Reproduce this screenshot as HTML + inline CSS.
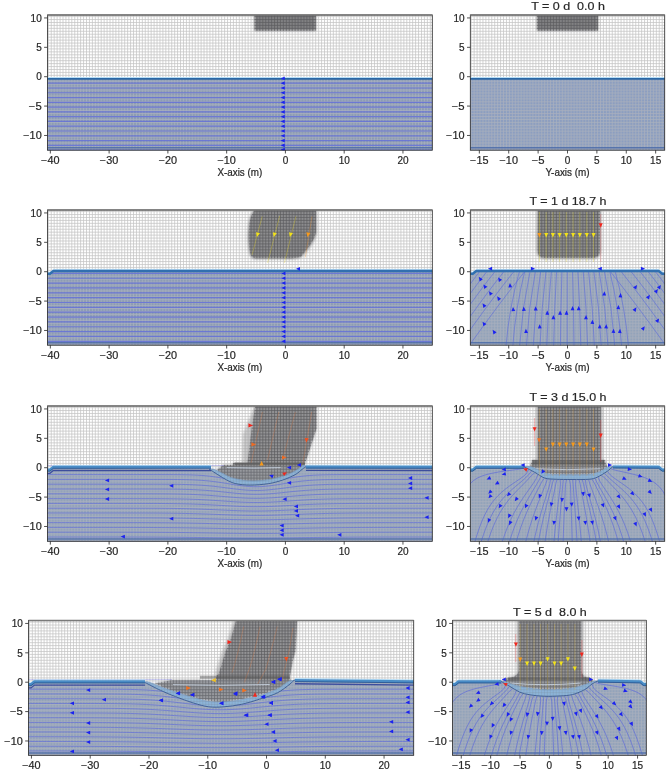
<!DOCTYPE html><html><head><meta charset="utf-8"><style>html,body{margin:0;padding:0;background:#fff;overflow:hidden}svg{display:block}</style></head><body><svg width="669" height="771" viewBox="0 0 669 771" font-family="Liberation Sans, sans-serif"><defs><filter id="gb" x="0" y="0" width="669" height="771" filterUnits="userSpaceOnUse"><feGaussianBlur stdDeviation="0.3"/></filter><filter id="sb" x="-0.2" y="-0.2" width="1.4" height="1.4"><feGaussianBlur stdDeviation="0.9"/></filter></defs><rect width="669" height="771" fill="#fff"/><g filter="url(#gb)"><clipPath id="cL1"><rect x="47.4" y="15" width="384.9" height="135.2"/></clipPath><g clip-path="url(#cL1)"><rect x="47.4" y="15" width="384.9" height="135.2" fill="#fff"/><path d="M48.3 15V150.2M51.24 15V150.2M54.18 15V150.2M57.12 15V150.2M60.05 15V150.2M62.99 15V150.2M65.93 15V150.2M68.87 15V150.2M71.81 15V150.2M74.75 15V150.2M77.69 15V150.2M80.62 15V150.2M83.56 15V150.2M86.5 15V150.2M89.44 15V150.2M92.38 15V150.2M95.32 15V150.2M98.25 15V150.2M101.19 15V150.2M104.13 15V150.2M107.07 15V150.2M110.01 15V150.2M112.95 15V150.2M115.89 15V150.2M118.82 15V150.2M121.76 15V150.2M124.7 15V150.2M127.64 15V150.2M130.58 15V150.2M133.52 15V150.2M136.46 15V150.2M139.39 15V150.2M142.33 15V150.2M145.27 15V150.2M148.21 15V150.2M151.15 15V150.2M154.09 15V150.2M157.02 15V150.2M159.96 15V150.2M162.9 15V150.2M165.84 15V150.2M168.78 15V150.2M171.72 15V150.2M174.66 15V150.2M177.59 15V150.2M180.53 15V150.2M183.47 15V150.2M186.41 15V150.2M189.35 15V150.2M192.29 15V150.2M195.23 15V150.2M198.16 15V150.2M201.1 15V150.2M204.04 15V150.2M206.98 15V150.2M209.92 15V150.2M212.86 15V150.2M215.79 15V150.2M218.73 15V150.2M221.67 15V150.2M224.61 15V150.2M227.55 15V150.2M230.49 15V150.2M233.43 15V150.2M236.36 15V150.2M239.3 15V150.2M242.24 15V150.2M245.18 15V150.2M248.12 15V150.2M251.06 15V150.2M254 15V150.2M256.93 15V150.2M259.87 15V150.2M262.81 15V150.2M265.75 15V150.2M268.69 15V150.2M271.63 15V150.2M274.56 15V150.2M277.5 15V150.2M280.44 15V150.2M283.38 15V150.2M286.32 15V150.2M289.26 15V150.2M292.2 15V150.2M295.13 15V150.2M298.07 15V150.2M301.01 15V150.2M303.95 15V150.2M306.89 15V150.2M309.83 15V150.2M312.76 15V150.2M315.7 15V150.2M318.64 15V150.2M321.58 15V150.2M324.52 15V150.2M327.46 15V150.2M330.4 15V150.2M333.33 15V150.2M336.27 15V150.2M339.21 15V150.2M342.15 15V150.2M345.09 15V150.2M348.03 15V150.2M350.97 15V150.2M353.9 15V150.2M356.84 15V150.2M359.78 15V150.2M362.72 15V150.2M365.66 15V150.2M368.6 15V150.2M371.53 15V150.2M374.47 15V150.2M377.41 15V150.2M380.35 15V150.2M383.29 15V150.2M386.23 15V150.2M389.17 15V150.2M392.1 15V150.2M395.04 15V150.2M397.98 15V150.2M400.92 15V150.2M403.86 15V150.2M406.8 15V150.2M409.74 15V150.2M412.67 15V150.2M415.61 15V150.2M418.55 15V150.2M421.49 15V150.2M424.43 15V150.2M427.37 15V150.2M430.3 15V150.2M47.4 16.6H432.3M47.4 19.54H432.3M47.4 22.48H432.3M47.4 25.42H432.3M47.4 28.35H432.3M47.4 31.29H432.3M47.4 34.23H432.3M47.4 37.17H432.3M47.4 40.11H432.3M47.4 43.05H432.3M47.4 45.98H432.3M47.4 48.92H432.3M47.4 51.86H432.3M47.4 54.8H432.3M47.4 57.74H432.3M47.4 60.68H432.3M47.4 63.62H432.3M47.4 66.55H432.3M47.4 69.49H432.3M47.4 72.43H432.3M47.4 75.37H432.3M47.4 78.31H432.3M47.4 81.25H432.3M47.4 84.19H432.3M47.4 87.12H432.3M47.4 90.06H432.3M47.4 93H432.3M47.4 95.94H432.3M47.4 98.88H432.3M47.4 101.82H432.3M47.4 104.76H432.3M47.4 107.69H432.3M47.4 110.63H432.3M47.4 113.57H432.3M47.4 116.51H432.3M47.4 119.45H432.3M47.4 122.39H432.3M47.4 125.32H432.3M47.4 128.26H432.3M47.4 131.2H432.3M47.4 134.14H432.3M47.4 137.08H432.3M47.4 140.02H432.3M47.4 142.96H432.3M47.4 145.89H432.3M47.4 148.83H432.3" stroke="#c4c4c4" stroke-width="0.75" fill="none"/><clipPath id="wL1"><path d="M46.4 78.85 L433.3 78.85 L433.3 151.2 L46.4 151.2Z"/></clipPath><path d="M46.4 78.85 L433.3 78.85 L433.3 151.2 L46.4 151.2Z" fill="#8c9cb4"/><g clip-path="url(#wL1)"><path d="M48.3 15V150.2M51.24 15V150.2M54.18 15V150.2M57.12 15V150.2M60.05 15V150.2M62.99 15V150.2M65.93 15V150.2M68.87 15V150.2M71.81 15V150.2M74.75 15V150.2M77.69 15V150.2M80.62 15V150.2M83.56 15V150.2M86.5 15V150.2M89.44 15V150.2M92.38 15V150.2M95.32 15V150.2M98.25 15V150.2M101.19 15V150.2M104.13 15V150.2M107.07 15V150.2M110.01 15V150.2M112.95 15V150.2M115.89 15V150.2M118.82 15V150.2M121.76 15V150.2M124.7 15V150.2M127.64 15V150.2M130.58 15V150.2M133.52 15V150.2M136.46 15V150.2M139.39 15V150.2M142.33 15V150.2M145.27 15V150.2M148.21 15V150.2M151.15 15V150.2M154.09 15V150.2M157.02 15V150.2M159.96 15V150.2M162.9 15V150.2M165.84 15V150.2M168.78 15V150.2M171.72 15V150.2M174.66 15V150.2M177.59 15V150.2M180.53 15V150.2M183.47 15V150.2M186.41 15V150.2M189.35 15V150.2M192.29 15V150.2M195.23 15V150.2M198.16 15V150.2M201.1 15V150.2M204.04 15V150.2M206.98 15V150.2M209.92 15V150.2M212.86 15V150.2M215.79 15V150.2M218.73 15V150.2M221.67 15V150.2M224.61 15V150.2M227.55 15V150.2M230.49 15V150.2M233.43 15V150.2M236.36 15V150.2M239.3 15V150.2M242.24 15V150.2M245.18 15V150.2M248.12 15V150.2M251.06 15V150.2M254 15V150.2M256.93 15V150.2M259.87 15V150.2M262.81 15V150.2M265.75 15V150.2M268.69 15V150.2M271.63 15V150.2M274.56 15V150.2M277.5 15V150.2M280.44 15V150.2M283.38 15V150.2M286.32 15V150.2M289.26 15V150.2M292.2 15V150.2M295.13 15V150.2M298.07 15V150.2M301.01 15V150.2M303.95 15V150.2M306.89 15V150.2M309.83 15V150.2M312.76 15V150.2M315.7 15V150.2M318.64 15V150.2M321.58 15V150.2M324.52 15V150.2M327.46 15V150.2M330.4 15V150.2M333.33 15V150.2M336.27 15V150.2M339.21 15V150.2M342.15 15V150.2M345.09 15V150.2M348.03 15V150.2M350.97 15V150.2M353.9 15V150.2M356.84 15V150.2M359.78 15V150.2M362.72 15V150.2M365.66 15V150.2M368.6 15V150.2M371.53 15V150.2M374.47 15V150.2M377.41 15V150.2M380.35 15V150.2M383.29 15V150.2M386.23 15V150.2M389.17 15V150.2M392.1 15V150.2M395.04 15V150.2M397.98 15V150.2M400.92 15V150.2M403.86 15V150.2M406.8 15V150.2M409.74 15V150.2M412.67 15V150.2M415.61 15V150.2M418.55 15V150.2M421.49 15V150.2M424.43 15V150.2M427.37 15V150.2M430.3 15V150.2M47.4 16.6H432.3M47.4 19.54H432.3M47.4 22.48H432.3M47.4 25.42H432.3M47.4 28.35H432.3M47.4 31.29H432.3M47.4 34.23H432.3M47.4 37.17H432.3M47.4 40.11H432.3M47.4 43.05H432.3M47.4 45.98H432.3M47.4 48.92H432.3M47.4 51.86H432.3M47.4 54.8H432.3M47.4 57.74H432.3M47.4 60.68H432.3M47.4 63.62H432.3M47.4 66.55H432.3M47.4 69.49H432.3M47.4 72.43H432.3M47.4 75.37H432.3M47.4 78.31H432.3M47.4 81.25H432.3M47.4 84.19H432.3M47.4 87.12H432.3M47.4 90.06H432.3M47.4 93H432.3M47.4 95.94H432.3M47.4 98.88H432.3M47.4 101.82H432.3M47.4 104.76H432.3M47.4 107.69H432.3M47.4 110.63H432.3M47.4 113.57H432.3M47.4 116.51H432.3M47.4 119.45H432.3M47.4 122.39H432.3M47.4 125.32H432.3M47.4 128.26H432.3M47.4 131.2H432.3M47.4 134.14H432.3M47.4 137.08H432.3M47.4 140.02H432.3M47.4 142.96H432.3M47.4 145.89H432.3M47.4 148.83H432.3" stroke="#aab0be" stroke-width="0.75" fill="none"/><path d="M47.4 83.2H432.3M47.4 87.98H432.3M47.4 92.76H432.3M47.4 97.54H432.3M47.4 102.32H432.3M47.4 107.1H432.3M47.4 111.88H432.3M47.4 116.66H432.3M47.4 121.44H432.3M47.4 126.22H432.3M47.4 131H432.3M47.4 135.78H432.3M47.4 140.56H432.3M47.4 145.34H432.3M47.4 150.12H432.3" stroke="#6470d8" stroke-width="1.2" opacity="0.85" fill="none"/><path d="M47.4 147.8H432.3" stroke="#4c6ca8" stroke-width="1.5" opacity="0.85"/></g><clipPath id="bL1"><path d="M254.5 14 H315.9 V30 Q315.9 30.8 315.1 30.8 H255.3 Q254.5 30.8 254.5 30 Z"/></clipPath><path d="M254.5 14 H315.9 V30 Q315.9 30.8 315.1 30.8 H255.3 Q254.5 30.8 254.5 30 Z" fill="#818183" filter="url(#sb)"/><g clip-path="url(#bL1)" opacity="0.9"><path d="M48.3 15V150.2M51.24 15V150.2M54.18 15V150.2M57.12 15V150.2M60.05 15V150.2M62.99 15V150.2M65.93 15V150.2M68.87 15V150.2M71.81 15V150.2M74.75 15V150.2M77.69 15V150.2M80.62 15V150.2M83.56 15V150.2M86.5 15V150.2M89.44 15V150.2M92.38 15V150.2M95.32 15V150.2M98.25 15V150.2M101.19 15V150.2M104.13 15V150.2M107.07 15V150.2M110.01 15V150.2M112.95 15V150.2M115.89 15V150.2M118.82 15V150.2M121.76 15V150.2M124.7 15V150.2M127.64 15V150.2M130.58 15V150.2M133.52 15V150.2M136.46 15V150.2M139.39 15V150.2M142.33 15V150.2M145.27 15V150.2M148.21 15V150.2M151.15 15V150.2M154.09 15V150.2M157.02 15V150.2M159.96 15V150.2M162.9 15V150.2M165.84 15V150.2M168.78 15V150.2M171.72 15V150.2M174.66 15V150.2M177.59 15V150.2M180.53 15V150.2M183.47 15V150.2M186.41 15V150.2M189.35 15V150.2M192.29 15V150.2M195.23 15V150.2M198.16 15V150.2M201.1 15V150.2M204.04 15V150.2M206.98 15V150.2M209.92 15V150.2M212.86 15V150.2M215.79 15V150.2M218.73 15V150.2M221.67 15V150.2M224.61 15V150.2M227.55 15V150.2M230.49 15V150.2M233.43 15V150.2M236.36 15V150.2M239.3 15V150.2M242.24 15V150.2M245.18 15V150.2M248.12 15V150.2M251.06 15V150.2M254 15V150.2M256.93 15V150.2M259.87 15V150.2M262.81 15V150.2M265.75 15V150.2M268.69 15V150.2M271.63 15V150.2M274.56 15V150.2M277.5 15V150.2M280.44 15V150.2M283.38 15V150.2M286.32 15V150.2M289.26 15V150.2M292.2 15V150.2M295.13 15V150.2M298.07 15V150.2M301.01 15V150.2M303.95 15V150.2M306.89 15V150.2M309.83 15V150.2M312.76 15V150.2M315.7 15V150.2M318.64 15V150.2M321.58 15V150.2M324.52 15V150.2M327.46 15V150.2M330.4 15V150.2M333.33 15V150.2M336.27 15V150.2M339.21 15V150.2M342.15 15V150.2M345.09 15V150.2M348.03 15V150.2M350.97 15V150.2M353.9 15V150.2M356.84 15V150.2M359.78 15V150.2M362.72 15V150.2M365.66 15V150.2M368.6 15V150.2M371.53 15V150.2M374.47 15V150.2M377.41 15V150.2M380.35 15V150.2M383.29 15V150.2M386.23 15V150.2M389.17 15V150.2M392.1 15V150.2M395.04 15V150.2M397.98 15V150.2M400.92 15V150.2M403.86 15V150.2M406.8 15V150.2M409.74 15V150.2M412.67 15V150.2M415.61 15V150.2M418.55 15V150.2M421.49 15V150.2M424.43 15V150.2M427.37 15V150.2M430.3 15V150.2M47.4 16.6H432.3M47.4 19.54H432.3M47.4 22.48H432.3M47.4 25.42H432.3M47.4 28.35H432.3M47.4 31.29H432.3M47.4 34.23H432.3M47.4 37.17H432.3M47.4 40.11H432.3M47.4 43.05H432.3M47.4 45.98H432.3M47.4 48.92H432.3M47.4 51.86H432.3M47.4 54.8H432.3M47.4 57.74H432.3M47.4 60.68H432.3M47.4 63.62H432.3M47.4 66.55H432.3M47.4 69.49H432.3M47.4 72.43H432.3M47.4 75.37H432.3M47.4 78.31H432.3M47.4 81.25H432.3M47.4 84.19H432.3M47.4 87.12H432.3M47.4 90.06H432.3M47.4 93H432.3M47.4 95.94H432.3M47.4 98.88H432.3M47.4 101.82H432.3M47.4 104.76H432.3M47.4 107.69H432.3M47.4 110.63H432.3M47.4 113.57H432.3M47.4 116.51H432.3M47.4 119.45H432.3M47.4 122.39H432.3M47.4 125.32H432.3M47.4 128.26H432.3M47.4 131.2H432.3M47.4 134.14H432.3M47.4 137.08H432.3M47.4 140.02H432.3M47.4 142.96H432.3M47.4 145.89H432.3M47.4 148.83H432.3" stroke="#5e5e60" stroke-width="0.8" fill="none"/></g><path d="M46.4 78.85 L433.3 78.85" fill="none" stroke="#b8def6" stroke-width="1" transform="translate(0,-1.35)"/><path d="M46.4 78.85 L433.3 78.85" fill="none" stroke="#2a66a4" stroke-width="1.9" stroke-linejoin="round"/><polygon points="280.70,78.40 284.73,76.56 284.73,80.24" fill="#1a22f0"/><polygon points="280.70,83.20 284.73,81.36 284.73,85.04" fill="#1a22f0"/><polygon points="280.70,87.98 284.73,86.14 284.73,89.82" fill="#1a22f0"/><polygon points="280.70,92.76 284.73,90.92 284.73,94.60" fill="#1a22f0"/><polygon points="280.70,97.54 284.73,95.70 284.73,99.38" fill="#1a22f0"/><polygon points="280.70,102.32 284.73,100.48 284.73,104.16" fill="#1a22f0"/><polygon points="280.70,107.10 284.73,105.26 284.73,108.94" fill="#1a22f0"/><polygon points="280.70,111.88 284.73,110.04 284.73,113.72" fill="#1a22f0"/><polygon points="280.70,116.66 284.73,114.82 284.73,118.50" fill="#1a22f0"/><polygon points="280.70,121.44 284.73,119.60 284.73,123.28" fill="#1a22f0"/><polygon points="280.70,126.22 284.73,124.38 284.73,128.06" fill="#1a22f0"/><polygon points="280.70,131.00 284.73,129.16 284.73,132.84" fill="#1a22f0"/><polygon points="280.70,135.78 284.73,133.94 284.73,137.62" fill="#1a22f0"/><polygon points="280.70,140.56 284.73,138.72 284.73,142.40" fill="#1a22f0"/><polygon points="280.70,145.34 284.73,143.50 284.73,147.18" fill="#1a22f0"/><polygon points="280.70,150.12 284.73,148.28 284.73,151.96" fill="#1a22f0"/><polygon points="280.70,149.70 284.73,147.86 284.73,151.54" fill="#1a22f0"/></g><rect x="47.4" y="15" width="384.9" height="135.2" fill="none" stroke="#262626" stroke-width="0.8"/><path d="M47.4 15H432.3" stroke="#7a7a7a" stroke-width="1.5"/><path d="M44.1 17.94H47.4" stroke="#262626" stroke-width="0.8"/><text x="41.7" y="21.64" font-size="10.15" text-anchor="end" fill="#262626" stroke="#262626" stroke-width="0.2" textLength="11.13" lengthAdjust="spacingAndGlyphs">10</text><path d="M44.1 47.32H47.4" stroke="#262626" stroke-width="0.8"/><text x="41.7" y="51.02" font-size="10.15" text-anchor="end" fill="#262626" stroke="#262626" stroke-width="0.2" textLength="5.57" lengthAdjust="spacingAndGlyphs">5</text><path d="M44.1 76.71H47.4" stroke="#262626" stroke-width="0.8"/><text x="41.7" y="80.41" font-size="10.15" text-anchor="end" fill="#262626" stroke="#262626" stroke-width="0.2" textLength="5.57" lengthAdjust="spacingAndGlyphs">0</text><path d="M44.1 106.09H47.4" stroke="#262626" stroke-width="0.8"/><text x="41.7" y="109.79" font-size="10.15" text-anchor="end" fill="#262626" stroke="#262626" stroke-width="0.2" textLength="12.9" lengthAdjust="spacingAndGlyphs">−5</text><path d="M44.1 135.48H47.4" stroke="#262626" stroke-width="0.8"/><text x="41.7" y="139.18" font-size="10.15" text-anchor="end" fill="#262626" stroke="#262626" stroke-width="0.2" textLength="18.46" lengthAdjust="spacingAndGlyphs">−10</text><path d="M50.34 150.2V153.5" stroke="#262626" stroke-width="0.8"/><text x="50.34" y="164" font-size="10.15" text-anchor="middle" fill="#262626" stroke="#262626" stroke-width="0.2" textLength="18.46" lengthAdjust="spacingAndGlyphs">−40</text><path d="M109.11 150.2V153.5" stroke="#262626" stroke-width="0.8"/><text x="109.11" y="164" font-size="10.15" text-anchor="middle" fill="#262626" stroke="#262626" stroke-width="0.2" textLength="18.46" lengthAdjust="spacingAndGlyphs">−30</text><path d="M167.88 150.2V153.5" stroke="#262626" stroke-width="0.8"/><text x="167.88" y="164" font-size="10.15" text-anchor="middle" fill="#262626" stroke="#262626" stroke-width="0.2" textLength="18.46" lengthAdjust="spacingAndGlyphs">−20</text><path d="M226.65 150.2V153.5" stroke="#262626" stroke-width="0.8"/><text x="226.65" y="164" font-size="10.15" text-anchor="middle" fill="#262626" stroke="#262626" stroke-width="0.2" textLength="18.46" lengthAdjust="spacingAndGlyphs">−10</text><path d="M285.42 150.2V153.5" stroke="#262626" stroke-width="0.8"/><text x="285.42" y="164" font-size="10.15" text-anchor="middle" fill="#262626" stroke="#262626" stroke-width="0.2" textLength="5.57" lengthAdjust="spacingAndGlyphs">0</text><path d="M344.19 150.2V153.5" stroke="#262626" stroke-width="0.8"/><text x="344.19" y="164" font-size="10.15" text-anchor="middle" fill="#262626" stroke="#262626" stroke-width="0.2" textLength="11.13" lengthAdjust="spacingAndGlyphs">10</text><path d="M402.96 150.2V153.5" stroke="#262626" stroke-width="0.8"/><text x="402.96" y="164" font-size="10.15" text-anchor="middle" fill="#262626" stroke="#262626" stroke-width="0.2" textLength="11.13" lengthAdjust="spacingAndGlyphs">20</text><text x="239.85" y="175.6" font-size="10.15" text-anchor="middle" fill="#262626" stroke="#262626" stroke-width="0.2" textLength="44.82" lengthAdjust="spacingAndGlyphs">X-axis (m)</text><clipPath id="cR1"><rect x="470.3" y="15" width="194.4" height="135.2"/></clipPath><g clip-path="url(#cR1)"><rect x="470.3" y="15" width="194.4" height="135.2" fill="#fff"/><path d="M471.2 15V150.2M474.14 15V150.2M477.08 15V150.2M480.02 15V150.2M482.95 15V150.2M485.89 15V150.2M488.83 15V150.2M491.77 15V150.2M494.71 15V150.2M497.65 15V150.2M500.58 15V150.2M503.52 15V150.2M506.46 15V150.2M509.4 15V150.2M512.34 15V150.2M515.28 15V150.2M518.22 15V150.2M521.15 15V150.2M524.09 15V150.2M527.03 15V150.2M529.97 15V150.2M532.91 15V150.2M535.85 15V150.2M538.79 15V150.2M541.72 15V150.2M544.66 15V150.2M547.6 15V150.2M550.54 15V150.2M553.48 15V150.2M556.42 15V150.2M559.35 15V150.2M562.29 15V150.2M565.23 15V150.2M568.17 15V150.2M571.11 15V150.2M574.05 15V150.2M576.99 15V150.2M579.92 15V150.2M582.86 15V150.2M585.8 15V150.2M588.74 15V150.2M591.68 15V150.2M594.62 15V150.2M597.56 15V150.2M600.49 15V150.2M603.43 15V150.2M606.37 15V150.2M609.31 15V150.2M612.25 15V150.2M615.19 15V150.2M618.12 15V150.2M621.06 15V150.2M624 15V150.2M626.94 15V150.2M629.88 15V150.2M632.82 15V150.2M635.76 15V150.2M638.69 15V150.2M641.63 15V150.2M644.57 15V150.2M647.51 15V150.2M650.45 15V150.2M653.39 15V150.2M656.33 15V150.2M659.26 15V150.2M662.2 15V150.2M470.3 16.6H664.7M470.3 19.54H664.7M470.3 22.48H664.7M470.3 25.42H664.7M470.3 28.35H664.7M470.3 31.29H664.7M470.3 34.23H664.7M470.3 37.17H664.7M470.3 40.11H664.7M470.3 43.05H664.7M470.3 45.98H664.7M470.3 48.92H664.7M470.3 51.86H664.7M470.3 54.8H664.7M470.3 57.74H664.7M470.3 60.68H664.7M470.3 63.62H664.7M470.3 66.55H664.7M470.3 69.49H664.7M470.3 72.43H664.7M470.3 75.37H664.7M470.3 78.31H664.7M470.3 81.25H664.7M470.3 84.19H664.7M470.3 87.12H664.7M470.3 90.06H664.7M470.3 93H664.7M470.3 95.94H664.7M470.3 98.88H664.7M470.3 101.82H664.7M470.3 104.76H664.7M470.3 107.69H664.7M470.3 110.63H664.7M470.3 113.57H664.7M470.3 116.51H664.7M470.3 119.45H664.7M470.3 122.39H664.7M470.3 125.32H664.7M470.3 128.26H664.7M470.3 131.2H664.7M470.3 134.14H664.7M470.3 137.08H664.7M470.3 140.02H664.7M470.3 142.96H664.7M470.3 145.89H664.7M470.3 148.83H664.7" stroke="#c4c4c4" stroke-width="0.75" fill="none"/><clipPath id="wR1"><path d="M469.3 78.85 L665.7 78.85 L665.7 151.2 L469.3 151.2Z"/></clipPath><path d="M469.3 78.85 L665.7 78.85 L665.7 151.2 L469.3 151.2Z" fill="#8c9ec0"/><g clip-path="url(#wR1)"><path d="M471.2 15V150.2M474.14 15V150.2M477.08 15V150.2M480.02 15V150.2M482.95 15V150.2M485.89 15V150.2M488.83 15V150.2M491.77 15V150.2M494.71 15V150.2M497.65 15V150.2M500.58 15V150.2M503.52 15V150.2M506.46 15V150.2M509.4 15V150.2M512.34 15V150.2M515.28 15V150.2M518.22 15V150.2M521.15 15V150.2M524.09 15V150.2M527.03 15V150.2M529.97 15V150.2M532.91 15V150.2M535.85 15V150.2M538.79 15V150.2M541.72 15V150.2M544.66 15V150.2M547.6 15V150.2M550.54 15V150.2M553.48 15V150.2M556.42 15V150.2M559.35 15V150.2M562.29 15V150.2M565.23 15V150.2M568.17 15V150.2M571.11 15V150.2M574.05 15V150.2M576.99 15V150.2M579.92 15V150.2M582.86 15V150.2M585.8 15V150.2M588.74 15V150.2M591.68 15V150.2M594.62 15V150.2M597.56 15V150.2M600.49 15V150.2M603.43 15V150.2M606.37 15V150.2M609.31 15V150.2M612.25 15V150.2M615.19 15V150.2M618.12 15V150.2M621.06 15V150.2M624 15V150.2M626.94 15V150.2M629.88 15V150.2M632.82 15V150.2M635.76 15V150.2M638.69 15V150.2M641.63 15V150.2M644.57 15V150.2M647.51 15V150.2M650.45 15V150.2M653.39 15V150.2M656.33 15V150.2M659.26 15V150.2M662.2 15V150.2M470.3 16.6H664.7M470.3 19.54H664.7M470.3 22.48H664.7M470.3 25.42H664.7M470.3 28.35H664.7M470.3 31.29H664.7M470.3 34.23H664.7M470.3 37.17H664.7M470.3 40.11H664.7M470.3 43.05H664.7M470.3 45.98H664.7M470.3 48.92H664.7M470.3 51.86H664.7M470.3 54.8H664.7M470.3 57.74H664.7M470.3 60.68H664.7M470.3 63.62H664.7M470.3 66.55H664.7M470.3 69.49H664.7M470.3 72.43H664.7M470.3 75.37H664.7M470.3 78.31H664.7M470.3 81.25H664.7M470.3 84.19H664.7M470.3 87.12H664.7M470.3 90.06H664.7M470.3 93H664.7M470.3 95.94H664.7M470.3 98.88H664.7M470.3 101.82H664.7M470.3 104.76H664.7M470.3 107.69H664.7M470.3 110.63H664.7M470.3 113.57H664.7M470.3 116.51H664.7M470.3 119.45H664.7M470.3 122.39H664.7M470.3 125.32H664.7M470.3 128.26H664.7M470.3 131.2H664.7M470.3 134.14H664.7M470.3 137.08H664.7M470.3 140.02H664.7M470.3 142.96H664.7M470.3 145.89H664.7M470.3 148.83H664.7" stroke="#aab0be" stroke-width="0.75" fill="none"/><path d="M470.3 147.8H664.7" stroke="#4c6ca8" stroke-width="1.5" opacity="0.85"/></g><clipPath id="bR1"><path d="M536.9 14 H598.1 V30 Q598.1 30.8 597.3 30.8 H537.7 Q536.9 30.8 536.9 30 Z"/></clipPath><path d="M536.9 14 H598.1 V30 Q598.1 30.8 597.3 30.8 H537.7 Q536.9 30.8 536.9 30 Z" fill="#818183" filter="url(#sb)"/><g clip-path="url(#bR1)" opacity="0.9"><path d="M471.2 15V150.2M474.14 15V150.2M477.08 15V150.2M480.02 15V150.2M482.95 15V150.2M485.89 15V150.2M488.83 15V150.2M491.77 15V150.2M494.71 15V150.2M497.65 15V150.2M500.58 15V150.2M503.52 15V150.2M506.46 15V150.2M509.4 15V150.2M512.34 15V150.2M515.28 15V150.2M518.22 15V150.2M521.15 15V150.2M524.09 15V150.2M527.03 15V150.2M529.97 15V150.2M532.91 15V150.2M535.85 15V150.2M538.79 15V150.2M541.72 15V150.2M544.66 15V150.2M547.6 15V150.2M550.54 15V150.2M553.48 15V150.2M556.42 15V150.2M559.35 15V150.2M562.29 15V150.2M565.23 15V150.2M568.17 15V150.2M571.11 15V150.2M574.05 15V150.2M576.99 15V150.2M579.92 15V150.2M582.86 15V150.2M585.8 15V150.2M588.74 15V150.2M591.68 15V150.2M594.62 15V150.2M597.56 15V150.2M600.49 15V150.2M603.43 15V150.2M606.37 15V150.2M609.31 15V150.2M612.25 15V150.2M615.19 15V150.2M618.12 15V150.2M621.06 15V150.2M624 15V150.2M626.94 15V150.2M629.88 15V150.2M632.82 15V150.2M635.76 15V150.2M638.69 15V150.2M641.63 15V150.2M644.57 15V150.2M647.51 15V150.2M650.45 15V150.2M653.39 15V150.2M656.33 15V150.2M659.26 15V150.2M662.2 15V150.2M470.3 16.6H664.7M470.3 19.54H664.7M470.3 22.48H664.7M470.3 25.42H664.7M470.3 28.35H664.7M470.3 31.29H664.7M470.3 34.23H664.7M470.3 37.17H664.7M470.3 40.11H664.7M470.3 43.05H664.7M470.3 45.98H664.7M470.3 48.92H664.7M470.3 51.86H664.7M470.3 54.8H664.7M470.3 57.74H664.7M470.3 60.68H664.7M470.3 63.62H664.7M470.3 66.55H664.7M470.3 69.49H664.7M470.3 72.43H664.7M470.3 75.37H664.7M470.3 78.31H664.7M470.3 81.25H664.7M470.3 84.19H664.7M470.3 87.12H664.7M470.3 90.06H664.7M470.3 93H664.7M470.3 95.94H664.7M470.3 98.88H664.7M470.3 101.82H664.7M470.3 104.76H664.7M470.3 107.69H664.7M470.3 110.63H664.7M470.3 113.57H664.7M470.3 116.51H664.7M470.3 119.45H664.7M470.3 122.39H664.7M470.3 125.32H664.7M470.3 128.26H664.7M470.3 131.2H664.7M470.3 134.14H664.7M470.3 137.08H664.7M470.3 140.02H664.7M470.3 142.96H664.7M470.3 145.89H664.7M470.3 148.83H664.7" stroke="#5e5e60" stroke-width="0.8" fill="none"/></g><path d="M469.3 78.85 L665.7 78.85" fill="none" stroke="#b8def6" stroke-width="1" transform="translate(0,-1.35)"/><path d="M469.3 78.85 L665.7 78.85" fill="none" stroke="#2a66a4" stroke-width="1.9" stroke-linejoin="round"/></g><rect x="470.3" y="15" width="194.4" height="135.2" fill="none" stroke="#262626" stroke-width="0.8"/><path d="M470.3 15H664.7" stroke="#7a7a7a" stroke-width="1.5"/><path d="M467 17.94H470.3" stroke="#262626" stroke-width="0.8"/><text x="464.6" y="21.64" font-size="10.15" text-anchor="end" fill="#262626" stroke="#262626" stroke-width="0.2" textLength="11.13" lengthAdjust="spacingAndGlyphs">10</text><path d="M467 47.32H470.3" stroke="#262626" stroke-width="0.8"/><text x="464.6" y="51.02" font-size="10.15" text-anchor="end" fill="#262626" stroke="#262626" stroke-width="0.2" textLength="5.57" lengthAdjust="spacingAndGlyphs">5</text><path d="M467 76.71H470.3" stroke="#262626" stroke-width="0.8"/><text x="464.6" y="80.41" font-size="10.15" text-anchor="end" fill="#262626" stroke="#262626" stroke-width="0.2" textLength="5.57" lengthAdjust="spacingAndGlyphs">0</text><path d="M467 106.09H470.3" stroke="#262626" stroke-width="0.8"/><text x="464.6" y="109.79" font-size="10.15" text-anchor="end" fill="#262626" stroke="#262626" stroke-width="0.2" textLength="12.9" lengthAdjust="spacingAndGlyphs">−5</text><path d="M467 135.48H470.3" stroke="#262626" stroke-width="0.8"/><text x="464.6" y="139.18" font-size="10.15" text-anchor="end" fill="#262626" stroke="#262626" stroke-width="0.2" textLength="18.46" lengthAdjust="spacingAndGlyphs">−10</text><path d="M479.35 150.2V153.5" stroke="#262626" stroke-width="0.8"/><text x="479.35" y="164" font-size="10.15" text-anchor="middle" fill="#262626" stroke="#262626" stroke-width="0.2" textLength="18.46" lengthAdjust="spacingAndGlyphs">−15</text><path d="M508.73 150.2V153.5" stroke="#262626" stroke-width="0.8"/><text x="508.73" y="164" font-size="10.15" text-anchor="middle" fill="#262626" stroke="#262626" stroke-width="0.2" textLength="18.46" lengthAdjust="spacingAndGlyphs">−10</text><path d="M538.12 150.2V153.5" stroke="#262626" stroke-width="0.8"/><text x="538.12" y="164" font-size="10.15" text-anchor="middle" fill="#262626" stroke="#262626" stroke-width="0.2" textLength="12.9" lengthAdjust="spacingAndGlyphs">−5</text><path d="M567.5 150.2V153.5" stroke="#262626" stroke-width="0.8"/><text x="567.5" y="164" font-size="10.15" text-anchor="middle" fill="#262626" stroke="#262626" stroke-width="0.2" textLength="5.57" lengthAdjust="spacingAndGlyphs">0</text><path d="M596.88 150.2V153.5" stroke="#262626" stroke-width="0.8"/><text x="596.88" y="164" font-size="10.15" text-anchor="middle" fill="#262626" stroke="#262626" stroke-width="0.2" textLength="5.57" lengthAdjust="spacingAndGlyphs">5</text><path d="M626.27 150.2V153.5" stroke="#262626" stroke-width="0.8"/><text x="626.27" y="164" font-size="10.15" text-anchor="middle" fill="#262626" stroke="#262626" stroke-width="0.2" textLength="11.13" lengthAdjust="spacingAndGlyphs">10</text><path d="M655.65 150.2V153.5" stroke="#262626" stroke-width="0.8"/><text x="655.65" y="164" font-size="10.15" text-anchor="middle" fill="#262626" stroke="#262626" stroke-width="0.2" textLength="11.13" lengthAdjust="spacingAndGlyphs">15</text><text x="567.5" y="175.6" font-size="10.15" text-anchor="middle" fill="#262626" stroke="#262626" stroke-width="0.2" textLength="44.17" lengthAdjust="spacingAndGlyphs">Y-axis (m)</text><text x="568" y="10.3" font-size="11.55" text-anchor="middle" fill="#262626" stroke="#262626" stroke-width="0.2" textLength="73.75" lengthAdjust="spacingAndGlyphs">T = 0 d&#160; 0.0 h</text><clipPath id="cL2"><rect x="47.4" y="210" width="384.9" height="135.2"/></clipPath><g clip-path="url(#cL2)"><rect x="47.4" y="210" width="384.9" height="135.2" fill="#fff"/><path d="M48.3 210V345.2M51.24 210V345.2M54.18 210V345.2M57.12 210V345.2M60.05 210V345.2M62.99 210V345.2M65.93 210V345.2M68.87 210V345.2M71.81 210V345.2M74.75 210V345.2M77.69 210V345.2M80.62 210V345.2M83.56 210V345.2M86.5 210V345.2M89.44 210V345.2M92.38 210V345.2M95.32 210V345.2M98.25 210V345.2M101.19 210V345.2M104.13 210V345.2M107.07 210V345.2M110.01 210V345.2M112.95 210V345.2M115.89 210V345.2M118.82 210V345.2M121.76 210V345.2M124.7 210V345.2M127.64 210V345.2M130.58 210V345.2M133.52 210V345.2M136.46 210V345.2M139.39 210V345.2M142.33 210V345.2M145.27 210V345.2M148.21 210V345.2M151.15 210V345.2M154.09 210V345.2M157.02 210V345.2M159.96 210V345.2M162.9 210V345.2M165.84 210V345.2M168.78 210V345.2M171.72 210V345.2M174.66 210V345.2M177.59 210V345.2M180.53 210V345.2M183.47 210V345.2M186.41 210V345.2M189.35 210V345.2M192.29 210V345.2M195.23 210V345.2M198.16 210V345.2M201.1 210V345.2M204.04 210V345.2M206.98 210V345.2M209.92 210V345.2M212.86 210V345.2M215.79 210V345.2M218.73 210V345.2M221.67 210V345.2M224.61 210V345.2M227.55 210V345.2M230.49 210V345.2M233.43 210V345.2M236.36 210V345.2M239.3 210V345.2M242.24 210V345.2M245.18 210V345.2M248.12 210V345.2M251.06 210V345.2M254 210V345.2M256.93 210V345.2M259.87 210V345.2M262.81 210V345.2M265.75 210V345.2M268.69 210V345.2M271.63 210V345.2M274.56 210V345.2M277.5 210V345.2M280.44 210V345.2M283.38 210V345.2M286.32 210V345.2M289.26 210V345.2M292.2 210V345.2M295.13 210V345.2M298.07 210V345.2M301.01 210V345.2M303.95 210V345.2M306.89 210V345.2M309.83 210V345.2M312.76 210V345.2M315.7 210V345.2M318.64 210V345.2M321.58 210V345.2M324.52 210V345.2M327.46 210V345.2M330.4 210V345.2M333.33 210V345.2M336.27 210V345.2M339.21 210V345.2M342.15 210V345.2M345.09 210V345.2M348.03 210V345.2M350.97 210V345.2M353.9 210V345.2M356.84 210V345.2M359.78 210V345.2M362.72 210V345.2M365.66 210V345.2M368.6 210V345.2M371.53 210V345.2M374.47 210V345.2M377.41 210V345.2M380.35 210V345.2M383.29 210V345.2M386.23 210V345.2M389.17 210V345.2M392.1 210V345.2M395.04 210V345.2M397.98 210V345.2M400.92 210V345.2M403.86 210V345.2M406.8 210V345.2M409.74 210V345.2M412.67 210V345.2M415.61 210V345.2M418.55 210V345.2M421.49 210V345.2M424.43 210V345.2M427.37 210V345.2M430.3 210V345.2M47.4 211.6H432.3M47.4 214.54H432.3M47.4 217.48H432.3M47.4 220.42H432.3M47.4 223.35H432.3M47.4 226.29H432.3M47.4 229.23H432.3M47.4 232.17H432.3M47.4 235.11H432.3M47.4 238.05H432.3M47.4 240.99H432.3M47.4 243.92H432.3M47.4 246.86H432.3M47.4 249.8H432.3M47.4 252.74H432.3M47.4 255.68H432.3M47.4 258.62H432.3M47.4 261.55H432.3M47.4 264.49H432.3M47.4 267.43H432.3M47.4 270.37H432.3M47.4 273.31H432.3M47.4 276.25H432.3M47.4 279.19H432.3M47.4 282.12H432.3M47.4 285.06H432.3M47.4 288H432.3M47.4 290.94H432.3M47.4 293.88H432.3M47.4 296.82H432.3M47.4 299.75H432.3M47.4 302.69H432.3M47.4 305.63H432.3M47.4 308.57H432.3M47.4 311.51H432.3M47.4 314.45H432.3M47.4 317.39H432.3M47.4 320.32H432.3M47.4 323.26H432.3M47.4 326.2H432.3M47.4 329.14H432.3M47.4 332.08H432.3M47.4 335.02H432.3M47.4 337.96H432.3M47.4 340.89H432.3M47.4 343.83H432.3" stroke="#c4c4c4" stroke-width="0.75" fill="none"/><clipPath id="wL2"><path d="M46.4 273.8 L49.9 273.8 L53.4 271 L433.3 271 L433.3 346.2 L46.4 346.2Z"/></clipPath><path d="M46.4 273.8 L49.9 273.8 L53.4 271 L433.3 271 L433.3 346.2 L46.4 346.2Z" fill="#8c9cb4"/><g clip-path="url(#wL2)"><path d="M48.3 210V345.2M51.24 210V345.2M54.18 210V345.2M57.12 210V345.2M60.05 210V345.2M62.99 210V345.2M65.93 210V345.2M68.87 210V345.2M71.81 210V345.2M74.75 210V345.2M77.69 210V345.2M80.62 210V345.2M83.56 210V345.2M86.5 210V345.2M89.44 210V345.2M92.38 210V345.2M95.32 210V345.2M98.25 210V345.2M101.19 210V345.2M104.13 210V345.2M107.07 210V345.2M110.01 210V345.2M112.95 210V345.2M115.89 210V345.2M118.82 210V345.2M121.76 210V345.2M124.7 210V345.2M127.64 210V345.2M130.58 210V345.2M133.52 210V345.2M136.46 210V345.2M139.39 210V345.2M142.33 210V345.2M145.27 210V345.2M148.21 210V345.2M151.15 210V345.2M154.09 210V345.2M157.02 210V345.2M159.96 210V345.2M162.9 210V345.2M165.84 210V345.2M168.78 210V345.2M171.72 210V345.2M174.66 210V345.2M177.59 210V345.2M180.53 210V345.2M183.47 210V345.2M186.41 210V345.2M189.35 210V345.2M192.29 210V345.2M195.23 210V345.2M198.16 210V345.2M201.1 210V345.2M204.04 210V345.2M206.98 210V345.2M209.92 210V345.2M212.86 210V345.2M215.79 210V345.2M218.73 210V345.2M221.67 210V345.2M224.61 210V345.2M227.55 210V345.2M230.49 210V345.2M233.43 210V345.2M236.36 210V345.2M239.3 210V345.2M242.24 210V345.2M245.18 210V345.2M248.12 210V345.2M251.06 210V345.2M254 210V345.2M256.93 210V345.2M259.87 210V345.2M262.81 210V345.2M265.75 210V345.2M268.69 210V345.2M271.63 210V345.2M274.56 210V345.2M277.5 210V345.2M280.44 210V345.2M283.38 210V345.2M286.32 210V345.2M289.26 210V345.2M292.2 210V345.2M295.13 210V345.2M298.07 210V345.2M301.01 210V345.2M303.95 210V345.2M306.89 210V345.2M309.83 210V345.2M312.76 210V345.2M315.7 210V345.2M318.64 210V345.2M321.58 210V345.2M324.52 210V345.2M327.46 210V345.2M330.4 210V345.2M333.33 210V345.2M336.27 210V345.2M339.21 210V345.2M342.15 210V345.2M345.09 210V345.2M348.03 210V345.2M350.97 210V345.2M353.9 210V345.2M356.84 210V345.2M359.78 210V345.2M362.72 210V345.2M365.66 210V345.2M368.6 210V345.2M371.53 210V345.2M374.47 210V345.2M377.41 210V345.2M380.35 210V345.2M383.29 210V345.2M386.23 210V345.2M389.17 210V345.2M392.1 210V345.2M395.04 210V345.2M397.98 210V345.2M400.92 210V345.2M403.86 210V345.2M406.8 210V345.2M409.74 210V345.2M412.67 210V345.2M415.61 210V345.2M418.55 210V345.2M421.49 210V345.2M424.43 210V345.2M427.37 210V345.2M430.3 210V345.2M47.4 211.6H432.3M47.4 214.54H432.3M47.4 217.48H432.3M47.4 220.42H432.3M47.4 223.35H432.3M47.4 226.29H432.3M47.4 229.23H432.3M47.4 232.17H432.3M47.4 235.11H432.3M47.4 238.05H432.3M47.4 240.99H432.3M47.4 243.92H432.3M47.4 246.86H432.3M47.4 249.8H432.3M47.4 252.74H432.3M47.4 255.68H432.3M47.4 258.62H432.3M47.4 261.55H432.3M47.4 264.49H432.3M47.4 267.43H432.3M47.4 270.37H432.3M47.4 273.31H432.3M47.4 276.25H432.3M47.4 279.19H432.3M47.4 282.12H432.3M47.4 285.06H432.3M47.4 288H432.3M47.4 290.94H432.3M47.4 293.88H432.3M47.4 296.82H432.3M47.4 299.75H432.3M47.4 302.69H432.3M47.4 305.63H432.3M47.4 308.57H432.3M47.4 311.51H432.3M47.4 314.45H432.3M47.4 317.39H432.3M47.4 320.32H432.3M47.4 323.26H432.3M47.4 326.2H432.3M47.4 329.14H432.3M47.4 332.08H432.3M47.4 335.02H432.3M47.4 337.96H432.3M47.4 340.89H432.3M47.4 343.83H432.3" stroke="#aab0be" stroke-width="0.75" fill="none"/><path d="M47.4 273.4H432.3M47.4 278.25H432.3M47.4 283.1H432.3M47.4 287.95H432.3M47.4 292.8H432.3M47.4 297.65H432.3M47.4 302.5H432.3M47.4 307.35H432.3M47.4 312.2H432.3M47.4 317.05H432.3M47.4 321.9H432.3M47.4 326.75H432.3M47.4 331.6H432.3M47.4 336.45H432.3M47.4 341.3H432.3" stroke="#6470d8" stroke-width="1.2" opacity="0.85" fill="none"/><path d="M47.4 342.8H432.3" stroke="#4c6ca8" stroke-width="1.5" opacity="0.85"/></g><path d="M255 209 H317.2 V232 C316.5 241 307 252.5 301 258 C297 259.6 292 259.6 288 259.6 L255 259.6 C251 259.3 249 256 248.3 250 C247.2 242 247.2 232 248 225 C248.8 217 251 212 255 209 Z" fill="#8c8c8e" filter="url(#sb)" opacity="0.42"/><clipPath id="bL2"><path d="M255.5 209 H316 V232 C315 240 306 251 300.6 256.8 C297 258.3 292 258.3 288 258.3 L255.5 258.3 C252 258 250.3 255 249.6 250 C248.5 242 248.5 232 249.3 225 C250 218 252 213 255.5 209 Z"/></clipPath><path d="M255.5 209 H316 V232 C315 240 306 251 300.6 256.8 C297 258.3 292 258.3 288 258.3 L255.5 258.3 C252 258 250.3 255 249.6 250 C248.5 242 248.5 232 249.3 225 C250 218 252 213 255.5 209 Z" fill="#8c8c8e" filter="url(#sb)"/><g clip-path="url(#bL2)" opacity="0.9"><path d="M48.3 210V345.2M51.24 210V345.2M54.18 210V345.2M57.12 210V345.2M60.05 210V345.2M62.99 210V345.2M65.93 210V345.2M68.87 210V345.2M71.81 210V345.2M74.75 210V345.2M77.69 210V345.2M80.62 210V345.2M83.56 210V345.2M86.5 210V345.2M89.44 210V345.2M92.38 210V345.2M95.32 210V345.2M98.25 210V345.2M101.19 210V345.2M104.13 210V345.2M107.07 210V345.2M110.01 210V345.2M112.95 210V345.2M115.89 210V345.2M118.82 210V345.2M121.76 210V345.2M124.7 210V345.2M127.64 210V345.2M130.58 210V345.2M133.52 210V345.2M136.46 210V345.2M139.39 210V345.2M142.33 210V345.2M145.27 210V345.2M148.21 210V345.2M151.15 210V345.2M154.09 210V345.2M157.02 210V345.2M159.96 210V345.2M162.9 210V345.2M165.84 210V345.2M168.78 210V345.2M171.72 210V345.2M174.66 210V345.2M177.59 210V345.2M180.53 210V345.2M183.47 210V345.2M186.41 210V345.2M189.35 210V345.2M192.29 210V345.2M195.23 210V345.2M198.16 210V345.2M201.1 210V345.2M204.04 210V345.2M206.98 210V345.2M209.92 210V345.2M212.86 210V345.2M215.79 210V345.2M218.73 210V345.2M221.67 210V345.2M224.61 210V345.2M227.55 210V345.2M230.49 210V345.2M233.43 210V345.2M236.36 210V345.2M239.3 210V345.2M242.24 210V345.2M245.18 210V345.2M248.12 210V345.2M251.06 210V345.2M254 210V345.2M256.93 210V345.2M259.87 210V345.2M262.81 210V345.2M265.75 210V345.2M268.69 210V345.2M271.63 210V345.2M274.56 210V345.2M277.5 210V345.2M280.44 210V345.2M283.38 210V345.2M286.32 210V345.2M289.26 210V345.2M292.2 210V345.2M295.13 210V345.2M298.07 210V345.2M301.01 210V345.2M303.95 210V345.2M306.89 210V345.2M309.83 210V345.2M312.76 210V345.2M315.7 210V345.2M318.64 210V345.2M321.58 210V345.2M324.52 210V345.2M327.46 210V345.2M330.4 210V345.2M333.33 210V345.2M336.27 210V345.2M339.21 210V345.2M342.15 210V345.2M345.09 210V345.2M348.03 210V345.2M350.97 210V345.2M353.9 210V345.2M356.84 210V345.2M359.78 210V345.2M362.72 210V345.2M365.66 210V345.2M368.6 210V345.2M371.53 210V345.2M374.47 210V345.2M377.41 210V345.2M380.35 210V345.2M383.29 210V345.2M386.23 210V345.2M389.17 210V345.2M392.1 210V345.2M395.04 210V345.2M397.98 210V345.2M400.92 210V345.2M403.86 210V345.2M406.8 210V345.2M409.74 210V345.2M412.67 210V345.2M415.61 210V345.2M418.55 210V345.2M421.49 210V345.2M424.43 210V345.2M427.37 210V345.2M430.3 210V345.2M47.4 211.6H432.3M47.4 214.54H432.3M47.4 217.48H432.3M47.4 220.42H432.3M47.4 223.35H432.3M47.4 226.29H432.3M47.4 229.23H432.3M47.4 232.17H432.3M47.4 235.11H432.3M47.4 238.05H432.3M47.4 240.99H432.3M47.4 243.92H432.3M47.4 246.86H432.3M47.4 249.8H432.3M47.4 252.74H432.3M47.4 255.68H432.3M47.4 258.62H432.3M47.4 261.55H432.3M47.4 264.49H432.3M47.4 267.43H432.3M47.4 270.37H432.3M47.4 273.31H432.3M47.4 276.25H432.3M47.4 279.19H432.3M47.4 282.12H432.3M47.4 285.06H432.3M47.4 288H432.3M47.4 290.94H432.3M47.4 293.88H432.3M47.4 296.82H432.3M47.4 299.75H432.3M47.4 302.69H432.3M47.4 305.63H432.3M47.4 308.57H432.3M47.4 311.51H432.3M47.4 314.45H432.3M47.4 317.39H432.3M47.4 320.32H432.3M47.4 323.26H432.3M47.4 326.2H432.3M47.4 329.14H432.3M47.4 332.08H432.3M47.4 335.02H432.3M47.4 337.96H432.3M47.4 340.89H432.3M47.4 343.83H432.3" stroke="#5e5e60" stroke-width="0.8" fill="none"/></g><path d="M46.4 273.8 L49.9 273.8 L53.4 271 L433.3 271" fill="none" stroke="#b8def6" stroke-width="1" transform="translate(0,-1.6)"/><path d="M46.4 273.8 L49.9 273.8 L53.4 271 L433.3 271" fill="none" stroke="#3070b0" stroke-width="2.4" stroke-linejoin="round"/><path d="M262.2 216.4 L252.1 254.8M279.7 215.8 L267.6 262.9M295.9 216.4 L284.4 262.9" stroke="#e8d820" stroke-width="0.6" opacity="0.55" fill="none"/><path d="M312 216.4 L305.3 257.5" stroke="#e89030" stroke-width="0.6" opacity="0.55" fill="none"/><polygon points="256.83,237.11 256.00,232.18 260.01,233.25" fill="#f2e21a"/><polygon points="273.63,237.11 272.80,232.18 276.81,233.25" fill="#f2e21a"/><polygon points="289.83,237.11 289.00,232.18 293.01,233.25" fill="#f2e21a"/><polygon points="307.55,237.16 306.29,232.32 310.39,233.04" fill="#f79a1a"/><polygon points="281.40,273.40 285.43,271.56 285.43,275.24" fill="#1a22f0"/><polygon points="281.40,278.25 285.43,276.41 285.43,280.09" fill="#1a22f0"/><polygon points="281.40,283.10 285.43,281.26 285.43,284.94" fill="#1a22f0"/><polygon points="281.40,287.95 285.43,286.11 285.43,289.79" fill="#1a22f0"/><polygon points="281.40,292.80 285.43,290.96 285.43,294.64" fill="#1a22f0"/><polygon points="281.40,297.65 285.43,295.81 285.43,299.49" fill="#1a22f0"/><polygon points="281.40,302.50 285.43,300.66 285.43,304.34" fill="#1a22f0"/><polygon points="281.40,307.35 285.43,305.51 285.43,309.19" fill="#1a22f0"/><polygon points="281.40,312.20 285.43,310.36 285.43,314.04" fill="#1a22f0"/><polygon points="281.40,317.05 285.43,315.21 285.43,318.89" fill="#1a22f0"/><polygon points="281.40,321.90 285.43,320.06 285.43,323.74" fill="#1a22f0"/><polygon points="281.40,326.75 285.43,324.91 285.43,328.59" fill="#1a22f0"/><polygon points="281.40,331.60 285.43,329.76 285.43,333.44" fill="#1a22f0"/><polygon points="281.40,336.45 285.43,334.61 285.43,338.29" fill="#1a22f0"/><polygon points="281.40,341.30 285.43,339.46 285.43,343.14" fill="#1a22f0"/><polygon points="296.00,268.80 300.03,266.96 300.03,270.64" fill="#1a22f0"/></g><rect x="47.4" y="210" width="384.9" height="135.2" fill="none" stroke="#262626" stroke-width="0.8"/><path d="M47.4 210H432.3" stroke="#7a7a7a" stroke-width="1.5"/><path d="M44.1 212.94H47.4" stroke="#262626" stroke-width="0.8"/><text x="41.7" y="216.64" font-size="10.15" text-anchor="end" fill="#262626" stroke="#262626" stroke-width="0.2" textLength="11.13" lengthAdjust="spacingAndGlyphs">10</text><path d="M44.1 242.32H47.4" stroke="#262626" stroke-width="0.8"/><text x="41.7" y="246.02" font-size="10.15" text-anchor="end" fill="#262626" stroke="#262626" stroke-width="0.2" textLength="5.57" lengthAdjust="spacingAndGlyphs">5</text><path d="M44.1 271.71H47.4" stroke="#262626" stroke-width="0.8"/><text x="41.7" y="275.41" font-size="10.15" text-anchor="end" fill="#262626" stroke="#262626" stroke-width="0.2" textLength="5.57" lengthAdjust="spacingAndGlyphs">0</text><path d="M44.1 301.09H47.4" stroke="#262626" stroke-width="0.8"/><text x="41.7" y="304.79" font-size="10.15" text-anchor="end" fill="#262626" stroke="#262626" stroke-width="0.2" textLength="12.9" lengthAdjust="spacingAndGlyphs">−5</text><path d="M44.1 330.48H47.4" stroke="#262626" stroke-width="0.8"/><text x="41.7" y="334.18" font-size="10.15" text-anchor="end" fill="#262626" stroke="#262626" stroke-width="0.2" textLength="18.46" lengthAdjust="spacingAndGlyphs">−10</text><path d="M50.34 345.2V348.5" stroke="#262626" stroke-width="0.8"/><text x="50.34" y="359" font-size="10.15" text-anchor="middle" fill="#262626" stroke="#262626" stroke-width="0.2" textLength="18.46" lengthAdjust="spacingAndGlyphs">−40</text><path d="M109.11 345.2V348.5" stroke="#262626" stroke-width="0.8"/><text x="109.11" y="359" font-size="10.15" text-anchor="middle" fill="#262626" stroke="#262626" stroke-width="0.2" textLength="18.46" lengthAdjust="spacingAndGlyphs">−30</text><path d="M167.88 345.2V348.5" stroke="#262626" stroke-width="0.8"/><text x="167.88" y="359" font-size="10.15" text-anchor="middle" fill="#262626" stroke="#262626" stroke-width="0.2" textLength="18.46" lengthAdjust="spacingAndGlyphs">−20</text><path d="M226.65 345.2V348.5" stroke="#262626" stroke-width="0.8"/><text x="226.65" y="359" font-size="10.15" text-anchor="middle" fill="#262626" stroke="#262626" stroke-width="0.2" textLength="18.46" lengthAdjust="spacingAndGlyphs">−10</text><path d="M285.42 345.2V348.5" stroke="#262626" stroke-width="0.8"/><text x="285.42" y="359" font-size="10.15" text-anchor="middle" fill="#262626" stroke="#262626" stroke-width="0.2" textLength="5.57" lengthAdjust="spacingAndGlyphs">0</text><path d="M344.19 345.2V348.5" stroke="#262626" stroke-width="0.8"/><text x="344.19" y="359" font-size="10.15" text-anchor="middle" fill="#262626" stroke="#262626" stroke-width="0.2" textLength="11.13" lengthAdjust="spacingAndGlyphs">10</text><path d="M402.96 345.2V348.5" stroke="#262626" stroke-width="0.8"/><text x="402.96" y="359" font-size="10.15" text-anchor="middle" fill="#262626" stroke="#262626" stroke-width="0.2" textLength="11.13" lengthAdjust="spacingAndGlyphs">20</text><text x="239.85" y="370.6" font-size="10.15" text-anchor="middle" fill="#262626" stroke="#262626" stroke-width="0.2" textLength="44.82" lengthAdjust="spacingAndGlyphs">X-axis (m)</text><clipPath id="cR2"><rect x="470.3" y="210" width="194.4" height="135.2"/></clipPath><g clip-path="url(#cR2)"><rect x="470.3" y="210" width="194.4" height="135.2" fill="#fff"/><path d="M471.2 210V345.2M474.14 210V345.2M477.08 210V345.2M480.02 210V345.2M482.95 210V345.2M485.89 210V345.2M488.83 210V345.2M491.77 210V345.2M494.71 210V345.2M497.65 210V345.2M500.58 210V345.2M503.52 210V345.2M506.46 210V345.2M509.4 210V345.2M512.34 210V345.2M515.28 210V345.2M518.22 210V345.2M521.15 210V345.2M524.09 210V345.2M527.03 210V345.2M529.97 210V345.2M532.91 210V345.2M535.85 210V345.2M538.79 210V345.2M541.72 210V345.2M544.66 210V345.2M547.6 210V345.2M550.54 210V345.2M553.48 210V345.2M556.42 210V345.2M559.35 210V345.2M562.29 210V345.2M565.23 210V345.2M568.17 210V345.2M571.11 210V345.2M574.05 210V345.2M576.99 210V345.2M579.92 210V345.2M582.86 210V345.2M585.8 210V345.2M588.74 210V345.2M591.68 210V345.2M594.62 210V345.2M597.56 210V345.2M600.49 210V345.2M603.43 210V345.2M606.37 210V345.2M609.31 210V345.2M612.25 210V345.2M615.19 210V345.2M618.12 210V345.2M621.06 210V345.2M624 210V345.2M626.94 210V345.2M629.88 210V345.2M632.82 210V345.2M635.76 210V345.2M638.69 210V345.2M641.63 210V345.2M644.57 210V345.2M647.51 210V345.2M650.45 210V345.2M653.39 210V345.2M656.33 210V345.2M659.26 210V345.2M662.2 210V345.2M470.3 211.6H664.7M470.3 214.54H664.7M470.3 217.48H664.7M470.3 220.42H664.7M470.3 223.35H664.7M470.3 226.29H664.7M470.3 229.23H664.7M470.3 232.17H664.7M470.3 235.11H664.7M470.3 238.05H664.7M470.3 240.99H664.7M470.3 243.92H664.7M470.3 246.86H664.7M470.3 249.8H664.7M470.3 252.74H664.7M470.3 255.68H664.7M470.3 258.62H664.7M470.3 261.55H664.7M470.3 264.49H664.7M470.3 267.43H664.7M470.3 270.37H664.7M470.3 273.31H664.7M470.3 276.25H664.7M470.3 279.19H664.7M470.3 282.12H664.7M470.3 285.06H664.7M470.3 288H664.7M470.3 290.94H664.7M470.3 293.88H664.7M470.3 296.82H664.7M470.3 299.75H664.7M470.3 302.69H664.7M470.3 305.63H664.7M470.3 308.57H664.7M470.3 311.51H664.7M470.3 314.45H664.7M470.3 317.39H664.7M470.3 320.32H664.7M470.3 323.26H664.7M470.3 326.2H664.7M470.3 329.14H664.7M470.3 332.08H664.7M470.3 335.02H664.7M470.3 337.96H664.7M470.3 340.89H664.7M470.3 343.83H664.7" stroke="#c4c4c4" stroke-width="0.75" fill="none"/><clipPath id="wR2"><path d="M469.3 273.8 L472.8 273.8 L476.3 271 L658.7 271 L662.2 273.8 L665.7 273.8 L665.7 346.2 L469.3 346.2Z"/></clipPath><path d="M469.3 273.8 L472.8 273.8 L476.3 271 L658.7 271 L662.2 273.8 L665.7 273.8 L665.7 346.2 L469.3 346.2Z" fill="#93a3ba"/><g clip-path="url(#wR2)"><path d="M471.2 210V345.2M474.14 210V345.2M477.08 210V345.2M480.02 210V345.2M482.95 210V345.2M485.89 210V345.2M488.83 210V345.2M491.77 210V345.2M494.71 210V345.2M497.65 210V345.2M500.58 210V345.2M503.52 210V345.2M506.46 210V345.2M509.4 210V345.2M512.34 210V345.2M515.28 210V345.2M518.22 210V345.2M521.15 210V345.2M524.09 210V345.2M527.03 210V345.2M529.97 210V345.2M532.91 210V345.2M535.85 210V345.2M538.79 210V345.2M541.72 210V345.2M544.66 210V345.2M547.6 210V345.2M550.54 210V345.2M553.48 210V345.2M556.42 210V345.2M559.35 210V345.2M562.29 210V345.2M565.23 210V345.2M568.17 210V345.2M571.11 210V345.2M574.05 210V345.2M576.99 210V345.2M579.92 210V345.2M582.86 210V345.2M585.8 210V345.2M588.74 210V345.2M591.68 210V345.2M594.62 210V345.2M597.56 210V345.2M600.49 210V345.2M603.43 210V345.2M606.37 210V345.2M609.31 210V345.2M612.25 210V345.2M615.19 210V345.2M618.12 210V345.2M621.06 210V345.2M624 210V345.2M626.94 210V345.2M629.88 210V345.2M632.82 210V345.2M635.76 210V345.2M638.69 210V345.2M641.63 210V345.2M644.57 210V345.2M647.51 210V345.2M650.45 210V345.2M653.39 210V345.2M656.33 210V345.2M659.26 210V345.2M662.2 210V345.2M470.3 211.6H664.7M470.3 214.54H664.7M470.3 217.48H664.7M470.3 220.42H664.7M470.3 223.35H664.7M470.3 226.29H664.7M470.3 229.23H664.7M470.3 232.17H664.7M470.3 235.11H664.7M470.3 238.05H664.7M470.3 240.99H664.7M470.3 243.92H664.7M470.3 246.86H664.7M470.3 249.8H664.7M470.3 252.74H664.7M470.3 255.68H664.7M470.3 258.62H664.7M470.3 261.55H664.7M470.3 264.49H664.7M470.3 267.43H664.7M470.3 270.37H664.7M470.3 273.31H664.7M470.3 276.25H664.7M470.3 279.19H664.7M470.3 282.12H664.7M470.3 285.06H664.7M470.3 288H664.7M470.3 290.94H664.7M470.3 293.88H664.7M470.3 296.82H664.7M470.3 299.75H664.7M470.3 302.69H664.7M470.3 305.63H664.7M470.3 308.57H664.7M470.3 311.51H664.7M470.3 314.45H664.7M470.3 317.39H664.7M470.3 320.32H664.7M470.3 323.26H664.7M470.3 326.2H664.7M470.3 329.14H664.7M470.3 332.08H664.7M470.3 335.02H664.7M470.3 337.96H664.7M470.3 340.89H664.7M470.3 343.83H664.7" stroke="#aab0be" stroke-width="0.75" fill="none"/><path d="M470.3 284 Q475.3 277 479.3 272M664.7 284 Q659.7 277 655.7 272M470.3 293.6 Q479.3 281 486.5 272M664.7 293.6 Q655.7 281 648.5 272M470.3 304.4 Q483.8 285.5 494.6 272M664.7 304.4 Q651.2 285.5 640.4 272M470.3 316.4 Q488.8 290.5 503.6 272M664.7 316.4 Q646.2 290.5 631.4 272M470.3 329.6 Q494.3 296 513.5 272M664.7 329.6 Q640.7 296 621.5 272M470.3 344 Q500.3 302 524.3 272M664.7 344 Q634.7 302 610.7 272M506 346.2 Q509.07 308.1 519.53 271M512.8 346.2 Q515.53 308.1 524.83 271M519.6 346.2 Q521.99 308.1 530.14 271M526.4 346.2 Q528.45 308.1 535.44 271M533.2 346.2 Q534.91 308.1 540.75 271M540 346.2 Q541.37 308.1 546.05 271M546.8 346.2 Q547.83 308.1 551.35 271M553.6 346.2 Q554.29 308.1 556.66 271M560.4 346.2 Q560.75 308.1 561.96 271M567.2 346.2 Q567.21 308.1 567.27 271M574 346.2 Q573.67 308.1 572.57 271M580.8 346.2 Q580.13 308.1 577.87 271M587.6 346.2 Q586.59 308.1 583.18 271M594.4 346.2 Q593.05 308.1 588.48 271M601.2 346.2 Q599.51 308.1 593.79 271M608 346.2 Q605.97 308.1 599.09 271M614.8 346.2 Q612.43 308.1 604.39 271M621.6 346.2 Q618.89 308.1 609.7 271M628.4 346.2 Q625.35 308.1 615 271" stroke="#6470d8" stroke-width="0.85" opacity="0.8" fill="none"/><path d="M470.3 342.8H664.7" stroke="#4c6ca8" stroke-width="1.5" opacity="0.85"/></g><path d="M536.3 209 H601.6 V250 Q601.6 259.5 592 259.5 H545 Q536 259.5 536 250 Z" fill="#8c8c8e" filter="url(#sb)" opacity="0.42"/><clipPath id="bR2"><path d="M537.9 209 H600 V250 Q600 258 592 258 H545 Q537.6 258 537.6 250 Z"/></clipPath><path d="M537.9 209 H600 V250 Q600 258 592 258 H545 Q537.6 258 537.6 250 Z" fill="#8c8c8e" filter="url(#sb)"/><g clip-path="url(#bR2)" opacity="0.9"><path d="M471.2 210V345.2M474.14 210V345.2M477.08 210V345.2M480.02 210V345.2M482.95 210V345.2M485.89 210V345.2M488.83 210V345.2M491.77 210V345.2M494.71 210V345.2M497.65 210V345.2M500.58 210V345.2M503.52 210V345.2M506.46 210V345.2M509.4 210V345.2M512.34 210V345.2M515.28 210V345.2M518.22 210V345.2M521.15 210V345.2M524.09 210V345.2M527.03 210V345.2M529.97 210V345.2M532.91 210V345.2M535.85 210V345.2M538.79 210V345.2M541.72 210V345.2M544.66 210V345.2M547.6 210V345.2M550.54 210V345.2M553.48 210V345.2M556.42 210V345.2M559.35 210V345.2M562.29 210V345.2M565.23 210V345.2M568.17 210V345.2M571.11 210V345.2M574.05 210V345.2M576.99 210V345.2M579.92 210V345.2M582.86 210V345.2M585.8 210V345.2M588.74 210V345.2M591.68 210V345.2M594.62 210V345.2M597.56 210V345.2M600.49 210V345.2M603.43 210V345.2M606.37 210V345.2M609.31 210V345.2M612.25 210V345.2M615.19 210V345.2M618.12 210V345.2M621.06 210V345.2M624 210V345.2M626.94 210V345.2M629.88 210V345.2M632.82 210V345.2M635.76 210V345.2M638.69 210V345.2M641.63 210V345.2M644.57 210V345.2M647.51 210V345.2M650.45 210V345.2M653.39 210V345.2M656.33 210V345.2M659.26 210V345.2M662.2 210V345.2M470.3 211.6H664.7M470.3 214.54H664.7M470.3 217.48H664.7M470.3 220.42H664.7M470.3 223.35H664.7M470.3 226.29H664.7M470.3 229.23H664.7M470.3 232.17H664.7M470.3 235.11H664.7M470.3 238.05H664.7M470.3 240.99H664.7M470.3 243.92H664.7M470.3 246.86H664.7M470.3 249.8H664.7M470.3 252.74H664.7M470.3 255.68H664.7M470.3 258.62H664.7M470.3 261.55H664.7M470.3 264.49H664.7M470.3 267.43H664.7M470.3 270.37H664.7M470.3 273.31H664.7M470.3 276.25H664.7M470.3 279.19H664.7M470.3 282.12H664.7M470.3 285.06H664.7M470.3 288H664.7M470.3 290.94H664.7M470.3 293.88H664.7M470.3 296.82H664.7M470.3 299.75H664.7M470.3 302.69H664.7M470.3 305.63H664.7M470.3 308.57H664.7M470.3 311.51H664.7M470.3 314.45H664.7M470.3 317.39H664.7M470.3 320.32H664.7M470.3 323.26H664.7M470.3 326.2H664.7M470.3 329.14H664.7M470.3 332.08H664.7M470.3 335.02H664.7M470.3 337.96H664.7M470.3 340.89H664.7M470.3 343.83H664.7" stroke="#5e5e60" stroke-width="0.8" fill="none"/></g><path d="M469.3 273.8 L472.8 273.8 L476.3 271 L658.7 271 L662.2 273.8 L665.7 273.8" fill="none" stroke="#b8def6" stroke-width="1" transform="translate(0,-1.6)"/><path d="M469.3 273.8 L472.8 273.8 L476.3 271 L658.7 271 L662.2 273.8 L665.7 273.8" fill="none" stroke="#3070b0" stroke-width="2.4" stroke-linejoin="round"/><path d="M539.4 212V262M546.2 212V262M552.9 212V262M559.6 212V262M566.3 212V262M573.1 212V262M579.8 212V262M586.8 212V262M593.5 212V262" stroke="#e8d820" stroke-width="0.6" opacity="0.5" fill="none"/><polygon points="546.20,237.40 544.20,233.03 548.20,233.03" fill="#f2e21a"/><polygon points="552.90,237.40 550.90,233.03 554.90,233.03" fill="#f2e21a"/><polygon points="559.60,237.40 557.60,233.03 561.60,233.03" fill="#f2e21a"/><polygon points="566.30,237.40 564.30,233.03 568.30,233.03" fill="#f2e21a"/><polygon points="573.10,237.40 571.10,233.03 575.10,233.03" fill="#f2e21a"/><polygon points="579.80,237.40 577.80,233.03 581.80,233.03" fill="#f2e21a"/><polygon points="586.80,237.40 584.80,233.03 588.80,233.03" fill="#f2e21a"/><polygon points="593.50,237.40 591.50,233.03 595.50,233.03" fill="#f2e21a"/><polygon points="539.40,237.40 537.40,233.03 541.40,233.03" fill="#f79a1a"/><path d="M600.8 214V262" stroke="#f03030" stroke-width="0.6" opacity="0.4" fill="none"/><polygon points="600.70,227.70 598.70,223.32 602.70,223.32" fill="#f0281e"/><polygon points="478.82,276.83 482.81,279.17 479.66,281.38" fill="#1a22f0"/><polygon points="498.12,277.43 502.11,279.77 498.96,281.98" fill="#1a22f0"/><polygon points="483.42,284.43 487.41,286.77 484.26,288.98" fill="#1a22f0"/><polygon points="509.91,283.11 512.16,287.14 508.33,287.45" fill="#1a22f0"/><polygon points="488.92,291.13 492.91,293.47 489.76,295.68" fill="#1a22f0"/><polygon points="497.12,296.33 501.11,298.67 497.96,300.88" fill="#1a22f0"/><polygon points="482.52,303.33 486.51,305.67 483.36,307.88" fill="#1a22f0"/><polygon points="513.02,306.91 515.25,310.95 511.42,311.24" fill="#1a22f0"/><polygon points="523.65,306.60 525.83,310.68 521.99,310.91" fill="#1a22f0"/><polygon points="535.59,306.30 537.70,310.41 533.86,310.58" fill="#1a22f0"/><polygon points="547.23,310.50 549.27,314.65 545.43,314.75" fill="#1a22f0"/><polygon points="553.35,315.10 555.36,319.26 551.52,319.34" fill="#1a22f0"/><polygon points="560.08,310.50 562.04,314.68 558.20,314.72" fill="#1a22f0"/><polygon points="566.50,310.50 568.42,314.70 564.58,314.70" fill="#1a22f0"/><polygon points="572.62,306.00 574.51,310.21 570.67,310.19" fill="#1a22f0"/><polygon points="578.74,306.00 580.59,310.23 576.75,310.17" fill="#1a22f0"/><polygon points="586.06,315.10 587.87,319.35 584.03,319.25" fill="#1a22f0"/><polygon points="592.48,319.70 594.26,323.97 590.42,323.83" fill="#1a22f0"/><polygon points="599.91,324.20 601.64,328.48 597.80,328.31" fill="#1a22f0"/><polygon points="606.33,324.20 608.02,328.50 604.19,328.29" fill="#1a22f0"/><polygon points="613.65,328.80 615.30,333.12 611.47,332.87" fill="#1a22f0"/><polygon points="620.08,328.81 621.68,333.14 617.85,332.85" fill="#1a22f0"/><polygon points="525.86,328.80 528.02,332.89 524.19,333.11" fill="#1a22f0"/><polygon points="539.61,324.20 541.69,328.32 537.85,328.47" fill="#1a22f0"/><polygon points="492.62,329.83 496.61,332.17 493.46,334.38" fill="#1a22f0"/><polygon points="482.52,321.63 486.51,323.97 483.36,326.18" fill="#1a22f0"/><polygon points="604.42,291.30 606.13,295.60 602.29,295.40" fill="#1a22f0"/><polygon points="620.68,293.11 622.28,297.44 618.45,297.15" fill="#1a22f0"/><polygon points="637.08,285.03 636.24,289.58 633.09,287.37" fill="#1a22f0"/><polygon points="649.88,294.83 649.04,299.38 645.89,297.17" fill="#1a22f0"/><polygon points="657.88,289.03 657.04,293.58 653.89,291.37" fill="#1a22f0"/><polygon points="660.88,285.03 660.04,289.58 656.89,287.37" fill="#1a22f0"/><polygon points="618.57,305.01 620.19,309.33 616.36,309.06" fill="#1a22f0"/><polygon points="636.48,307.33 635.64,311.88 632.49,309.67" fill="#1a22f0"/><polygon points="659.08,318.53 658.24,323.08 655.09,320.87" fill="#1a22f0"/><polygon points="644.78,326.23 643.94,330.78 640.79,328.57" fill="#1a22f0"/><polygon points="487.90,268.70 492.10,266.78 492.10,270.62" fill="#1a22f0"/><polygon points="535.10,268.70 530.90,270.62 530.90,266.78" fill="#1a22f0"/><polygon points="597.60,268.70 601.80,266.78 601.80,270.62" fill="#1a22f0"/><polygon points="645.10,268.70 640.90,270.62 640.90,266.78" fill="#1a22f0"/></g><rect x="470.3" y="210" width="194.4" height="135.2" fill="none" stroke="#262626" stroke-width="0.8"/><path d="M470.3 210H664.7" stroke="#7a7a7a" stroke-width="1.5"/><path d="M467 212.94H470.3" stroke="#262626" stroke-width="0.8"/><text x="464.6" y="216.64" font-size="10.15" text-anchor="end" fill="#262626" stroke="#262626" stroke-width="0.2" textLength="11.13" lengthAdjust="spacingAndGlyphs">10</text><path d="M467 242.32H470.3" stroke="#262626" stroke-width="0.8"/><text x="464.6" y="246.02" font-size="10.15" text-anchor="end" fill="#262626" stroke="#262626" stroke-width="0.2" textLength="5.57" lengthAdjust="spacingAndGlyphs">5</text><path d="M467 271.71H470.3" stroke="#262626" stroke-width="0.8"/><text x="464.6" y="275.41" font-size="10.15" text-anchor="end" fill="#262626" stroke="#262626" stroke-width="0.2" textLength="5.57" lengthAdjust="spacingAndGlyphs">0</text><path d="M467 301.09H470.3" stroke="#262626" stroke-width="0.8"/><text x="464.6" y="304.79" font-size="10.15" text-anchor="end" fill="#262626" stroke="#262626" stroke-width="0.2" textLength="12.9" lengthAdjust="spacingAndGlyphs">−5</text><path d="M467 330.48H470.3" stroke="#262626" stroke-width="0.8"/><text x="464.6" y="334.18" font-size="10.15" text-anchor="end" fill="#262626" stroke="#262626" stroke-width="0.2" textLength="18.46" lengthAdjust="spacingAndGlyphs">−10</text><path d="M479.35 345.2V348.5" stroke="#262626" stroke-width="0.8"/><text x="479.35" y="359" font-size="10.15" text-anchor="middle" fill="#262626" stroke="#262626" stroke-width="0.2" textLength="18.46" lengthAdjust="spacingAndGlyphs">−15</text><path d="M508.73 345.2V348.5" stroke="#262626" stroke-width="0.8"/><text x="508.73" y="359" font-size="10.15" text-anchor="middle" fill="#262626" stroke="#262626" stroke-width="0.2" textLength="18.46" lengthAdjust="spacingAndGlyphs">−10</text><path d="M538.12 345.2V348.5" stroke="#262626" stroke-width="0.8"/><text x="538.12" y="359" font-size="10.15" text-anchor="middle" fill="#262626" stroke="#262626" stroke-width="0.2" textLength="12.9" lengthAdjust="spacingAndGlyphs">−5</text><path d="M567.5 345.2V348.5" stroke="#262626" stroke-width="0.8"/><text x="567.5" y="359" font-size="10.15" text-anchor="middle" fill="#262626" stroke="#262626" stroke-width="0.2" textLength="5.57" lengthAdjust="spacingAndGlyphs">0</text><path d="M596.88 345.2V348.5" stroke="#262626" stroke-width="0.8"/><text x="596.88" y="359" font-size="10.15" text-anchor="middle" fill="#262626" stroke="#262626" stroke-width="0.2" textLength="5.57" lengthAdjust="spacingAndGlyphs">5</text><path d="M626.27 345.2V348.5" stroke="#262626" stroke-width="0.8"/><text x="626.27" y="359" font-size="10.15" text-anchor="middle" fill="#262626" stroke="#262626" stroke-width="0.2" textLength="11.13" lengthAdjust="spacingAndGlyphs">10</text><path d="M655.65 345.2V348.5" stroke="#262626" stroke-width="0.8"/><text x="655.65" y="359" font-size="10.15" text-anchor="middle" fill="#262626" stroke="#262626" stroke-width="0.2" textLength="11.13" lengthAdjust="spacingAndGlyphs">15</text><text x="567.5" y="370.6" font-size="10.15" text-anchor="middle" fill="#262626" stroke="#262626" stroke-width="0.2" textLength="44.17" lengthAdjust="spacingAndGlyphs">Y-axis (m)</text><text x="568" y="205.3" font-size="11.55" text-anchor="middle" fill="#262626" stroke="#262626" stroke-width="0.2" textLength="77.08" lengthAdjust="spacingAndGlyphs">T = 1 d 18.7 h</text><clipPath id="cL3"><rect x="47.4" y="406" width="384.9" height="135.3"/></clipPath><g clip-path="url(#cL3)"><rect x="47.4" y="406" width="384.9" height="135.3" fill="#fff"/><path d="M48.3 406V541.3M51.24 406V541.3M54.18 406V541.3M57.12 406V541.3M60.05 406V541.3M62.99 406V541.3M65.93 406V541.3M68.87 406V541.3M71.81 406V541.3M74.75 406V541.3M77.69 406V541.3M80.62 406V541.3M83.56 406V541.3M86.5 406V541.3M89.44 406V541.3M92.38 406V541.3M95.32 406V541.3M98.25 406V541.3M101.19 406V541.3M104.13 406V541.3M107.07 406V541.3M110.01 406V541.3M112.95 406V541.3M115.89 406V541.3M118.82 406V541.3M121.76 406V541.3M124.7 406V541.3M127.64 406V541.3M130.58 406V541.3M133.52 406V541.3M136.46 406V541.3M139.39 406V541.3M142.33 406V541.3M145.27 406V541.3M148.21 406V541.3M151.15 406V541.3M154.09 406V541.3M157.02 406V541.3M159.96 406V541.3M162.9 406V541.3M165.84 406V541.3M168.78 406V541.3M171.72 406V541.3M174.66 406V541.3M177.59 406V541.3M180.53 406V541.3M183.47 406V541.3M186.41 406V541.3M189.35 406V541.3M192.29 406V541.3M195.23 406V541.3M198.16 406V541.3M201.1 406V541.3M204.04 406V541.3M206.98 406V541.3M209.92 406V541.3M212.86 406V541.3M215.79 406V541.3M218.73 406V541.3M221.67 406V541.3M224.61 406V541.3M227.55 406V541.3M230.49 406V541.3M233.43 406V541.3M236.36 406V541.3M239.3 406V541.3M242.24 406V541.3M245.18 406V541.3M248.12 406V541.3M251.06 406V541.3M254 406V541.3M256.93 406V541.3M259.87 406V541.3M262.81 406V541.3M265.75 406V541.3M268.69 406V541.3M271.63 406V541.3M274.56 406V541.3M277.5 406V541.3M280.44 406V541.3M283.38 406V541.3M286.32 406V541.3M289.26 406V541.3M292.2 406V541.3M295.13 406V541.3M298.07 406V541.3M301.01 406V541.3M303.95 406V541.3M306.89 406V541.3M309.83 406V541.3M312.76 406V541.3M315.7 406V541.3M318.64 406V541.3M321.58 406V541.3M324.52 406V541.3M327.46 406V541.3M330.4 406V541.3M333.33 406V541.3M336.27 406V541.3M339.21 406V541.3M342.15 406V541.3M345.09 406V541.3M348.03 406V541.3M350.97 406V541.3M353.9 406V541.3M356.84 406V541.3M359.78 406V541.3M362.72 406V541.3M365.66 406V541.3M368.6 406V541.3M371.53 406V541.3M374.47 406V541.3M377.41 406V541.3M380.35 406V541.3M383.29 406V541.3M386.23 406V541.3M389.17 406V541.3M392.1 406V541.3M395.04 406V541.3M397.98 406V541.3M400.92 406V541.3M403.86 406V541.3M406.8 406V541.3M409.74 406V541.3M412.67 406V541.3M415.61 406V541.3M418.55 406V541.3M421.49 406V541.3M424.43 406V541.3M427.37 406V541.3M430.3 406V541.3M47.4 407.6H432.3M47.4 410.54H432.3M47.4 413.48H432.3M47.4 416.42H432.3M47.4 419.35H432.3M47.4 422.29H432.3M47.4 425.23H432.3M47.4 428.17H432.3M47.4 431.11H432.3M47.4 434.05H432.3M47.4 436.98H432.3M47.4 439.92H432.3M47.4 442.86H432.3M47.4 445.8H432.3M47.4 448.74H432.3M47.4 451.68H432.3M47.4 454.62H432.3M47.4 457.55H432.3M47.4 460.49H432.3M47.4 463.43H432.3M47.4 466.37H432.3M47.4 469.31H432.3M47.4 472.25H432.3M47.4 475.19H432.3M47.4 478.12H432.3M47.4 481.06H432.3M47.4 484H432.3M47.4 486.94H432.3M47.4 489.88H432.3M47.4 492.82H432.3M47.4 495.75H432.3M47.4 498.69H432.3M47.4 501.63H432.3M47.4 504.57H432.3M47.4 507.51H432.3M47.4 510.45H432.3M47.4 513.39H432.3M47.4 516.32H432.3M47.4 519.26H432.3M47.4 522.2H432.3M47.4 525.14H432.3M47.4 528.08H432.3M47.4 531.02H432.3M47.4 533.96H432.3M47.4 536.89H432.3M47.4 539.83H432.3" stroke="#c4c4c4" stroke-width="0.75" fill="none"/><clipPath id="wL3"><path d="M46.4 470 L49.9 470 L53.4 467.2 L209 469.4 L210.8 470.2 L217.9 474.7 L226.9 480.1 L235.9 483.7 L250.2 485.1 L268.2 483.7 L282.5 480.1 L295.1 474.7 L302.2 469.3 L305.8 466.8 L307.6 466.6 L433.3 467.2 L433.3 542.3 L46.4 542.3Z"/></clipPath><path d="M46.4 470 L49.9 470 L53.4 467.2 L209 469.4 L210.8 470.2 L217.9 474.7 L226.9 480.1 L235.9 483.7 L250.2 485.1 L268.2 483.7 L282.5 480.1 L295.1 474.7 L302.2 469.3 L305.8 466.8 L307.6 466.6 L433.3 467.2 L433.3 542.3 L46.4 542.3Z" fill="#93a3ba"/><g clip-path="url(#wL3)"><path d="M48.3 406V541.3M51.24 406V541.3M54.18 406V541.3M57.12 406V541.3M60.05 406V541.3M62.99 406V541.3M65.93 406V541.3M68.87 406V541.3M71.81 406V541.3M74.75 406V541.3M77.69 406V541.3M80.62 406V541.3M83.56 406V541.3M86.5 406V541.3M89.44 406V541.3M92.38 406V541.3M95.32 406V541.3M98.25 406V541.3M101.19 406V541.3M104.13 406V541.3M107.07 406V541.3M110.01 406V541.3M112.95 406V541.3M115.89 406V541.3M118.82 406V541.3M121.76 406V541.3M124.7 406V541.3M127.64 406V541.3M130.58 406V541.3M133.52 406V541.3M136.46 406V541.3M139.39 406V541.3M142.33 406V541.3M145.27 406V541.3M148.21 406V541.3M151.15 406V541.3M154.09 406V541.3M157.02 406V541.3M159.96 406V541.3M162.9 406V541.3M165.84 406V541.3M168.78 406V541.3M171.72 406V541.3M174.66 406V541.3M177.59 406V541.3M180.53 406V541.3M183.47 406V541.3M186.41 406V541.3M189.35 406V541.3M192.29 406V541.3M195.23 406V541.3M198.16 406V541.3M201.1 406V541.3M204.04 406V541.3M206.98 406V541.3M209.92 406V541.3M212.86 406V541.3M215.79 406V541.3M218.73 406V541.3M221.67 406V541.3M224.61 406V541.3M227.55 406V541.3M230.49 406V541.3M233.43 406V541.3M236.36 406V541.3M239.3 406V541.3M242.24 406V541.3M245.18 406V541.3M248.12 406V541.3M251.06 406V541.3M254 406V541.3M256.93 406V541.3M259.87 406V541.3M262.81 406V541.3M265.75 406V541.3M268.69 406V541.3M271.63 406V541.3M274.56 406V541.3M277.5 406V541.3M280.44 406V541.3M283.38 406V541.3M286.32 406V541.3M289.26 406V541.3M292.2 406V541.3M295.13 406V541.3M298.07 406V541.3M301.01 406V541.3M303.95 406V541.3M306.89 406V541.3M309.83 406V541.3M312.76 406V541.3M315.7 406V541.3M318.64 406V541.3M321.58 406V541.3M324.52 406V541.3M327.46 406V541.3M330.4 406V541.3M333.33 406V541.3M336.27 406V541.3M339.21 406V541.3M342.15 406V541.3M345.09 406V541.3M348.03 406V541.3M350.97 406V541.3M353.9 406V541.3M356.84 406V541.3M359.78 406V541.3M362.72 406V541.3M365.66 406V541.3M368.6 406V541.3M371.53 406V541.3M374.47 406V541.3M377.41 406V541.3M380.35 406V541.3M383.29 406V541.3M386.23 406V541.3M389.17 406V541.3M392.1 406V541.3M395.04 406V541.3M397.98 406V541.3M400.92 406V541.3M403.86 406V541.3M406.8 406V541.3M409.74 406V541.3M412.67 406V541.3M415.61 406V541.3M418.55 406V541.3M421.49 406V541.3M424.43 406V541.3M427.37 406V541.3M430.3 406V541.3M47.4 407.6H432.3M47.4 410.54H432.3M47.4 413.48H432.3M47.4 416.42H432.3M47.4 419.35H432.3M47.4 422.29H432.3M47.4 425.23H432.3M47.4 428.17H432.3M47.4 431.11H432.3M47.4 434.05H432.3M47.4 436.98H432.3M47.4 439.92H432.3M47.4 442.86H432.3M47.4 445.8H432.3M47.4 448.74H432.3M47.4 451.68H432.3M47.4 454.62H432.3M47.4 457.55H432.3M47.4 460.49H432.3M47.4 463.43H432.3M47.4 466.37H432.3M47.4 469.31H432.3M47.4 472.25H432.3M47.4 475.19H432.3M47.4 478.12H432.3M47.4 481.06H432.3M47.4 484H432.3M47.4 486.94H432.3M47.4 489.88H432.3M47.4 492.82H432.3M47.4 495.75H432.3M47.4 498.69H432.3M47.4 501.63H432.3M47.4 504.57H432.3M47.4 507.51H432.3M47.4 510.45H432.3M47.4 513.39H432.3M47.4 516.32H432.3M47.4 519.26H432.3M47.4 522.2H432.3M47.4 525.14H432.3M47.4 528.08H432.3M47.4 531.02H432.3M47.4 533.96H432.3M47.4 536.89H432.3M47.4 539.83H432.3" stroke="#aab0be" stroke-width="0.75" fill="none"/><path d="M45.4 474.6 L49.4 474.6 L53.4 474.6 L57.4 474.6 L61.4 474.6 L65.4 474.6 L69.4 474.6 L73.4 474.6 L77.4 474.6 L81.4 474.6 L85.4 474.6 L89.4 474.6 L93.4 474.6 L97.4 474.6 L101.4 474.6 L105.4 474.6 L109.4 474.6 L113.4 474.6 L117.4 474.6 L121.4 474.6 L125.4 474.6 L129.4 474.6 L133.4 474.6 L137.4 474.6 L141.4 474.6 L145.4 474.6 L149.4 474.6 L153.4 474.6 L157.4 474.6 L161.4 474.61 L165.4 474.61 L169.4 474.62 L173.4 474.64 L177.4 474.67 L181.4 474.71 L185.4 474.77 L189.4 474.86 L193.4 475 L197.4 475.18 L201.4 475.43 L205.4 475.75 L209.4 476.16 L213.4 476.67 L217.4 477.27 L221.4 477.96 L225.4 478.72 L229.4 479.53 L233.4 480.36 L237.4 481.15 L241.4 481.87 L245.4 482.47 L249.4 482.91 L253.4 483.15 L257.4 483.18 L261.4 483 L265.4 482.62 L269.4 482.07 L273.4 481.38 L277.4 480.6 L281.4 479.78 L285.4 478.96 L289.4 478.18 L293.4 477.47 L297.4 476.84 L301.4 476.31 L305.4 475.87 L309.4 475.52 L313.4 475.25 L317.4 475.05 L321.4 474.9 L325.4 474.8 L329.4 474.73 L333.4 474.68 L337.4 474.65 L341.4 474.63 L345.4 474.62 L349.4 474.61 L353.4 474.61 L357.4 474.6 L361.4 474.6 L365.4 474.6 L369.4 474.6 L373.4 474.6 L377.4 474.6 L381.4 474.6 L385.4 474.6 L389.4 474.6 L393.4 474.6 L397.4 474.6 L401.4 474.6 L405.4 474.6 L409.4 474.6 L413.4 474.6 L417.4 474.6 L421.4 474.6 L425.4 474.6 L429.4 474.6 L433.4 474.6M45.4 479.4 L49.4 479.4 L53.4 479.4 L57.4 479.4 L61.4 479.4 L65.4 479.4 L69.4 479.4 L73.4 479.4 L77.4 479.4 L81.4 479.4 L85.4 479.4 L89.4 479.4 L93.4 479.4 L97.4 479.4 L101.4 479.4 L105.4 479.4 L109.4 479.4 L113.4 479.4 L117.4 479.4 L121.4 479.4 L125.4 479.4 L129.4 479.4 L133.4 479.4 L137.4 479.4 L141.4 479.4 L145.4 479.4 L149.4 479.4 L153.4 479.41 L157.4 479.41 L161.4 479.42 L165.4 479.43 L169.4 479.44 L173.4 479.47 L177.4 479.5 L181.4 479.56 L185.4 479.64 L189.4 479.74 L193.4 479.89 L197.4 480.09 L201.4 480.34 L205.4 480.66 L209.4 481.04 L213.4 481.5 L217.4 482.02 L221.4 482.61 L225.4 483.24 L229.4 483.9 L233.4 484.55 L237.4 485.17 L241.4 485.72 L245.4 486.18 L249.4 486.51 L253.4 486.69 L257.4 486.71 L261.4 486.58 L265.4 486.29 L269.4 485.87 L273.4 485.35 L277.4 484.74 L281.4 484.1 L285.4 483.44 L289.4 482.8 L293.4 482.19 L297.4 481.65 L301.4 481.17 L305.4 480.76 L309.4 480.43 L313.4 480.16 L317.4 479.95 L321.4 479.78 L325.4 479.67 L329.4 479.58 L333.4 479.52 L337.4 479.48 L341.4 479.45 L345.4 479.43 L349.4 479.42 L353.4 479.41 L357.4 479.41 L361.4 479.4 L365.4 479.4 L369.4 479.4 L373.4 479.4 L377.4 479.4 L381.4 479.4 L385.4 479.4 L389.4 479.4 L393.4 479.4 L397.4 479.4 L401.4 479.4 L405.4 479.4 L409.4 479.4 L413.4 479.4 L417.4 479.4 L421.4 479.4 L425.4 479.4 L429.4 479.4 L433.4 479.4M45.4 484.2 L49.4 484.2 L53.4 484.2 L57.4 484.2 L61.4 484.2 L65.4 484.2 L69.4 484.2 L73.4 484.2 L77.4 484.2 L81.4 484.2 L85.4 484.2 L89.4 484.2 L93.4 484.2 L97.4 484.2 L101.4 484.2 L105.4 484.2 L109.4 484.2 L113.4 484.2 L117.4 484.2 L121.4 484.2 L125.4 484.2 L129.4 484.2 L133.4 484.2 L137.4 484.2 L141.4 484.2 L145.4 484.2 L149.4 484.21 L153.4 484.21 L157.4 484.22 L161.4 484.23 L165.4 484.24 L169.4 484.26 L173.4 484.3 L177.4 484.34 L181.4 484.41 L185.4 484.5 L189.4 484.62 L193.4 484.77 L197.4 484.97 L201.4 485.21 L205.4 485.51 L209.4 485.86 L213.4 486.26 L217.4 486.72 L221.4 487.21 L225.4 487.73 L229.4 488.25 L233.4 488.77 L237.4 489.25 L241.4 489.68 L245.4 490.03 L249.4 490.28 L253.4 490.42 L257.4 490.43 L261.4 490.33 L265.4 490.11 L269.4 489.79 L273.4 489.39 L277.4 488.92 L281.4 488.41 L285.4 487.88 L289.4 487.36 L293.4 486.86 L297.4 486.4 L301.4 485.98 L305.4 485.61 L309.4 485.3 L313.4 485.04 L317.4 484.83 L321.4 484.66 L325.4 484.53 L329.4 484.43 L333.4 484.36 L337.4 484.31 L341.4 484.27 L345.4 484.25 L349.4 484.23 L353.4 484.22 L357.4 484.21 L361.4 484.21 L365.4 484.2 L369.4 484.2 L373.4 484.2 L377.4 484.2 L381.4 484.2 L385.4 484.2 L389.4 484.2 L393.4 484.2 L397.4 484.2 L401.4 484.2 L405.4 484.2 L409.4 484.2 L413.4 484.2 L417.4 484.2 L421.4 484.2 L425.4 484.2 L429.4 484.2 L433.4 484.2M45.4 489 L49.4 489 L53.4 489 L57.4 489 L61.4 489 L65.4 489 L69.4 489 L73.4 489 L77.4 489 L81.4 489 L85.4 489 L89.4 489 L93.4 489 L97.4 489 L101.4 489 L105.4 489 L109.4 489 L113.4 489 L117.4 489 L121.4 489 L125.4 489 L129.4 489 L133.4 489 L137.4 489 L141.4 489 L145.4 489.01 L149.4 489.01 L153.4 489.02 L157.4 489.03 L161.4 489.04 L165.4 489.06 L169.4 489.09 L173.4 489.13 L177.4 489.19 L181.4 489.26 L185.4 489.35 L189.4 489.48 L193.4 489.63 L197.4 489.82 L201.4 490.05 L205.4 490.32 L209.4 490.63 L213.4 490.98 L217.4 491.37 L221.4 491.78 L225.4 492.2 L229.4 492.62 L233.4 493.03 L237.4 493.41 L241.4 493.74 L245.4 494 L249.4 494.19 L253.4 494.3 L257.4 494.31 L261.4 494.24 L265.4 494.07 L269.4 493.82 L273.4 493.51 L277.4 493.15 L281.4 492.75 L285.4 492.33 L289.4 491.9 L293.4 491.49 L297.4 491.1 L301.4 490.74 L305.4 490.41 L309.4 490.13 L313.4 489.89 L317.4 489.69 L321.4 489.52 L325.4 489.39 L329.4 489.28 L333.4 489.21 L337.4 489.15 L341.4 489.1 L345.4 489.07 L349.4 489.05 L353.4 489.03 L357.4 489.02 L361.4 489.01 L365.4 489.01 L369.4 489 L373.4 489 L377.4 489 L381.4 489 L385.4 489 L389.4 489 L393.4 489 L397.4 489 L401.4 489 L405.4 489 L409.4 489 L413.4 489 L417.4 489 L421.4 489 L425.4 489 L429.4 489 L433.4 489M45.4 493.8 L49.4 493.8 L53.4 493.8 L57.4 493.8 L61.4 493.8 L65.4 493.8 L69.4 493.8 L73.4 493.8 L77.4 493.8 L81.4 493.8 L85.4 493.8 L89.4 493.8 L93.4 493.8 L97.4 493.8 L101.4 493.8 L105.4 493.8 L109.4 493.8 L113.4 493.8 L117.4 493.8 L121.4 493.8 L125.4 493.8 L129.4 493.8 L133.4 493.8 L137.4 493.8 L141.4 493.81 L145.4 493.81 L149.4 493.82 L153.4 493.83 L157.4 493.84 L161.4 493.86 L165.4 493.88 L169.4 493.92 L173.4 493.96 L177.4 494.02 L181.4 494.1 L185.4 494.2 L189.4 494.32 L193.4 494.47 L197.4 494.65 L201.4 494.86 L205.4 495.1 L209.4 495.37 L213.4 495.67 L217.4 495.99 L221.4 496.33 L225.4 496.67 L229.4 497.01 L233.4 497.33 L237.4 497.63 L241.4 497.89 L245.4 498.09 L249.4 498.24 L253.4 498.32 L257.4 498.33 L261.4 498.27 L265.4 498.14 L269.4 497.95 L273.4 497.71 L277.4 497.43 L281.4 497.11 L285.4 496.77 L289.4 496.43 L293.4 496.09 L297.4 495.77 L301.4 495.46 L305.4 495.18 L309.4 494.93 L313.4 494.71 L317.4 494.52 L321.4 494.36 L325.4 494.23 L329.4 494.13 L333.4 494.04 L337.4 493.98 L341.4 493.93 L345.4 493.89 L349.4 493.86 L353.4 493.84 L357.4 493.83 L361.4 493.82 L365.4 493.81 L369.4 493.81 L373.4 493.81 L377.4 493.8 L381.4 493.8 L385.4 493.8 L389.4 493.8 L393.4 493.8 L397.4 493.8 L401.4 493.8 L405.4 493.8 L409.4 493.8 L413.4 493.8 L417.4 493.8 L421.4 493.8 L425.4 493.8 L429.4 493.8 L433.4 493.8M45.4 498.6 L49.4 498.6 L53.4 498.6 L57.4 498.6 L61.4 498.6 L65.4 498.6 L69.4 498.6 L73.4 498.6 L77.4 498.6 L81.4 498.6 L85.4 498.6 L89.4 498.6 L93.4 498.6 L97.4 498.6 L101.4 498.6 L105.4 498.6 L109.4 498.6 L113.4 498.6 L117.4 498.6 L121.4 498.6 L125.4 498.6 L129.4 498.6 L133.4 498.61 L137.4 498.61 L141.4 498.61 L145.4 498.62 L149.4 498.63 L153.4 498.64 L157.4 498.65 L161.4 498.68 L165.4 498.7 L169.4 498.74 L173.4 498.79 L177.4 498.86 L181.4 498.93 L185.4 499.03 L189.4 499.15 L193.4 499.29 L197.4 499.45 L201.4 499.64 L205.4 499.85 L209.4 500.09 L213.4 500.34 L217.4 500.61 L221.4 500.88 L225.4 501.16 L229.4 501.43 L233.4 501.69 L237.4 501.92 L241.4 502.12 L245.4 502.28 L249.4 502.39 L253.4 502.45 L257.4 502.46 L261.4 502.41 L265.4 502.32 L269.4 502.17 L273.4 501.98 L277.4 501.76 L281.4 501.51 L285.4 501.24 L289.4 500.97 L293.4 500.69 L297.4 500.42 L301.4 500.16 L305.4 499.92 L309.4 499.7 L313.4 499.51 L317.4 499.34 L321.4 499.19 L325.4 499.07 L329.4 498.96 L333.4 498.88 L337.4 498.81 L341.4 498.76 L345.4 498.72 L349.4 498.68 L353.4 498.66 L357.4 498.64 L361.4 498.63 L365.4 498.62 L369.4 498.61 L373.4 498.61 L377.4 498.61 L381.4 498.6 L385.4 498.6 L389.4 498.6 L393.4 498.6 L397.4 498.6 L401.4 498.6 L405.4 498.6 L409.4 498.6 L413.4 498.6 L417.4 498.6 L421.4 498.6 L425.4 498.6 L429.4 498.6 L433.4 498.6M45.4 503.4 L49.4 503.4 L53.4 503.4 L57.4 503.4 L61.4 503.4 L65.4 503.4 L69.4 503.4 L73.4 503.4 L77.4 503.4 L81.4 503.4 L85.4 503.4 L89.4 503.4 L93.4 503.4 L97.4 503.4 L101.4 503.4 L105.4 503.4 L109.4 503.4 L113.4 503.4 L117.4 503.4 L121.4 503.4 L125.4 503.4 L129.4 503.41 L133.4 503.41 L137.4 503.41 L141.4 503.42 L145.4 503.43 L149.4 503.44 L153.4 503.45 L157.4 503.47 L161.4 503.49 L165.4 503.53 L169.4 503.57 L173.4 503.62 L177.4 503.68 L181.4 503.76 L185.4 503.85 L189.4 503.96 L193.4 504.09 L197.4 504.24 L201.4 504.4 L205.4 504.59 L209.4 504.79 L213.4 505 L217.4 505.22 L221.4 505.44 L225.4 505.67 L229.4 505.88 L233.4 506.09 L237.4 506.27 L241.4 506.42 L245.4 506.55 L249.4 506.63 L253.4 506.68 L257.4 506.69 L261.4 506.65 L265.4 506.58 L269.4 506.46 L273.4 506.32 L277.4 506.14 L281.4 505.95 L285.4 505.73 L289.4 505.51 L293.4 505.29 L297.4 505.06 L301.4 504.85 L305.4 504.64 L309.4 504.46 L313.4 504.29 L317.4 504.13 L321.4 504 L325.4 503.88 L329.4 503.78 L333.4 503.7 L337.4 503.63 L341.4 503.58 L345.4 503.54 L349.4 503.5 L353.4 503.48 L357.4 503.45 L361.4 503.44 L365.4 503.43 L369.4 503.42 L373.4 503.41 L377.4 503.41 L381.4 503.41 L385.4 503.4 L389.4 503.4 L393.4 503.4 L397.4 503.4 L401.4 503.4 L405.4 503.4 L409.4 503.4 L413.4 503.4 L417.4 503.4 L421.4 503.4 L425.4 503.4 L429.4 503.4 L433.4 503.4M45.4 508.2 L49.4 508.2 L53.4 508.2 L57.4 508.2 L61.4 508.2 L65.4 508.2 L69.4 508.2 L73.4 508.2 L77.4 508.2 L81.4 508.2 L85.4 508.2 L89.4 508.2 L93.4 508.2 L97.4 508.2 L101.4 508.2 L105.4 508.2 L109.4 508.2 L113.4 508.2 L117.4 508.2 L121.4 508.2 L125.4 508.21 L129.4 508.21 L133.4 508.21 L137.4 508.22 L141.4 508.22 L145.4 508.23 L149.4 508.25 L153.4 508.26 L157.4 508.28 L161.4 508.31 L165.4 508.34 L169.4 508.38 L173.4 508.44 L177.4 508.5 L181.4 508.57 L185.4 508.66 L189.4 508.76 L193.4 508.88 L197.4 509.01 L201.4 509.15 L205.4 509.31 L209.4 509.48 L213.4 509.65 L217.4 509.83 L221.4 510.02 L225.4 510.2 L229.4 510.37 L233.4 510.53 L237.4 510.67 L241.4 510.8 L245.4 510.89 L249.4 510.96 L253.4 511 L257.4 511 L261.4 510.97 L265.4 510.92 L269.4 510.83 L273.4 510.71 L277.4 510.58 L281.4 510.42 L285.4 510.25 L289.4 510.07 L293.4 509.89 L297.4 509.71 L301.4 509.53 L305.4 509.36 L309.4 509.2 L313.4 509.05 L317.4 508.91 L321.4 508.79 L325.4 508.69 L329.4 508.6 L333.4 508.52 L337.4 508.45 L341.4 508.4 L345.4 508.35 L349.4 508.32 L353.4 508.29 L357.4 508.27 L361.4 508.25 L365.4 508.24 L369.4 508.23 L373.4 508.22 L377.4 508.21 L381.4 508.21 L385.4 508.21 L389.4 508.2 L393.4 508.2 L397.4 508.2 L401.4 508.2 L405.4 508.2 L409.4 508.2 L413.4 508.2 L417.4 508.2 L421.4 508.2 L425.4 508.2 L429.4 508.2 L433.4 508.2M45.4 513 L49.4 513 L53.4 513 L57.4 513 L61.4 513 L65.4 513 L69.4 513 L73.4 513 L77.4 513 L81.4 513 L85.4 513 L89.4 513 L93.4 513 L97.4 513 L101.4 513 L105.4 513 L109.4 513 L113.4 513 L117.4 513 L121.4 513.01 L125.4 513.01 L129.4 513.01 L133.4 513.02 L137.4 513.02 L141.4 513.03 L145.4 513.04 L149.4 513.06 L153.4 513.07 L157.4 513.09 L161.4 513.12 L165.4 513.16 L169.4 513.2 L173.4 513.25 L177.4 513.31 L181.4 513.38 L185.4 513.46 L189.4 513.55 L193.4 513.65 L197.4 513.76 L201.4 513.89 L205.4 514.02 L209.4 514.16 L213.4 514.31 L217.4 514.46 L221.4 514.61 L225.4 514.75 L229.4 514.89 L233.4 515.02 L237.4 515.13 L241.4 515.23 L245.4 515.3 L249.4 515.36 L253.4 515.38 L257.4 515.39 L261.4 515.37 L265.4 515.32 L269.4 515.25 L273.4 515.16 L277.4 515.05 L281.4 514.93 L285.4 514.79 L289.4 514.65 L293.4 514.5 L297.4 514.35 L301.4 514.21 L305.4 514.06 L309.4 513.93 L313.4 513.8 L317.4 513.68 L321.4 513.58 L325.4 513.48 L329.4 513.4 L333.4 513.33 L337.4 513.27 L341.4 513.21 L345.4 513.17 L349.4 513.13 L353.4 513.1 L357.4 513.08 L361.4 513.06 L365.4 513.05 L369.4 513.03 L373.4 513.02 L377.4 513.02 L381.4 513.01 L385.4 513.01 L389.4 513.01 L393.4 513 L397.4 513 L401.4 513 L405.4 513 L409.4 513 L413.4 513 L417.4 513 L421.4 513 L425.4 513 L429.4 513 L433.4 513M45.4 517.8 L49.4 517.8 L53.4 517.8 L57.4 517.8 L61.4 517.8 L65.4 517.8 L69.4 517.8 L73.4 517.8 L77.4 517.8 L81.4 517.8 L85.4 517.8 L89.4 517.8 L93.4 517.8 L97.4 517.8 L101.4 517.8 L105.4 517.8 L109.4 517.8 L113.4 517.8 L117.4 517.81 L121.4 517.81 L125.4 517.81 L129.4 517.82 L133.4 517.82 L137.4 517.83 L141.4 517.84 L145.4 517.85 L149.4 517.86 L153.4 517.88 L157.4 517.91 L161.4 517.93 L165.4 517.97 L169.4 518.01 L173.4 518.05 L177.4 518.11 L181.4 518.17 L185.4 518.25 L189.4 518.33 L193.4 518.42 L197.4 518.52 L201.4 518.62 L205.4 518.73 L209.4 518.85 L213.4 518.97 L217.4 519.09 L221.4 519.21 L225.4 519.33 L229.4 519.44 L233.4 519.54 L237.4 519.63 L241.4 519.71 L245.4 519.77 L249.4 519.81 L253.4 519.83 L257.4 519.84 L261.4 519.82 L265.4 519.78 L269.4 519.73 L273.4 519.66 L277.4 519.57 L281.4 519.47 L285.4 519.37 L289.4 519.25 L293.4 519.13 L297.4 519.01 L301.4 518.89 L305.4 518.77 L309.4 518.65 L313.4 518.55 L317.4 518.45 L321.4 518.35 L325.4 518.27 L329.4 518.19 L333.4 518.13 L337.4 518.07 L341.4 518.02 L345.4 517.98 L349.4 517.94 L353.4 517.91 L357.4 517.89 L361.4 517.87 L365.4 517.85 L369.4 517.84 L373.4 517.83 L377.4 517.82 L381.4 517.82 L385.4 517.81 L389.4 517.81 L393.4 517.81 L397.4 517.8 L401.4 517.8 L405.4 517.8 L409.4 517.8 L413.4 517.8 L417.4 517.8 L421.4 517.8 L425.4 517.8 L429.4 517.8 L433.4 517.8M45.4 522.6 L49.4 522.6 L53.4 522.6 L57.4 522.6 L61.4 522.6 L65.4 522.6 L69.4 522.6 L73.4 522.6 L77.4 522.6 L81.4 522.6 L85.4 522.6 L89.4 522.6 L93.4 522.6 L97.4 522.6 L101.4 522.6 L105.4 522.6 L109.4 522.6 L113.4 522.61 L117.4 522.61 L121.4 522.61 L125.4 522.61 L129.4 522.62 L133.4 522.63 L137.4 522.63 L141.4 522.64 L145.4 522.66 L149.4 522.67 L153.4 522.69 L157.4 522.71 L161.4 522.74 L165.4 522.77 L169.4 522.81 L173.4 522.86 L177.4 522.91 L181.4 522.96 L185.4 523.03 L189.4 523.1 L193.4 523.18 L197.4 523.26 L201.4 523.35 L205.4 523.45 L209.4 523.54 L213.4 523.64 L217.4 523.74 L221.4 523.84 L225.4 523.93 L229.4 524.02 L233.4 524.1 L237.4 524.17 L241.4 524.23 L245.4 524.28 L249.4 524.31 L253.4 524.33 L257.4 524.33 L261.4 524.32 L265.4 524.29 L269.4 524.25 L273.4 524.19 L277.4 524.13 L281.4 524.05 L285.4 523.96 L289.4 523.87 L293.4 523.77 L297.4 523.67 L301.4 523.57 L305.4 523.48 L309.4 523.38 L313.4 523.29 L317.4 523.2 L321.4 523.12 L325.4 523.05 L329.4 522.98 L333.4 522.92 L337.4 522.87 L341.4 522.82 L345.4 522.78 L349.4 522.75 L353.4 522.72 L357.4 522.7 L361.4 522.68 L365.4 522.66 L369.4 522.65 L373.4 522.64 L377.4 522.63 L381.4 522.62 L385.4 522.62 L389.4 522.61 L393.4 522.61 L397.4 522.61 L401.4 522.6 L405.4 522.6 L409.4 522.6 L413.4 522.6 L417.4 522.6 L421.4 522.6 L425.4 522.6 L429.4 522.6 L433.4 522.6M45.4 527.4 L49.4 527.4 L53.4 527.4 L57.4 527.4 L61.4 527.4 L65.4 527.4 L69.4 527.4 L73.4 527.4 L77.4 527.4 L81.4 527.4 L85.4 527.4 L89.4 527.4 L93.4 527.4 L97.4 527.4 L101.4 527.4 L105.4 527.4 L109.4 527.41 L113.4 527.41 L117.4 527.41 L121.4 527.41 L125.4 527.42 L129.4 527.42 L133.4 527.43 L137.4 527.44 L141.4 527.45 L145.4 527.46 L149.4 527.48 L153.4 527.5 L157.4 527.52 L161.4 527.55 L165.4 527.58 L169.4 527.61 L173.4 527.65 L177.4 527.7 L181.4 527.75 L185.4 527.81 L189.4 527.87 L193.4 527.94 L197.4 528.01 L201.4 528.08 L205.4 528.16 L209.4 528.24 L213.4 528.32 L217.4 528.4 L221.4 528.48 L225.4 528.56 L229.4 528.63 L233.4 528.7 L237.4 528.75 L241.4 528.8 L245.4 528.84 L249.4 528.86 L253.4 528.88 L257.4 528.88 L261.4 528.87 L265.4 528.85 L269.4 528.81 L273.4 528.77 L277.4 528.71 L281.4 528.65 L285.4 528.58 L289.4 528.51 L293.4 528.43 L297.4 528.35 L301.4 528.27 L305.4 528.19 L309.4 528.11 L313.4 528.03 L317.4 527.96 L321.4 527.89 L325.4 527.82 L329.4 527.77 L333.4 527.71 L337.4 527.67 L341.4 527.62 L345.4 527.59 L349.4 527.55 L353.4 527.53 L357.4 527.5 L361.4 527.48 L365.4 527.47 L369.4 527.45 L373.4 527.44 L377.4 527.43 L381.4 527.43 L385.4 527.42 L389.4 527.41 L393.4 527.41 L397.4 527.41 L401.4 527.41 L405.4 527.4 L409.4 527.4 L413.4 527.4 L417.4 527.4 L421.4 527.4 L425.4 527.4 L429.4 527.4 L433.4 527.4M45.4 532.2 L49.4 532.2 L53.4 532.2 L57.4 532.2 L61.4 532.2 L65.4 532.2 L69.4 532.2 L73.4 532.2 L77.4 532.2 L81.4 532.2 L85.4 532.2 L89.4 532.2 L93.4 532.2 L97.4 532.2 L101.4 532.2 L105.4 532.21 L109.4 532.21 L113.4 532.21 L117.4 532.21 L121.4 532.22 L125.4 532.22 L129.4 532.23 L133.4 532.23 L137.4 532.24 L141.4 532.25 L145.4 532.27 L149.4 532.28 L153.4 532.3 L157.4 532.32 L161.4 532.35 L165.4 532.38 L169.4 532.41 L173.4 532.44 L177.4 532.49 L181.4 532.53 L185.4 532.58 L189.4 532.63 L193.4 532.69 L197.4 532.75 L201.4 532.82 L205.4 532.88 L209.4 532.95 L213.4 533.01 L217.4 533.08 L221.4 533.15 L225.4 533.21 L229.4 533.26 L233.4 533.31 L237.4 533.36 L241.4 533.4 L245.4 533.43 L249.4 533.45 L253.4 533.46 L257.4 533.46 L261.4 533.45 L265.4 533.43 L269.4 533.41 L273.4 533.37 L277.4 533.33 L281.4 533.28 L285.4 533.22 L289.4 533.16 L293.4 533.1 L297.4 533.03 L301.4 532.97 L305.4 532.9 L309.4 532.83 L313.4 532.77 L317.4 532.71 L321.4 532.65 L325.4 532.6 L329.4 532.55 L333.4 532.5 L337.4 532.46 L341.4 532.42 L345.4 532.38 L349.4 532.35 L353.4 532.33 L357.4 532.31 L361.4 532.29 L365.4 532.27 L369.4 532.26 L373.4 532.25 L377.4 532.24 L381.4 532.23 L385.4 532.22 L389.4 532.22 L393.4 532.21 L397.4 532.21 L401.4 532.21 L405.4 532.21 L409.4 532.2 L413.4 532.2 L417.4 532.2 L421.4 532.2 L425.4 532.2 L429.4 532.2 L433.4 532.2M45.4 537 L49.4 537 L53.4 537 L57.4 537 L61.4 537 L65.4 537 L69.4 537 L73.4 537 L77.4 537 L81.4 537 L85.4 537 L89.4 537 L93.4 537 L97.4 537 L101.4 537.01 L105.4 537.01 L109.4 537.01 L113.4 537.01 L117.4 537.01 L121.4 537.02 L125.4 537.02 L129.4 537.03 L133.4 537.04 L137.4 537.05 L141.4 537.06 L145.4 537.07 L149.4 537.08 L153.4 537.1 L157.4 537.12 L161.4 537.15 L165.4 537.17 L169.4 537.2 L173.4 537.23 L177.4 537.27 L181.4 537.31 L185.4 537.35 L189.4 537.4 L193.4 537.45 L197.4 537.5 L201.4 537.55 L205.4 537.61 L209.4 537.66 L213.4 537.72 L217.4 537.77 L221.4 537.82 L225.4 537.87 L229.4 537.92 L233.4 537.96 L237.4 537.99 L241.4 538.02 L245.4 538.05 L249.4 538.06 L253.4 538.07 L257.4 538.07 L261.4 538.07 L265.4 538.05 L269.4 538.03 L273.4 538 L277.4 537.97 L281.4 537.93 L285.4 537.89 L289.4 537.84 L293.4 537.79 L297.4 537.73 L301.4 537.68 L305.4 537.62 L309.4 537.57 L313.4 537.51 L317.4 537.46 L321.4 537.41 L325.4 537.37 L329.4 537.32 L333.4 537.28 L337.4 537.24 L341.4 537.21 L345.4 537.18 L349.4 537.15 L353.4 537.13 L357.4 537.11 L361.4 537.09 L365.4 537.07 L369.4 537.06 L373.4 537.05 L377.4 537.04 L381.4 537.03 L385.4 537.03 L389.4 537.02 L393.4 537.02 L397.4 537.01 L401.4 537.01 L405.4 537.01 L409.4 537.01 L413.4 537 L417.4 537 L421.4 537 L425.4 537 L429.4 537 L433.4 537M45.4 541.8 L49.4 541.8 L53.4 541.8 L57.4 541.8 L61.4 541.8 L65.4 541.8 L69.4 541.8 L73.4 541.8 L77.4 541.8 L81.4 541.8 L85.4 541.8 L89.4 541.8 L93.4 541.8 L97.4 541.8 L101.4 541.81 L105.4 541.81 L109.4 541.81 L113.4 541.81 L117.4 541.82 L121.4 541.82 L125.4 541.83 L129.4 541.83 L133.4 541.84 L137.4 541.85 L141.4 541.86 L145.4 541.87 L149.4 541.89 L153.4 541.9 L157.4 541.92 L161.4 541.94 L165.4 541.97 L169.4 541.99 L173.4 542.02 L177.4 542.05 L181.4 542.09 L185.4 542.12 L189.4 542.16 L193.4 542.2 L197.4 542.25 L201.4 542.29 L205.4 542.34 L209.4 542.38 L213.4 542.43 L217.4 542.47 L221.4 542.51 L225.4 542.55 L229.4 542.59 L233.4 542.62 L237.4 542.65 L241.4 542.68 L245.4 542.69 L249.4 542.71 L253.4 542.71 L257.4 542.71 L261.4 542.71 L265.4 542.7 L269.4 542.68 L273.4 542.66 L277.4 542.63 L281.4 542.6 L285.4 542.56 L289.4 542.53 L293.4 542.48 L297.4 542.44 L301.4 542.4 L305.4 542.35 L309.4 542.31 L313.4 542.26 L317.4 542.22 L321.4 542.18 L325.4 542.14 L329.4 542.1 L333.4 542.06 L337.4 542.03 L341.4 542 L345.4 541.97 L349.4 541.95 L353.4 541.93 L357.4 541.91 L361.4 541.89 L365.4 541.88 L369.4 541.86 L373.4 541.85 L377.4 541.84 L381.4 541.83 L385.4 541.83 L389.4 541.82 L393.4 541.82 L397.4 541.81 L401.4 541.81 L405.4 541.81 L409.4 541.81 L413.4 541.81 L417.4 541.8 L421.4 541.8 L425.4 541.8 L429.4 541.8 L433.4 541.8M45.4 546.6 L49.4 546.6 L53.4 546.6 L57.4 546.6 L61.4 546.6 L65.4 546.6 L69.4 546.6 L73.4 546.6 L77.4 546.6 L81.4 546.6 L85.4 546.6 L89.4 546.6 L93.4 546.6 L97.4 546.61 L101.4 546.61 L105.4 546.61 L109.4 546.61 L113.4 546.61 L117.4 546.62 L121.4 546.62 L125.4 546.63 L129.4 546.63 L133.4 546.64 L137.4 546.65 L141.4 546.66 L145.4 546.67 L149.4 546.69 L153.4 546.7 L157.4 546.72 L161.4 546.74 L165.4 546.76 L169.4 546.78 L173.4 546.81 L177.4 546.83 L181.4 546.86 L185.4 546.9 L189.4 546.93 L193.4 546.96 L197.4 547 L201.4 547.04 L205.4 547.07 L209.4 547.11 L213.4 547.15 L217.4 547.18 L221.4 547.22 L225.4 547.25 L229.4 547.28 L233.4 547.31 L237.4 547.33 L241.4 547.35 L245.4 547.36 L249.4 547.37 L253.4 547.38 L257.4 547.38 L261.4 547.38 L265.4 547.37 L269.4 547.35 L273.4 547.34 L277.4 547.31 L281.4 547.29 L285.4 547.26 L289.4 547.23 L293.4 547.19 L297.4 547.16 L301.4 547.12 L305.4 547.09 L309.4 547.05 L313.4 547.01 L317.4 546.97 L321.4 546.94 L325.4 546.91 L329.4 546.87 L333.4 546.84 L337.4 546.81 L341.4 546.79 L345.4 546.76 L349.4 546.74 L353.4 546.72 L357.4 546.71 L361.4 546.69 L365.4 546.68 L369.4 546.66 L373.4 546.65 L377.4 546.64 L381.4 546.64 L385.4 546.63 L389.4 546.62 L393.4 546.62 L397.4 546.62 L401.4 546.61 L405.4 546.61 L409.4 546.61 L413.4 546.61 L417.4 546.6 L421.4 546.6 L425.4 546.6 L429.4 546.6 L433.4 546.6" stroke="#6470d8" stroke-width="0.9" opacity="0.82" fill="none"/><path d="M47.4 538.9H432.3" stroke="#4c6ca8" stroke-width="1.5" opacity="0.85"/></g><path d="M254.9 405 H257 L252 430 L248 463.5 L242.2 463.5 L242.2 459.8 L242.9 434.4 Z" fill="#8c8c8e" filter="url(#sb)" opacity="0.42"/><clipPath id="bL3"><path d="M255.4 405 H316.5 V428.4 L305 463.5 L304 467 C300 471 293 475 285 478 C275 481 265 482 254 482 C244 481.5 234 480 227 477 C222 475 219 473 216 471 L223.3 465 L233 465 L233 463 L247.5 463 L251.5 430 Z"/></clipPath><path d="M255.4 405 H316.5 V428.4 L305 463.5 L304 467 C300 471 293 475 285 478 C275 481 265 482 254 482 C244 481.5 234 480 227 477 C222 475 219 473 216 471 L223.3 465 L233 465 L233 463 L247.5 463 L251.5 430 Z" fill="#939395" filter="url(#sb)"/><g clip-path="url(#bL3)" opacity="0.9"><path d="M48.3 406V541.3M51.24 406V541.3M54.18 406V541.3M57.12 406V541.3M60.05 406V541.3M62.99 406V541.3M65.93 406V541.3M68.87 406V541.3M71.81 406V541.3M74.75 406V541.3M77.69 406V541.3M80.62 406V541.3M83.56 406V541.3M86.5 406V541.3M89.44 406V541.3M92.38 406V541.3M95.32 406V541.3M98.25 406V541.3M101.19 406V541.3M104.13 406V541.3M107.07 406V541.3M110.01 406V541.3M112.95 406V541.3M115.89 406V541.3M118.82 406V541.3M121.76 406V541.3M124.7 406V541.3M127.64 406V541.3M130.58 406V541.3M133.52 406V541.3M136.46 406V541.3M139.39 406V541.3M142.33 406V541.3M145.27 406V541.3M148.21 406V541.3M151.15 406V541.3M154.09 406V541.3M157.02 406V541.3M159.96 406V541.3M162.9 406V541.3M165.84 406V541.3M168.78 406V541.3M171.72 406V541.3M174.66 406V541.3M177.59 406V541.3M180.53 406V541.3M183.47 406V541.3M186.41 406V541.3M189.35 406V541.3M192.29 406V541.3M195.23 406V541.3M198.16 406V541.3M201.1 406V541.3M204.04 406V541.3M206.98 406V541.3M209.92 406V541.3M212.86 406V541.3M215.79 406V541.3M218.73 406V541.3M221.67 406V541.3M224.61 406V541.3M227.55 406V541.3M230.49 406V541.3M233.43 406V541.3M236.36 406V541.3M239.3 406V541.3M242.24 406V541.3M245.18 406V541.3M248.12 406V541.3M251.06 406V541.3M254 406V541.3M256.93 406V541.3M259.87 406V541.3M262.81 406V541.3M265.75 406V541.3M268.69 406V541.3M271.63 406V541.3M274.56 406V541.3M277.5 406V541.3M280.44 406V541.3M283.38 406V541.3M286.32 406V541.3M289.26 406V541.3M292.2 406V541.3M295.13 406V541.3M298.07 406V541.3M301.01 406V541.3M303.95 406V541.3M306.89 406V541.3M309.83 406V541.3M312.76 406V541.3M315.7 406V541.3M318.64 406V541.3M321.58 406V541.3M324.52 406V541.3M327.46 406V541.3M330.4 406V541.3M333.33 406V541.3M336.27 406V541.3M339.21 406V541.3M342.15 406V541.3M345.09 406V541.3M348.03 406V541.3M350.97 406V541.3M353.9 406V541.3M356.84 406V541.3M359.78 406V541.3M362.72 406V541.3M365.66 406V541.3M368.6 406V541.3M371.53 406V541.3M374.47 406V541.3M377.41 406V541.3M380.35 406V541.3M383.29 406V541.3M386.23 406V541.3M389.17 406V541.3M392.1 406V541.3M395.04 406V541.3M397.98 406V541.3M400.92 406V541.3M403.86 406V541.3M406.8 406V541.3M409.74 406V541.3M412.67 406V541.3M415.61 406V541.3M418.55 406V541.3M421.49 406V541.3M424.43 406V541.3M427.37 406V541.3M430.3 406V541.3M47.4 407.6H432.3M47.4 410.54H432.3M47.4 413.48H432.3M47.4 416.42H432.3M47.4 419.35H432.3M47.4 422.29H432.3M47.4 425.23H432.3M47.4 428.17H432.3M47.4 431.11H432.3M47.4 434.05H432.3M47.4 436.98H432.3M47.4 439.92H432.3M47.4 442.86H432.3M47.4 445.8H432.3M47.4 448.74H432.3M47.4 451.68H432.3M47.4 454.62H432.3M47.4 457.55H432.3M47.4 460.49H432.3M47.4 463.43H432.3M47.4 466.37H432.3M47.4 469.31H432.3M47.4 472.25H432.3M47.4 475.19H432.3M47.4 478.12H432.3M47.4 481.06H432.3M47.4 484H432.3M47.4 486.94H432.3M47.4 489.88H432.3M47.4 492.82H432.3M47.4 495.75H432.3M47.4 498.69H432.3M47.4 501.63H432.3M47.4 504.57H432.3M47.4 507.51H432.3M47.4 510.45H432.3M47.4 513.39H432.3M47.4 516.32H432.3M47.4 519.26H432.3M47.4 522.2H432.3M47.4 525.14H432.3M47.4 528.08H432.3M47.4 531.02H432.3M47.4 533.96H432.3M47.4 536.89H432.3M47.4 539.83H432.3" stroke="#5e5e60" stroke-width="0.8" fill="none"/></g><path d="M234.6 463.8 H305" stroke="#5a5a5a" stroke-width="2.5" opacity="0.6"/><path d="M226.9 467.6 Q254 468.6 280.7 467.6" stroke="#c6d0dc" stroke-width="0.9" fill="none"/><path d="M209 469.3 C209.75 469.3 211.42 468.7 213.5 469.3 C215.58 469.9 218.67 471.55 221.5 472.9 C224.33 474.25 227.2 476.2 230.5 477.4 C233.8 478.6 237.42 479.5 241.3 480.1 C245.18 480.7 249.32 481.05 253.8 481 C258.28 480.95 263.42 480.55 268.2 479.8 C272.98 479.05 278.32 477.8 282.5 476.5 C286.68 475.2 290.32 473.48 293.3 472 C296.28 470.52 298.77 468.7 300.4 467.6 C302.03 466.5 301.9 465.6 303.1 465.4 C304.3 465.2 306.85 466.23 307.6 466.4 L307.6 465.9 L209 465.9Z" fill="#b4c4dc" opacity="0.12"/><path d="M209 469.4 C209.3 469.53 209.32 469.32 210.8 470.2 C212.28 471.08 215.22 473.05 217.9 474.7 C220.58 476.35 223.9 478.6 226.9 480.1 C229.9 481.6 232.02 482.87 235.9 483.7 C239.78 484.53 244.82 485.1 250.2 485.1 C255.58 485.1 262.82 484.53 268.2 483.7 C273.58 482.87 278.02 481.6 282.5 480.1 C286.98 478.6 291.82 476.5 295.1 474.7 C298.38 472.9 300.42 470.62 302.2 469.3 C303.98 467.98 304.9 467.25 305.8 466.8 C306.7 466.35 307.3 466.63 307.6 466.6 L307.6 466.4 C306.85 466.23 304.3 465.2 303.1 465.4 C301.9 465.6 302.03 466.5 300.4 467.6 C298.77 468.7 296.28 470.52 293.3 472 C290.32 473.48 286.68 475.2 282.5 476.5 C278.32 477.8 272.98 479.05 268.2 479.8 C263.42 480.55 258.28 480.95 253.8 481 C249.32 481.05 245.18 480.7 241.3 480.1 C237.42 479.5 233.8 478.6 230.5 477.4 C227.2 476.2 224.33 474.25 221.5 472.9 C218.67 471.55 215.58 469.9 213.5 469.3 C211.42 468.7 209.75 469.3 209 469.3Z" fill="#8cb4d8" stroke="#8cb4d8" stroke-width="0.5"/><clipPath id="crb1"><path d="M209 469.4 C209.3 469.53 209.32 469.32 210.8 470.2 C212.28 471.08 215.22 473.05 217.9 474.7 C220.58 476.35 223.9 478.6 226.9 480.1 C229.9 481.6 232.02 482.87 235.9 483.7 C239.78 484.53 244.82 485.1 250.2 485.1 C255.58 485.1 262.82 484.53 268.2 483.7 C273.58 482.87 278.02 481.6 282.5 480.1 C286.98 478.6 291.82 476.5 295.1 474.7 C298.38 472.9 300.42 470.62 302.2 469.3 C303.98 467.98 304.9 467.25 305.8 466.8 C306.7 466.35 307.3 466.63 307.6 466.6 L307.6 466.4 C306.85 466.23 304.3 465.2 303.1 465.4 C301.9 465.6 302.03 466.5 300.4 467.6 C298.77 468.7 296.28 470.52 293.3 472 C290.32 473.48 286.68 475.2 282.5 476.5 C278.32 477.8 272.98 479.05 268.2 479.8 C263.42 480.55 258.28 480.95 253.8 481 C249.32 481.05 245.18 480.7 241.3 480.1 C237.42 479.5 233.8 478.6 230.5 477.4 C227.2 476.2 224.33 474.25 221.5 472.9 C218.67 471.55 215.58 469.9 213.5 469.3 C211.42 468.7 209.75 469.3 209 469.3Z"/></clipPath><g clip-path="url(#crb1)" opacity="0.35"><path d="M48.3 406V541.3M51.24 406V541.3M54.18 406V541.3M57.12 406V541.3M60.05 406V541.3M62.99 406V541.3M65.93 406V541.3M68.87 406V541.3M71.81 406V541.3M74.75 406V541.3M77.69 406V541.3M80.62 406V541.3M83.56 406V541.3M86.5 406V541.3M89.44 406V541.3M92.38 406V541.3M95.32 406V541.3M98.25 406V541.3M101.19 406V541.3M104.13 406V541.3M107.07 406V541.3M110.01 406V541.3M112.95 406V541.3M115.89 406V541.3M118.82 406V541.3M121.76 406V541.3M124.7 406V541.3M127.64 406V541.3M130.58 406V541.3M133.52 406V541.3M136.46 406V541.3M139.39 406V541.3M142.33 406V541.3M145.27 406V541.3M148.21 406V541.3M151.15 406V541.3M154.09 406V541.3M157.02 406V541.3M159.96 406V541.3M162.9 406V541.3M165.84 406V541.3M168.78 406V541.3M171.72 406V541.3M174.66 406V541.3M177.59 406V541.3M180.53 406V541.3M183.47 406V541.3M186.41 406V541.3M189.35 406V541.3M192.29 406V541.3M195.23 406V541.3M198.16 406V541.3M201.1 406V541.3M204.04 406V541.3M206.98 406V541.3M209.92 406V541.3M212.86 406V541.3M215.79 406V541.3M218.73 406V541.3M221.67 406V541.3M224.61 406V541.3M227.55 406V541.3M230.49 406V541.3M233.43 406V541.3M236.36 406V541.3M239.3 406V541.3M242.24 406V541.3M245.18 406V541.3M248.12 406V541.3M251.06 406V541.3M254 406V541.3M256.93 406V541.3M259.87 406V541.3M262.81 406V541.3M265.75 406V541.3M268.69 406V541.3M271.63 406V541.3M274.56 406V541.3M277.5 406V541.3M280.44 406V541.3M283.38 406V541.3M286.32 406V541.3M289.26 406V541.3M292.2 406V541.3M295.13 406V541.3M298.07 406V541.3M301.01 406V541.3M303.95 406V541.3M306.89 406V541.3M309.83 406V541.3M312.76 406V541.3M315.7 406V541.3M318.64 406V541.3M321.58 406V541.3M324.52 406V541.3M327.46 406V541.3M330.4 406V541.3M333.33 406V541.3M336.27 406V541.3M339.21 406V541.3M342.15 406V541.3M345.09 406V541.3M348.03 406V541.3M350.97 406V541.3M353.9 406V541.3M356.84 406V541.3M359.78 406V541.3M362.72 406V541.3M365.66 406V541.3M368.6 406V541.3M371.53 406V541.3M374.47 406V541.3M377.41 406V541.3M380.35 406V541.3M383.29 406V541.3M386.23 406V541.3M389.17 406V541.3M392.1 406V541.3M395.04 406V541.3M397.98 406V541.3M400.92 406V541.3M403.86 406V541.3M406.8 406V541.3M409.74 406V541.3M412.67 406V541.3M415.61 406V541.3M418.55 406V541.3M421.49 406V541.3M424.43 406V541.3M427.37 406V541.3M430.3 406V541.3M47.4 407.6H432.3M47.4 410.54H432.3M47.4 413.48H432.3M47.4 416.42H432.3M47.4 419.35H432.3M47.4 422.29H432.3M47.4 425.23H432.3M47.4 428.17H432.3M47.4 431.11H432.3M47.4 434.05H432.3M47.4 436.98H432.3M47.4 439.92H432.3M47.4 442.86H432.3M47.4 445.8H432.3M47.4 448.74H432.3M47.4 451.68H432.3M47.4 454.62H432.3M47.4 457.55H432.3M47.4 460.49H432.3M47.4 463.43H432.3M47.4 466.37H432.3M47.4 469.31H432.3M47.4 472.25H432.3M47.4 475.19H432.3M47.4 478.12H432.3M47.4 481.06H432.3M47.4 484H432.3M47.4 486.94H432.3M47.4 489.88H432.3M47.4 492.82H432.3M47.4 495.75H432.3M47.4 498.69H432.3M47.4 501.63H432.3M47.4 504.57H432.3M47.4 507.51H432.3M47.4 510.45H432.3M47.4 513.39H432.3M47.4 516.32H432.3M47.4 519.26H432.3M47.4 522.2H432.3M47.4 525.14H432.3M47.4 528.08H432.3M47.4 531.02H432.3M47.4 533.96H432.3M47.4 536.89H432.3M47.4 539.83H432.3" stroke="#7a8aa0" stroke-width="0.75" fill="none"/></g><path d="M209 469.3 C209.75 469.3 211.42 468.7 213.5 469.3 C215.58 469.9 218.67 471.55 221.5 472.9 C224.33 474.25 227.2 476.2 230.5 477.4 C233.8 478.6 237.42 479.5 241.3 480.1 C245.18 480.7 249.32 481.05 253.8 481 C258.28 480.95 263.42 480.55 268.2 479.8 C272.98 479.05 278.32 477.8 282.5 476.5 C286.68 475.2 290.32 473.48 293.3 472 C296.28 470.52 298.77 468.7 300.4 467.6 C302.03 466.5 301.9 465.6 303.1 465.4 C304.3 465.2 306.85 466.23 307.6 466.4" fill="none" stroke="#6c88b0" stroke-width="0.6" opacity="0.7"/><path d="M209 469.4 C209.3 469.53 209.32 469.32 210.8 470.2 C212.28 471.08 215.22 473.05 217.9 474.7 C220.58 476.35 223.9 478.6 226.9 480.1 C229.9 481.6 232.02 482.87 235.9 483.7 C239.78 484.53 244.82 485.1 250.2 485.1 C255.58 485.1 262.82 484.53 268.2 483.7 C273.58 482.87 278.02 481.6 282.5 480.1 C286.98 478.6 291.82 476.5 295.1 474.7 C298.38 472.9 300.42 470.62 302.2 469.3 C303.98 467.98 304.9 467.25 305.8 466.8 C306.7 466.35 307.3 466.63 307.6 466.6" fill="none" stroke="#3a5890" stroke-width="0.9"/><path d="M47.4 465.5H224" stroke="#7070e0" stroke-width="0.6" opacity="0.6"/><path d="M46.4 470 L49.9 470 L53.4 467.2 L211 467.2" fill="none" stroke="#b8def6" stroke-width="1" transform="translate(0,-1.8)"/><path d="M46.4 470 L49.9 470 L53.4 467.2 L211 467.2" fill="none" stroke="#4a8cc6" stroke-width="2.8" stroke-linejoin="round"/><path d="M46.4 470 L49.9 470 L53.4 467.2 L211 467.2" fill="none" stroke="#28508c" stroke-width="0.8" transform="translate(0,1.1)"/><path d="M46.4 470 L49.9 470 L53.4 467.2 L211 467.2" fill="none" stroke="#33449a" stroke-width="1.3" opacity="0.9" transform="translate(0,3.3)"/><path d="M306 467 L433.3 467.2" fill="none" stroke="#b8def6" stroke-width="1" transform="translate(0,-1.8)"/><path d="M306 467 L433.3 467.2" fill="none" stroke="#4a8cc6" stroke-width="2.8" stroke-linejoin="round"/><path d="M306 467 L433.3 467.2" fill="none" stroke="#28508c" stroke-width="0.8" transform="translate(0,1.1)"/><path d="M306 467 L433.3 467.2" fill="none" stroke="#33449a" stroke-width="1.3" opacity="0.9" transform="translate(0,3.3)"/><path d="M262.4 412 L251.2 462.8M278.8 412 L267.6 459.8M295.3 412 L282.5 459.8M311.7 412 L302.7 464.3" stroke="#e07840" stroke-width="0.6" opacity="0.5" fill="none"/><polygon points="253.00,425.40 248.45,427.48 248.45,423.32" fill="#f0281e"/><polygon points="256.00,444.40 251.45,446.48 251.45,442.32" fill="#f06a20"/><polygon points="286.60,457.50 282.05,459.58 282.05,455.42" fill="#f06a20"/><polygon points="306.27,442.59 304.60,437.88 308.74,438.24" fill="#f05020"/><polygon points="261.60,460.90 263.68,465.45 259.52,465.45" fill="#f79a1a"/><polygon points="286.90,467.60 291.10,465.68 291.10,469.52" fill="#1a22f0"/><polygon points="296.80,464.90 301.00,462.98 301.00,466.82" fill="#1a22f0"/><polygon points="269.14,475.08 273.75,474.71 272.43,478.32" fill="#1a22f0"/><polygon points="286.88,472.30 284.20,476.06 282.28,472.74" fill="#f0281e"/><polygon points="104.90,480.40 109.10,478.48 109.10,482.32" fill="#1a22f0"/><polygon points="104.90,489.40 109.10,487.48 109.10,491.32" fill="#1a22f0"/><polygon points="104.90,499.00 109.10,497.08 109.10,500.92" fill="#1a22f0"/><polygon points="169.10,485.80 173.30,483.88 173.30,487.72" fill="#1a22f0"/><polygon points="169.10,518.70 173.30,516.78 173.30,520.62" fill="#1a22f0"/><polygon points="120.70,536.60 124.90,534.68 124.90,538.52" fill="#1a22f0"/><polygon points="286.90,482.80 291.10,480.88 291.10,484.72" fill="#1a22f0"/><polygon points="282.40,499.20 286.60,497.28 286.60,501.12" fill="#1a22f0"/><polygon points="293.80,506.40 298.00,504.48 298.00,508.32" fill="#1a22f0"/><polygon points="293.80,510.90 298.00,508.98 298.00,512.82" fill="#1a22f0"/><polygon points="295.00,515.70 299.20,513.78 299.20,517.62" fill="#1a22f0"/><polygon points="279.50,525.60 283.70,523.68 283.70,527.52" fill="#1a22f0"/><polygon points="279.50,530.30 283.70,528.38 283.70,532.22" fill="#1a22f0"/><polygon points="279.50,534.80 283.70,532.88 283.70,536.72" fill="#1a22f0"/><polygon points="337.20,534.80 341.40,532.88 341.40,536.72" fill="#1a22f0"/><polygon points="408.00,478.00 412.20,476.08 412.20,479.92" fill="#1a22f0"/><polygon points="408.00,483.40 412.20,481.48 412.20,485.32" fill="#1a22f0"/><polygon points="408.00,488.20 412.20,486.28 412.20,490.12" fill="#1a22f0"/><polygon points="424.40,497.80 428.60,495.88 428.60,499.72" fill="#1a22f0"/><polygon points="424.40,517.20 428.60,515.28 428.60,519.12" fill="#1a22f0"/></g><rect x="47.4" y="406" width="384.9" height="135.3" fill="none" stroke="#262626" stroke-width="0.8"/><path d="M47.4 406H432.3" stroke="#7a7a7a" stroke-width="1.5"/><path d="M44.1 408.94H47.4" stroke="#262626" stroke-width="0.8"/><text x="41.7" y="412.64" font-size="10.15" text-anchor="end" fill="#262626" stroke="#262626" stroke-width="0.2" textLength="11.13" lengthAdjust="spacingAndGlyphs">10</text><path d="M44.1 438.32H47.4" stroke="#262626" stroke-width="0.8"/><text x="41.7" y="442.02" font-size="10.15" text-anchor="end" fill="#262626" stroke="#262626" stroke-width="0.2" textLength="5.57" lengthAdjust="spacingAndGlyphs">5</text><path d="M44.1 467.71H47.4" stroke="#262626" stroke-width="0.8"/><text x="41.7" y="471.41" font-size="10.15" text-anchor="end" fill="#262626" stroke="#262626" stroke-width="0.2" textLength="5.57" lengthAdjust="spacingAndGlyphs">0</text><path d="M44.1 497.09H47.4" stroke="#262626" stroke-width="0.8"/><text x="41.7" y="500.79" font-size="10.15" text-anchor="end" fill="#262626" stroke="#262626" stroke-width="0.2" textLength="12.9" lengthAdjust="spacingAndGlyphs">−5</text><path d="M44.1 526.48H47.4" stroke="#262626" stroke-width="0.8"/><text x="41.7" y="530.18" font-size="10.15" text-anchor="end" fill="#262626" stroke="#262626" stroke-width="0.2" textLength="18.46" lengthAdjust="spacingAndGlyphs">−10</text><path d="M50.34 541.3V544.6" stroke="#262626" stroke-width="0.8"/><text x="50.34" y="555.1" font-size="10.15" text-anchor="middle" fill="#262626" stroke="#262626" stroke-width="0.2" textLength="18.46" lengthAdjust="spacingAndGlyphs">−40</text><path d="M109.11 541.3V544.6" stroke="#262626" stroke-width="0.8"/><text x="109.11" y="555.1" font-size="10.15" text-anchor="middle" fill="#262626" stroke="#262626" stroke-width="0.2" textLength="18.46" lengthAdjust="spacingAndGlyphs">−30</text><path d="M167.88 541.3V544.6" stroke="#262626" stroke-width="0.8"/><text x="167.88" y="555.1" font-size="10.15" text-anchor="middle" fill="#262626" stroke="#262626" stroke-width="0.2" textLength="18.46" lengthAdjust="spacingAndGlyphs">−20</text><path d="M226.65 541.3V544.6" stroke="#262626" stroke-width="0.8"/><text x="226.65" y="555.1" font-size="10.15" text-anchor="middle" fill="#262626" stroke="#262626" stroke-width="0.2" textLength="18.46" lengthAdjust="spacingAndGlyphs">−10</text><path d="M285.42 541.3V544.6" stroke="#262626" stroke-width="0.8"/><text x="285.42" y="555.1" font-size="10.15" text-anchor="middle" fill="#262626" stroke="#262626" stroke-width="0.2" textLength="5.57" lengthAdjust="spacingAndGlyphs">0</text><path d="M344.19 541.3V544.6" stroke="#262626" stroke-width="0.8"/><text x="344.19" y="555.1" font-size="10.15" text-anchor="middle" fill="#262626" stroke="#262626" stroke-width="0.2" textLength="11.13" lengthAdjust="spacingAndGlyphs">10</text><path d="M402.96 541.3V544.6" stroke="#262626" stroke-width="0.8"/><text x="402.96" y="555.1" font-size="10.15" text-anchor="middle" fill="#262626" stroke="#262626" stroke-width="0.2" textLength="11.13" lengthAdjust="spacingAndGlyphs">20</text><text x="239.85" y="566.7" font-size="10.15" text-anchor="middle" fill="#262626" stroke="#262626" stroke-width="0.2" textLength="44.82" lengthAdjust="spacingAndGlyphs">X-axis (m)</text><clipPath id="cR3"><rect x="470.3" y="406" width="194.4" height="135.3"/></clipPath><g clip-path="url(#cR3)"><rect x="470.3" y="406" width="194.4" height="135.3" fill="#fff"/><path d="M471.2 406V541.3M474.14 406V541.3M477.08 406V541.3M480.02 406V541.3M482.95 406V541.3M485.89 406V541.3M488.83 406V541.3M491.77 406V541.3M494.71 406V541.3M497.65 406V541.3M500.58 406V541.3M503.52 406V541.3M506.46 406V541.3M509.4 406V541.3M512.34 406V541.3M515.28 406V541.3M518.22 406V541.3M521.15 406V541.3M524.09 406V541.3M527.03 406V541.3M529.97 406V541.3M532.91 406V541.3M535.85 406V541.3M538.79 406V541.3M541.72 406V541.3M544.66 406V541.3M547.6 406V541.3M550.54 406V541.3M553.48 406V541.3M556.42 406V541.3M559.35 406V541.3M562.29 406V541.3M565.23 406V541.3M568.17 406V541.3M571.11 406V541.3M574.05 406V541.3M576.99 406V541.3M579.92 406V541.3M582.86 406V541.3M585.8 406V541.3M588.74 406V541.3M591.68 406V541.3M594.62 406V541.3M597.56 406V541.3M600.49 406V541.3M603.43 406V541.3M606.37 406V541.3M609.31 406V541.3M612.25 406V541.3M615.19 406V541.3M618.12 406V541.3M621.06 406V541.3M624 406V541.3M626.94 406V541.3M629.88 406V541.3M632.82 406V541.3M635.76 406V541.3M638.69 406V541.3M641.63 406V541.3M644.57 406V541.3M647.51 406V541.3M650.45 406V541.3M653.39 406V541.3M656.33 406V541.3M659.26 406V541.3M662.2 406V541.3M470.3 407.6H664.7M470.3 410.54H664.7M470.3 413.48H664.7M470.3 416.42H664.7M470.3 419.35H664.7M470.3 422.29H664.7M470.3 425.23H664.7M470.3 428.17H664.7M470.3 431.11H664.7M470.3 434.05H664.7M470.3 436.98H664.7M470.3 439.92H664.7M470.3 442.86H664.7M470.3 445.8H664.7M470.3 448.74H664.7M470.3 451.68H664.7M470.3 454.62H664.7M470.3 457.55H664.7M470.3 460.49H664.7M470.3 463.43H664.7M470.3 466.37H664.7M470.3 469.31H664.7M470.3 472.25H664.7M470.3 475.19H664.7M470.3 478.12H664.7M470.3 481.06H664.7M470.3 484H664.7M470.3 486.94H664.7M470.3 489.88H664.7M470.3 492.82H664.7M470.3 495.75H664.7M470.3 498.69H664.7M470.3 501.63H664.7M470.3 504.57H664.7M470.3 507.51H664.7M470.3 510.45H664.7M470.3 513.39H664.7M470.3 516.32H664.7M470.3 519.26H664.7M470.3 522.2H664.7M470.3 525.14H664.7M470.3 528.08H664.7M470.3 531.02H664.7M470.3 533.96H664.7M470.3 536.89H664.7M470.3 539.83H664.7" stroke="#c4c4c4" stroke-width="0.75" fill="none"/><clipPath id="wR3"><path d="M469.3 470 L472.8 470 L476.3 467.2 L522 466.6 L524.9 467.3 L534.7 472.3 L544.6 478 L556.1 479.3 L572 479.5 L589 479.3 L597.2 477.2 L607.1 471.4 L612 467.3 L614 466.6 L658.7 467.2 L662.2 470 L665.7 470 L665.7 542.3 L469.3 542.3Z"/></clipPath><path d="M469.3 470 L472.8 470 L476.3 467.2 L522 466.6 L524.9 467.3 L534.7 472.3 L544.6 478 L556.1 479.3 L572 479.5 L589 479.3 L597.2 477.2 L607.1 471.4 L612 467.3 L614 466.6 L658.7 467.2 L662.2 470 L665.7 470 L665.7 542.3 L469.3 542.3Z" fill="#93a3ba"/><g clip-path="url(#wR3)"><path d="M471.2 406V541.3M474.14 406V541.3M477.08 406V541.3M480.02 406V541.3M482.95 406V541.3M485.89 406V541.3M488.83 406V541.3M491.77 406V541.3M494.71 406V541.3M497.65 406V541.3M500.58 406V541.3M503.52 406V541.3M506.46 406V541.3M509.4 406V541.3M512.34 406V541.3M515.28 406V541.3M518.22 406V541.3M521.15 406V541.3M524.09 406V541.3M527.03 406V541.3M529.97 406V541.3M532.91 406V541.3M535.85 406V541.3M538.79 406V541.3M541.72 406V541.3M544.66 406V541.3M547.6 406V541.3M550.54 406V541.3M553.48 406V541.3M556.42 406V541.3M559.35 406V541.3M562.29 406V541.3M565.23 406V541.3M568.17 406V541.3M571.11 406V541.3M574.05 406V541.3M576.99 406V541.3M579.92 406V541.3M582.86 406V541.3M585.8 406V541.3M588.74 406V541.3M591.68 406V541.3M594.62 406V541.3M597.56 406V541.3M600.49 406V541.3M603.43 406V541.3M606.37 406V541.3M609.31 406V541.3M612.25 406V541.3M615.19 406V541.3M618.12 406V541.3M621.06 406V541.3M624 406V541.3M626.94 406V541.3M629.88 406V541.3M632.82 406V541.3M635.76 406V541.3M638.69 406V541.3M641.63 406V541.3M644.57 406V541.3M647.51 406V541.3M650.45 406V541.3M653.39 406V541.3M656.33 406V541.3M659.26 406V541.3M662.2 406V541.3M470.3 407.6H664.7M470.3 410.54H664.7M470.3 413.48H664.7M470.3 416.42H664.7M470.3 419.35H664.7M470.3 422.29H664.7M470.3 425.23H664.7M470.3 428.17H664.7M470.3 431.11H664.7M470.3 434.05H664.7M470.3 436.98H664.7M470.3 439.92H664.7M470.3 442.86H664.7M470.3 445.8H664.7M470.3 448.74H664.7M470.3 451.68H664.7M470.3 454.62H664.7M470.3 457.55H664.7M470.3 460.49H664.7M470.3 463.43H664.7M470.3 466.37H664.7M470.3 469.31H664.7M470.3 472.25H664.7M470.3 475.19H664.7M470.3 478.12H664.7M470.3 481.06H664.7M470.3 484H664.7M470.3 486.94H664.7M470.3 489.88H664.7M470.3 492.82H664.7M470.3 495.75H664.7M470.3 498.69H664.7M470.3 501.63H664.7M470.3 504.57H664.7M470.3 507.51H664.7M470.3 510.45H664.7M470.3 513.39H664.7M470.3 516.32H664.7M470.3 519.26H664.7M470.3 522.2H664.7M470.3 525.14H664.7M470.3 528.08H664.7M470.3 531.02H664.7M470.3 533.96H664.7M470.3 536.89H664.7M470.3 539.83H664.7" stroke="#aab0be" stroke-width="0.75" fill="none"/><path d="M522 467.1 L517.5 467.05 L513 467.01 L508.5 466.97 L504 466.93 L499.5 466.88 L495 466.83 L490.5 466.77 L486 466.69 L481.5 466.59 L477.01 466.45 L472.51 466.24 L468.03 465.88 L466.54 465.69M525.17 467.94 L520.78 468.9 L516.33 469.56 L511.87 470.15 L507.41 470.74 L502.95 471.36 L498.5 472.05 L494.07 472.83 L489.67 473.76 L485.32 474.91 L481.06 476.36 L476.98 478.25 L473.24 480.75 L470.05 483.91 L467.51 487.62 L466.8 488.94M528.34 469.56 L526.52 473.54 L523.16 476.53 L519.51 479.16 L515.78 481.68 L512.06 484.2 L508.39 486.81 L504.83 489.55 L501.4 492.47 L498.14 495.58 L495.1 498.89 L492.28 502.4 L489.71 506.09 L487.37 509.93 L485.25 513.9 L483.33 517.97 L481.57 522.11 L479.94 526.31 L478.44 530.55 L477.02 534.82 L475.67 539.11 L474.37 543.42 L473.95 544.86M531.52 471.18 L528.66 474.65 L525.54 477.89 L522.18 480.89 L518.73 483.78 L515.28 486.66 L511.87 489.6 L508.56 492.64 L505.37 495.82 L502.35 499.16 L499.52 502.65 L496.89 506.3 L494.46 510.09 L492.23 514 L490.19 518.01 L488.31 522.1 L486.58 526.25 L484.98 530.46 L483.47 534.7 L482.06 538.97 L480.71 543.26 L480.28 544.7M534.69 472.79 L531.27 475.67 L528.3 479.05 L525.21 482.33 L522.05 485.53 L518.87 488.71 L515.73 491.93 L512.67 495.24 L509.73 498.64 L506.93 502.16 L504.29 505.81 L501.83 509.57 L499.54 513.45 L497.42 517.42 L495.46 521.47 L493.65 525.59 L491.96 529.76 L490.39 533.98 L488.92 538.23 L487.52 542.51 L486.63 545.37M537.86 474.62 L536.2 478.76 L533.76 482.55 L531.21 486.26 L528.62 489.94 L526.04 493.62 L523.49 497.33 L521.01 501.08 L518.62 504.9 L516.34 508.77 L514.17 512.72 L512.13 516.73 L510.21 520.8 L508.41 524.93 L506.73 529.1 L505.15 533.31 L503.67 537.56 L502.27 541.84 L501.38 544.7M541.03 476.45 L538.89 480.41 L536.65 484.3 L534.35 488.17 L532.04 492.03 L529.73 495.9 L527.46 499.79 L525.26 503.71 L523.13 507.67 L521.09 511.68 L519.16 515.75 L517.33 519.86 L515.6 524.01 L513.97 528.21 L512.44 532.44 L511 536.7 L509.64 540.99 L508.35 545.3 L508.35 545.3M544.21 478.27 L541.69 481.99 L539.61 485.98 L537.56 489.99 L535.51 493.99 L533.48 498.01 L531.48 502.04 L529.54 506.1 L527.66 510.19 L525.86 514.31 L524.15 518.47 L522.52 522.67 L520.98 526.9 L519.53 531.16 L518.15 535.44 L516.85 539.75 L515.62 544.08 L515.23 545.52M547.38 478.81 L546.01 483.1 L544.37 487.29 L542.7 491.47 L541.03 495.64 L539.36 499.82 L537.73 504.02 L536.13 508.22 L534.59 512.45 L533.1 516.7 L531.68 520.97 L530.33 525.26 L529.04 529.57 L527.82 533.9 L526.66 538.25 L525.56 542.61 L524.86 545.53M550.55 479.17 L549.91 483.61 L548.67 487.94 L547.35 492.24 L546 496.53 L544.65 500.82 L543.32 505.12 L542.03 509.43 L540.77 513.75 L539.55 518.09 L538.39 522.43 L537.27 526.79 L536.21 531.16 L535.2 535.55 L534.23 539.95 L533.32 544.35 L533.32 544.35M553.72 479.53 L552.29 483.78 L551.18 488.15 L550.03 492.5 L548.87 496.84 L547.7 501.19 L546.55 505.54 L545.42 509.9 L544.32 514.26 L543.26 518.63 L542.24 523.02 L541.26 527.41 L540.33 531.81 L539.44 536.22 L538.59 540.64 L537.79 545.07 L537.79 545.07M556.9 479.81 L555.73 484.15 L554.85 488.57 L553.96 492.98 L553.06 497.39 L552.15 501.79 L551.25 506.2 L550.37 510.62 L549.51 515.03 L548.68 519.45 L547.88 523.88 L547.11 528.32 L546.38 532.76 L545.67 537.2 L545 541.65 L544.57 544.62M560.07 479.85 L560.38 484.31 L559.94 488.79 L559.4 493.25 L558.85 497.72 L558.29 502.18 L557.74 506.65 L557.19 511.12 L556.65 515.58 L556.13 520.05 L555.63 524.53 L555.15 529 L554.69 533.48 L554.25 537.96 L553.83 542.44 L553.56 545.42M563.24 479.89 L562.78 484.36 L562.44 488.85 L562.07 493.34 L561.68 497.82 L561.28 502.3 L560.89 506.79 L560.51 511.27 L560.13 515.75 L559.77 520.24 L559.41 524.72 L559.07 529.21 L558.75 533.7 L558.43 538.19 L558.14 542.68 L557.94 545.67M566.41 479.93 L565.54 484.32 L565.31 488.81 L565.11 493.31 L564.91 497.81 L564.71 502.3 L564.5 506.8 L564.3 511.29 L564.1 515.79 L563.91 520.28 L563.73 524.78 L563.55 529.28 L563.38 533.77 L563.22 538.27 L563.06 542.77 L562.96 545.77M569.59 479.97 L570.43 484.37 L570.61 488.86 L570.75 493.36 L570.9 497.86 L571.04 502.36 L571.18 506.85 L571.32 511.35 L571.46 515.85 L571.6 520.35 L571.72 524.85 L571.85 529.34 L571.97 533.84 L572.08 538.34 L572.19 542.84 L572.23 544.34M572.76 479.99 L573.18 484.47 L573.47 488.96 L573.79 493.45 L574.11 497.94 L574.44 502.43 L574.77 506.91 L575.09 511.4 L575.41 515.89 L575.72 520.38 L576.02 524.87 L576.3 529.36 L576.58 533.85 L576.84 538.34 L577.09 542.84 L577.17 544.34M575.93 479.95 L575.58 484.41 L575.97 488.89 L576.43 493.37 L576.92 497.84 L577.41 502.32 L577.91 506.79 L578.39 511.26 L578.87 515.74 L579.33 520.21 L579.77 524.69 L580.2 529.17 L580.61 533.65 L581 538.14 L581.37 542.62 L581.61 545.61M579.1 479.92 L580.23 484.27 L581.02 488.7 L581.82 493.13 L582.65 497.55 L583.48 501.97 L584.31 506.39 L585.13 510.82 L585.93 515.25 L586.7 519.68 L587.44 524.12 L588.15 528.56 L588.83 533.01 L589.48 537.46 L590.1 541.92 L590.5 544.9M582.28 479.88 L583.55 484.18 L584.52 488.58 L585.56 492.96 L586.63 497.33 L587.71 501.69 L588.78 506.06 L589.83 510.44 L590.85 514.82 L591.84 519.21 L592.79 523.61 L593.69 528.02 L594.56 532.44 L595.38 536.86 L596.16 541.29 L596.91 545.73 L596.91 545.73M585.45 479.84 L585.88 484.3 L586.97 488.67 L588.19 493 L589.43 497.32 L590.69 501.64 L591.92 505.97 L593.13 510.31 L594.3 514.65 L595.43 519.01 L596.51 523.37 L597.55 527.75 L598.53 532.15 L599.47 536.55 L600.36 540.96 L601.21 545.38 L601.21 545.38M588.62 479.8 L589.91 484.11 L591.45 488.34 L593.02 492.56 L594.61 496.77 L596.18 500.98 L597.73 505.21 L599.24 509.45 L600.7 513.7 L602.1 517.98 L603.44 522.28 L604.71 526.6 L605.91 530.93 L607.06 535.28 L608.14 539.65 L609.17 544.03 L609.5 545.49M591.79 479.08 L594.25 482.84 L596.22 486.88 L598.2 490.92 L600.18 494.96 L602.15 499.01 L604.07 503.08 L605.94 507.17 L607.74 511.29 L609.46 515.45 L611.1 519.64 L612.65 523.87 L614.11 528.12 L615.49 532.41 L616.8 536.71 L618.03 541.04 L619.2 545.39 L619.2 545.39M594.97 478.27 L596.9 482.33 L599.03 486.3 L601.23 490.22 L603.44 494.14 L605.62 498.08 L607.76 502.04 L609.83 506.03 L611.82 510.07 L613.71 514.16 L615.5 518.28 L617.19 522.45 L618.79 526.66 L620.29 530.9 L621.7 535.17 L623.04 539.47 L624.3 543.79 L624.7 545.24M598.14 477.15 L599.85 481.28 L602.26 485.08 L604.75 488.83 L607.25 492.57 L609.72 496.34 L612.12 500.14 L614.45 503.99 L616.68 507.9 L618.79 511.87 L620.79 515.9 L622.67 519.99 L624.43 524.14 L626.08 528.32 L627.62 532.55 L629.07 536.81 L630.44 541.09 L631.73 545.4 L631.73 545.4M601.31 475.29 L604.85 478.03 L607.95 481.3 L611.04 484.57 L614.14 487.82 L617.22 491.11 L620.23 494.46 L623.13 497.89 L625.9 501.44 L628.52 505.1 L630.97 508.87 L633.26 512.75 L635.38 516.72 L637.34 520.77 L639.15 524.89 L640.83 529.06 L642.4 533.28 L643.87 537.53 L645.26 541.81 L646.14 544.68M604.48 473.43 L607.72 476.56 L610.98 479.66 L614.36 482.63 L617.77 485.57 L621.15 488.54 L624.45 491.59 L627.64 494.77 L630.68 498.09 L633.54 501.56 L636.21 505.18 L638.67 508.95 L640.94 512.83 L643.02 516.82 L644.93 520.9 L646.69 525.04 L648.31 529.24 L649.83 533.47 L651.26 537.74 L652.61 542.03 L653.47 544.91M607.66 471.44 L610.31 475.01 L613.82 477.83 L617.51 480.41 L621.22 482.95 L624.91 485.54 L628.51 488.23 L631.98 491.09 L635.3 494.13 L638.42 497.37 L641.32 500.81 L643.97 504.45 L646.39 508.24 L648.58 512.17 L650.56 516.21 L652.37 520.33 L654.03 524.51 L655.57 528.74 L657.01 533.01 L658.37 537.3 L659.67 541.6 L660.51 544.48M610.83 468.78 L615.12 470.13 L619.5 471.17 L623.89 472.13 L628.29 473.08 L632.67 474.1 L637.03 475.23 L641.34 476.52 L645.58 478.03 L649.69 479.85 L653.61 482.06 L657.21 484.76 L660.37 487.96 L663.03 491.59 L665.22 495.51 L667.04 499.63 L668.1 502.43M614 467.1 L618.5 467.05 L623 467.02 L627.5 466.98 L632 466.94 L636.5 466.89 L641 466.84 L645.5 466.78 L650 466.7 L654.5 466.6 L658.99 466.46 L663.49 466.24 L667.97 465.83 L667.97 465.83" stroke="#6470d8" stroke-width="0.9" opacity="0.82" fill="none"/><path d="M470.3 538.9H664.7" stroke="#4c6ca8" stroke-width="1.5" opacity="0.85"/></g><path d="M535.5 405 H603 V463 H535.5 Z" fill="#8c8c8e" filter="url(#sb)" opacity="0.42"/><clipPath id="bR3"><path d="M537.9 405 H600.7 V460 H604.6 L607 467 L600.5 471.4 L589 474.4 L564.3 474.7 L547.9 473.9 L539.7 470.6 L530 466.5 L532.3 460 H537.9 Z"/></clipPath><path d="M537.9 405 H600.7 V460 H604.6 L607 467 L600.5 471.4 L589 474.4 L564.3 474.7 L547.9 473.9 L539.7 470.6 L530 466.5 L532.3 460 H537.9 Z" fill="#939395" filter="url(#sb)"/><g clip-path="url(#bR3)" opacity="0.9"><path d="M471.2 406V541.3M474.14 406V541.3M477.08 406V541.3M480.02 406V541.3M482.95 406V541.3M485.89 406V541.3M488.83 406V541.3M491.77 406V541.3M494.71 406V541.3M497.65 406V541.3M500.58 406V541.3M503.52 406V541.3M506.46 406V541.3M509.4 406V541.3M512.34 406V541.3M515.28 406V541.3M518.22 406V541.3M521.15 406V541.3M524.09 406V541.3M527.03 406V541.3M529.97 406V541.3M532.91 406V541.3M535.85 406V541.3M538.79 406V541.3M541.72 406V541.3M544.66 406V541.3M547.6 406V541.3M550.54 406V541.3M553.48 406V541.3M556.42 406V541.3M559.35 406V541.3M562.29 406V541.3M565.23 406V541.3M568.17 406V541.3M571.11 406V541.3M574.05 406V541.3M576.99 406V541.3M579.92 406V541.3M582.86 406V541.3M585.8 406V541.3M588.74 406V541.3M591.68 406V541.3M594.62 406V541.3M597.56 406V541.3M600.49 406V541.3M603.43 406V541.3M606.37 406V541.3M609.31 406V541.3M612.25 406V541.3M615.19 406V541.3M618.12 406V541.3M621.06 406V541.3M624 406V541.3M626.94 406V541.3M629.88 406V541.3M632.82 406V541.3M635.76 406V541.3M638.69 406V541.3M641.63 406V541.3M644.57 406V541.3M647.51 406V541.3M650.45 406V541.3M653.39 406V541.3M656.33 406V541.3M659.26 406V541.3M662.2 406V541.3M470.3 407.6H664.7M470.3 410.54H664.7M470.3 413.48H664.7M470.3 416.42H664.7M470.3 419.35H664.7M470.3 422.29H664.7M470.3 425.23H664.7M470.3 428.17H664.7M470.3 431.11H664.7M470.3 434.05H664.7M470.3 436.98H664.7M470.3 439.92H664.7M470.3 442.86H664.7M470.3 445.8H664.7M470.3 448.74H664.7M470.3 451.68H664.7M470.3 454.62H664.7M470.3 457.55H664.7M470.3 460.49H664.7M470.3 463.43H664.7M470.3 466.37H664.7M470.3 469.31H664.7M470.3 472.25H664.7M470.3 475.19H664.7M470.3 478.12H664.7M470.3 481.06H664.7M470.3 484H664.7M470.3 486.94H664.7M470.3 489.88H664.7M470.3 492.82H664.7M470.3 495.75H664.7M470.3 498.69H664.7M470.3 501.63H664.7M470.3 504.57H664.7M470.3 507.51H664.7M470.3 510.45H664.7M470.3 513.39H664.7M470.3 516.32H664.7M470.3 519.26H664.7M470.3 522.2H664.7M470.3 525.14H664.7M470.3 528.08H664.7M470.3 531.02H664.7M470.3 533.96H664.7M470.3 536.89H664.7M470.3 539.83H664.7" stroke="#5e5e60" stroke-width="0.8" fill="none"/></g><path d="M532.5 462.5 H604.5" stroke="#505050" stroke-width="4" opacity="0.5"/><path d="M534.7 468.8 Q567 470.5 600.5 468.8" stroke="#c6d0dc" stroke-width="0.9" fill="none"/><path d="M522 466.5 C523.3 466.5 526.85 465.82 529.8 466.5 C532.75 467.18 536.68 469.37 539.7 470.6 C542.72 471.83 543.8 473.22 547.9 473.9 C552 474.58 557.45 474.62 564.3 474.7 C571.15 474.78 582.97 474.95 589 474.4 C595.03 473.85 597.48 472.58 600.5 471.4 C603.52 470.22 604.85 468.13 607.1 467.3 C609.35 466.47 612.85 466.55 614 466.4 L614 465.9 L522 465.9Z" fill="#b4c4dc" opacity="0.12"/><path d="M522 466.6 C522.48 466.72 522.78 466.35 524.9 467.3 C527.02 468.25 531.42 470.52 534.7 472.3 C537.98 474.08 541.03 476.83 544.6 478 C548.17 479.17 551.53 479.05 556.1 479.3 C560.67 479.55 566.52 479.5 572 479.5 C577.48 479.5 584.8 479.68 589 479.3 C593.2 478.92 594.18 478.52 597.2 477.2 C600.22 475.88 604.63 473.05 607.1 471.4 C609.57 469.75 610.85 468.1 612 467.3 C613.15 466.5 613.67 466.72 614 466.6 L614 466.4 C612.85 466.55 609.35 466.47 607.1 467.3 C604.85 468.13 603.52 470.22 600.5 471.4 C597.48 472.58 595.03 473.85 589 474.4 C582.97 474.95 571.15 474.78 564.3 474.7 C557.45 474.62 552 474.58 547.9 473.9 C543.8 473.22 542.72 471.83 539.7 470.6 C536.68 469.37 532.75 467.18 529.8 466.5 C526.85 465.82 523.3 466.5 522 466.5Z" fill="#8cb4d8" stroke="#8cb4d8" stroke-width="0.5"/><clipPath id="crb2"><path d="M522 466.6 C522.48 466.72 522.78 466.35 524.9 467.3 C527.02 468.25 531.42 470.52 534.7 472.3 C537.98 474.08 541.03 476.83 544.6 478 C548.17 479.17 551.53 479.05 556.1 479.3 C560.67 479.55 566.52 479.5 572 479.5 C577.48 479.5 584.8 479.68 589 479.3 C593.2 478.92 594.18 478.52 597.2 477.2 C600.22 475.88 604.63 473.05 607.1 471.4 C609.57 469.75 610.85 468.1 612 467.3 C613.15 466.5 613.67 466.72 614 466.6 L614 466.4 C612.85 466.55 609.35 466.47 607.1 467.3 C604.85 468.13 603.52 470.22 600.5 471.4 C597.48 472.58 595.03 473.85 589 474.4 C582.97 474.95 571.15 474.78 564.3 474.7 C557.45 474.62 552 474.58 547.9 473.9 C543.8 473.22 542.72 471.83 539.7 470.6 C536.68 469.37 532.75 467.18 529.8 466.5 C526.85 465.82 523.3 466.5 522 466.5Z"/></clipPath><g clip-path="url(#crb2)" opacity="0.35"><path d="M471.2 406V541.3M474.14 406V541.3M477.08 406V541.3M480.02 406V541.3M482.95 406V541.3M485.89 406V541.3M488.83 406V541.3M491.77 406V541.3M494.71 406V541.3M497.65 406V541.3M500.58 406V541.3M503.52 406V541.3M506.46 406V541.3M509.4 406V541.3M512.34 406V541.3M515.28 406V541.3M518.22 406V541.3M521.15 406V541.3M524.09 406V541.3M527.03 406V541.3M529.97 406V541.3M532.91 406V541.3M535.85 406V541.3M538.79 406V541.3M541.72 406V541.3M544.66 406V541.3M547.6 406V541.3M550.54 406V541.3M553.48 406V541.3M556.42 406V541.3M559.35 406V541.3M562.29 406V541.3M565.23 406V541.3M568.17 406V541.3M571.11 406V541.3M574.05 406V541.3M576.99 406V541.3M579.92 406V541.3M582.86 406V541.3M585.8 406V541.3M588.74 406V541.3M591.68 406V541.3M594.62 406V541.3M597.56 406V541.3M600.49 406V541.3M603.43 406V541.3M606.37 406V541.3M609.31 406V541.3M612.25 406V541.3M615.19 406V541.3M618.12 406V541.3M621.06 406V541.3M624 406V541.3M626.94 406V541.3M629.88 406V541.3M632.82 406V541.3M635.76 406V541.3M638.69 406V541.3M641.63 406V541.3M644.57 406V541.3M647.51 406V541.3M650.45 406V541.3M653.39 406V541.3M656.33 406V541.3M659.26 406V541.3M662.2 406V541.3M470.3 407.6H664.7M470.3 410.54H664.7M470.3 413.48H664.7M470.3 416.42H664.7M470.3 419.35H664.7M470.3 422.29H664.7M470.3 425.23H664.7M470.3 428.17H664.7M470.3 431.11H664.7M470.3 434.05H664.7M470.3 436.98H664.7M470.3 439.92H664.7M470.3 442.86H664.7M470.3 445.8H664.7M470.3 448.74H664.7M470.3 451.68H664.7M470.3 454.62H664.7M470.3 457.55H664.7M470.3 460.49H664.7M470.3 463.43H664.7M470.3 466.37H664.7M470.3 469.31H664.7M470.3 472.25H664.7M470.3 475.19H664.7M470.3 478.12H664.7M470.3 481.06H664.7M470.3 484H664.7M470.3 486.94H664.7M470.3 489.88H664.7M470.3 492.82H664.7M470.3 495.75H664.7M470.3 498.69H664.7M470.3 501.63H664.7M470.3 504.57H664.7M470.3 507.51H664.7M470.3 510.45H664.7M470.3 513.39H664.7M470.3 516.32H664.7M470.3 519.26H664.7M470.3 522.2H664.7M470.3 525.14H664.7M470.3 528.08H664.7M470.3 531.02H664.7M470.3 533.96H664.7M470.3 536.89H664.7M470.3 539.83H664.7" stroke="#7a8aa0" stroke-width="0.75" fill="none"/></g><path d="M522 466.5 C523.3 466.5 526.85 465.82 529.8 466.5 C532.75 467.18 536.68 469.37 539.7 470.6 C542.72 471.83 543.8 473.22 547.9 473.9 C552 474.58 557.45 474.62 564.3 474.7 C571.15 474.78 582.97 474.95 589 474.4 C595.03 473.85 597.48 472.58 600.5 471.4 C603.52 470.22 604.85 468.13 607.1 467.3 C609.35 466.47 612.85 466.55 614 466.4" fill="none" stroke="#6c88b0" stroke-width="0.6" opacity="0.7"/><path d="M522 466.6 C522.48 466.72 522.78 466.35 524.9 467.3 C527.02 468.25 531.42 470.52 534.7 472.3 C537.98 474.08 541.03 476.83 544.6 478 C548.17 479.17 551.53 479.05 556.1 479.3 C560.67 479.55 566.52 479.5 572 479.5 C577.48 479.5 584.8 479.68 589 479.3 C593.2 478.92 594.18 478.52 597.2 477.2 C600.22 475.88 604.63 473.05 607.1 471.4 C609.57 469.75 610.85 468.1 612 467.3 C613.15 466.5 613.67 466.72 614 466.6" fill="none" stroke="#3a5890" stroke-width="0.9"/><path d="M469.3 470 L472.8 470 L476.3 467.2 L524 467.2" fill="none" stroke="#b8def6" stroke-width="1" transform="translate(0,-1.8)"/><path d="M469.3 470 L472.8 470 L476.3 467.2 L524 467.2" fill="none" stroke="#4a8cc6" stroke-width="2.8" stroke-linejoin="round"/><path d="M469.3 470 L472.8 470 L476.3 467.2 L524 467.2" fill="none" stroke="#28508c" stroke-width="0.8" transform="translate(0,1.1)"/><path d="M613 466.8 L658.7 467.2 L662.2 470 L665.7 470" fill="none" stroke="#b8def6" stroke-width="1" transform="translate(0,-1.8)"/><path d="M613 466.8 L658.7 467.2 L662.2 470 L665.7 470" fill="none" stroke="#4a8cc6" stroke-width="2.8" stroke-linejoin="round"/><path d="M613 466.8 L658.7 467.2 L662.2 470 L665.7 470" fill="none" stroke="#28508c" stroke-width="0.8" transform="translate(0,1.1)"/><path d="M539.4 409V476M546.2 409V476M552.9 409V476M559.6 409V476M566.3 409V476M573.1 409V476M579.8 409V476M586.8 409V476M593.5 409V476" stroke="#e8a030" stroke-width="0.6" opacity="0.45" fill="none"/><polygon points="546.20,451.80 544.20,447.43 548.20,447.43" fill="#f79a1a"/><polygon points="593.50,451.80 591.50,447.43 595.50,447.43" fill="#f79a1a"/><polygon points="552.90,447.00 550.90,442.62 554.90,442.62" fill="#f79a1a"/><polygon points="559.60,447.00 557.60,442.62 561.60,442.62" fill="#f79a1a"/><polygon points="566.30,447.00 564.30,442.62 568.30,442.62" fill="#f79a1a"/><polygon points="573.10,447.00 571.10,442.62 575.10,442.62" fill="#f79a1a"/><polygon points="579.80,447.00 577.80,442.62 581.80,442.62" fill="#f79a1a"/><polygon points="586.80,447.00 584.80,442.62 588.80,442.62" fill="#f79a1a"/><path d="M534.6 418V446M600.8 420V462" stroke="#f03030" stroke-width="0.6" opacity="0.5" fill="none"/><polygon points="539.10,442.60 537.10,438.23 541.10,438.23" fill="#f07020"/><polygon points="534.60,431.60 532.60,427.23 536.60,427.23" fill="#f0281e"/><polygon points="600.70,437.90 598.70,433.52 602.70,433.52" fill="#f0281e"/><polygon points="520.50,465.10 524.70,463.18 524.70,467.02" fill="#1a22f0"/><polygon points="612.20,465.10 608.00,467.02 608.00,463.18" fill="#1a22f0"/><polygon points="501.61,469.81 505.63,467.53 505.96,471.36" fill="#1a22f0"/><polygon points="501.67,474.79 505.28,471.90 506.22,475.62" fill="#1a22f0"/><polygon points="486.59,479.44 489.70,476.03 491.21,479.56" fill="#1a22f0"/><polygon points="541.36,473.79 542.12,469.23 545.30,471.38" fill="#1a22f0"/><polygon points="494.92,484.59 497.61,480.84 499.52,484.17" fill="#1a22f0"/><polygon points="488.27,493.86 489.97,489.57 492.63,492.34" fill="#1a22f0"/><polygon points="488.42,498.31 489.74,493.88 492.63,496.41" fill="#1a22f0"/><polygon points="506.94,496.34 508.46,491.97 511.23,494.62" fill="#1a22f0"/><polygon points="514.78,501.13 515.72,496.61 518.81,498.89" fill="#1a22f0"/><polygon points="498.66,508.19 499.41,503.63 502.60,505.78" fill="#1a22f0"/><polygon points="524.92,508.34 525.10,503.73 528.53,505.46" fill="#1a22f0"/><polygon points="538.78,498.42 538.62,493.80 542.16,495.28" fill="#1a22f0"/><polygon points="550.81,506.75 549.79,502.25 553.55,503.03" fill="#1a22f0"/><polygon points="561.81,502.19 560.23,497.85 564.06,498.16" fill="#1a22f0"/><polygon points="571.79,506.80 569.71,502.68 573.55,502.53" fill="#1a22f0"/><polygon points="566.45,511.40 564.62,507.16 568.46,507.24" fill="#1a22f0"/><polygon points="508.12,518.14 508.29,513.53 511.72,515.26" fill="#1a22f0"/><polygon points="509.16,525.21 509.04,520.59 512.57,522.10" fill="#1a22f0"/><polygon points="487.82,522.69 487.78,518.08 491.29,519.64" fill="#1a22f0"/><polygon points="535.31,520.70 534.68,516.12 538.36,517.23" fill="#1a22f0"/><polygon points="553.70,525.08 552.32,520.67 556.13,521.16" fill="#1a22f0"/><polygon points="578.93,520.79 576.61,516.80 580.44,516.42" fill="#1a22f0"/><polygon points="585.75,525.07 583.24,521.20 587.03,520.64" fill="#1a22f0"/><polygon points="592.89,525.05 590.15,521.33 593.91,520.55" fill="#1a22f0"/><polygon points="583.78,496.35 581.06,492.62 584.82,491.85" fill="#1a22f0"/><polygon points="590.08,497.80 587.05,494.32 590.73,493.23" fill="#1a22f0"/><polygon points="604.04,507.51 600.63,504.40 604.16,502.89" fill="#1a22f0"/><polygon points="631.99,469.49 627.65,471.07 627.96,467.24" fill="#1a22f0"/><polygon points="642.58,477.04 638.00,477.57 639.18,473.92" fill="#1a22f0"/><polygon points="626.66,479.84 622.05,479.75 623.71,476.29" fill="#1a22f0"/><polygon points="652.19,482.09 647.59,481.68 649.48,478.34" fill="#1a22f0"/><polygon points="620.48,498.69 616.38,496.56 619.41,494.20" fill="#1a22f0"/><polygon points="634.41,495.38 630.07,493.81 632.76,491.07" fill="#1a22f0"/><polygon points="651.74,493.95 647.47,492.20 650.27,489.57" fill="#1a22f0"/><polygon points="620.21,508.88 616.44,506.21 619.76,504.28" fill="#1a22f0"/><polygon points="652.11,512.03 648.47,509.19 651.87,507.42" fill="#1a22f0"/><polygon points="645.98,516.64 642.38,513.76 645.80,512.03" fill="#1a22f0"/><polygon points="616.22,520.62 612.84,517.47 616.39,516.00" fill="#1a22f0"/><polygon points="636.63,526.41 633.23,523.29 636.77,521.79" fill="#1a22f0"/><polygon points="523.14,468.48 527.75,468.11 526.43,471.72" fill="#f0281e"/></g><rect x="470.3" y="406" width="194.4" height="135.3" fill="none" stroke="#262626" stroke-width="0.8"/><path d="M470.3 406H664.7" stroke="#7a7a7a" stroke-width="1.5"/><path d="M467 408.94H470.3" stroke="#262626" stroke-width="0.8"/><text x="464.6" y="412.64" font-size="10.15" text-anchor="end" fill="#262626" stroke="#262626" stroke-width="0.2" textLength="11.13" lengthAdjust="spacingAndGlyphs">10</text><path d="M467 438.32H470.3" stroke="#262626" stroke-width="0.8"/><text x="464.6" y="442.02" font-size="10.15" text-anchor="end" fill="#262626" stroke="#262626" stroke-width="0.2" textLength="5.57" lengthAdjust="spacingAndGlyphs">5</text><path d="M467 467.71H470.3" stroke="#262626" stroke-width="0.8"/><text x="464.6" y="471.41" font-size="10.15" text-anchor="end" fill="#262626" stroke="#262626" stroke-width="0.2" textLength="5.57" lengthAdjust="spacingAndGlyphs">0</text><path d="M467 497.09H470.3" stroke="#262626" stroke-width="0.8"/><text x="464.6" y="500.79" font-size="10.15" text-anchor="end" fill="#262626" stroke="#262626" stroke-width="0.2" textLength="12.9" lengthAdjust="spacingAndGlyphs">−5</text><path d="M467 526.48H470.3" stroke="#262626" stroke-width="0.8"/><text x="464.6" y="530.18" font-size="10.15" text-anchor="end" fill="#262626" stroke="#262626" stroke-width="0.2" textLength="18.46" lengthAdjust="spacingAndGlyphs">−10</text><path d="M479.35 541.3V544.6" stroke="#262626" stroke-width="0.8"/><text x="479.35" y="555.1" font-size="10.15" text-anchor="middle" fill="#262626" stroke="#262626" stroke-width="0.2" textLength="18.46" lengthAdjust="spacingAndGlyphs">−15</text><path d="M508.73 541.3V544.6" stroke="#262626" stroke-width="0.8"/><text x="508.73" y="555.1" font-size="10.15" text-anchor="middle" fill="#262626" stroke="#262626" stroke-width="0.2" textLength="18.46" lengthAdjust="spacingAndGlyphs">−10</text><path d="M538.12 541.3V544.6" stroke="#262626" stroke-width="0.8"/><text x="538.12" y="555.1" font-size="10.15" text-anchor="middle" fill="#262626" stroke="#262626" stroke-width="0.2" textLength="12.9" lengthAdjust="spacingAndGlyphs">−5</text><path d="M567.5 541.3V544.6" stroke="#262626" stroke-width="0.8"/><text x="567.5" y="555.1" font-size="10.15" text-anchor="middle" fill="#262626" stroke="#262626" stroke-width="0.2" textLength="5.57" lengthAdjust="spacingAndGlyphs">0</text><path d="M596.88 541.3V544.6" stroke="#262626" stroke-width="0.8"/><text x="596.88" y="555.1" font-size="10.15" text-anchor="middle" fill="#262626" stroke="#262626" stroke-width="0.2" textLength="5.57" lengthAdjust="spacingAndGlyphs">5</text><path d="M626.27 541.3V544.6" stroke="#262626" stroke-width="0.8"/><text x="626.27" y="555.1" font-size="10.15" text-anchor="middle" fill="#262626" stroke="#262626" stroke-width="0.2" textLength="11.13" lengthAdjust="spacingAndGlyphs">10</text><path d="M655.65 541.3V544.6" stroke="#262626" stroke-width="0.8"/><text x="655.65" y="555.1" font-size="10.15" text-anchor="middle" fill="#262626" stroke="#262626" stroke-width="0.2" textLength="11.13" lengthAdjust="spacingAndGlyphs">15</text><text x="567.5" y="566.7" font-size="10.15" text-anchor="middle" fill="#262626" stroke="#262626" stroke-width="0.2" textLength="44.17" lengthAdjust="spacingAndGlyphs">Y-axis (m)</text><text x="568" y="401.3" font-size="11.55" text-anchor="middle" fill="#262626" stroke="#262626" stroke-width="0.2" textLength="77.08" lengthAdjust="spacingAndGlyphs">T = 3 d 15.0 h</text><clipPath id="cL4"><rect x="28.5" y="620.5" width="385.2" height="134.8"/></clipPath><g clip-path="url(#cL4)"><rect x="28.5" y="620.5" width="385.2" height="134.8" fill="#fff"/><path d="M29.4 620.5V755.3M32.34 620.5V755.3M35.28 620.5V755.3M38.22 620.5V755.3M41.15 620.5V755.3M44.09 620.5V755.3M47.03 620.5V755.3M49.97 620.5V755.3M52.91 620.5V755.3M55.85 620.5V755.3M58.78 620.5V755.3M61.72 620.5V755.3M64.66 620.5V755.3M67.6 620.5V755.3M70.54 620.5V755.3M73.48 620.5V755.3M76.42 620.5V755.3M79.35 620.5V755.3M82.29 620.5V755.3M85.23 620.5V755.3M88.17 620.5V755.3M91.11 620.5V755.3M94.05 620.5V755.3M96.99 620.5V755.3M99.92 620.5V755.3M102.86 620.5V755.3M105.8 620.5V755.3M108.74 620.5V755.3M111.68 620.5V755.3M114.62 620.5V755.3M117.56 620.5V755.3M120.49 620.5V755.3M123.43 620.5V755.3M126.37 620.5V755.3M129.31 620.5V755.3M132.25 620.5V755.3M135.19 620.5V755.3M138.12 620.5V755.3M141.06 620.5V755.3M144 620.5V755.3M146.94 620.5V755.3M149.88 620.5V755.3M152.82 620.5V755.3M155.76 620.5V755.3M158.69 620.5V755.3M161.63 620.5V755.3M164.57 620.5V755.3M167.51 620.5V755.3M170.45 620.5V755.3M173.39 620.5V755.3M176.33 620.5V755.3M179.26 620.5V755.3M182.2 620.5V755.3M185.14 620.5V755.3M188.08 620.5V755.3M191.02 620.5V755.3M193.96 620.5V755.3M196.89 620.5V755.3M199.83 620.5V755.3M202.77 620.5V755.3M205.71 620.5V755.3M208.65 620.5V755.3M211.59 620.5V755.3M214.53 620.5V755.3M217.46 620.5V755.3M220.4 620.5V755.3M223.34 620.5V755.3M226.28 620.5V755.3M229.22 620.5V755.3M232.16 620.5V755.3M235.1 620.5V755.3M238.03 620.5V755.3M240.97 620.5V755.3M243.91 620.5V755.3M246.85 620.5V755.3M249.79 620.5V755.3M252.73 620.5V755.3M255.66 620.5V755.3M258.6 620.5V755.3M261.54 620.5V755.3M264.48 620.5V755.3M267.42 620.5V755.3M270.36 620.5V755.3M273.3 620.5V755.3M276.23 620.5V755.3M279.17 620.5V755.3M282.11 620.5V755.3M285.05 620.5V755.3M287.99 620.5V755.3M290.93 620.5V755.3M293.87 620.5V755.3M296.8 620.5V755.3M299.74 620.5V755.3M302.68 620.5V755.3M305.62 620.5V755.3M308.56 620.5V755.3M311.5 620.5V755.3M314.43 620.5V755.3M317.37 620.5V755.3M320.31 620.5V755.3M323.25 620.5V755.3M326.19 620.5V755.3M329.13 620.5V755.3M332.07 620.5V755.3M335 620.5V755.3M337.94 620.5V755.3M340.88 620.5V755.3M343.82 620.5V755.3M346.76 620.5V755.3M349.7 620.5V755.3M352.63 620.5V755.3M355.57 620.5V755.3M358.51 620.5V755.3M361.45 620.5V755.3M364.39 620.5V755.3M367.33 620.5V755.3M370.27 620.5V755.3M373.2 620.5V755.3M376.14 620.5V755.3M379.08 620.5V755.3M382.02 620.5V755.3M384.96 620.5V755.3M387.9 620.5V755.3M390.84 620.5V755.3M393.77 620.5V755.3M396.71 620.5V755.3M399.65 620.5V755.3M402.59 620.5V755.3M405.53 620.5V755.3M408.47 620.5V755.3M411.4 620.5V755.3M28.5 622.1H413.7M28.5 625.04H413.7M28.5 627.98H413.7M28.5 630.92H413.7M28.5 633.85H413.7M28.5 636.79H413.7M28.5 639.73H413.7M28.5 642.67H413.7M28.5 645.61H413.7M28.5 648.55H413.7M28.5 651.48H413.7M28.5 654.42H413.7M28.5 657.36H413.7M28.5 660.3H413.7M28.5 663.24H413.7M28.5 666.18H413.7M28.5 669.12H413.7M28.5 672.05H413.7M28.5 674.99H413.7M28.5 677.93H413.7M28.5 680.87H413.7M28.5 683.81H413.7M28.5 686.75H413.7M28.5 689.69H413.7M28.5 692.62H413.7M28.5 695.56H413.7M28.5 698.5H413.7M28.5 701.44H413.7M28.5 704.38H413.7M28.5 707.32H413.7M28.5 710.25H413.7M28.5 713.19H413.7M28.5 716.13H413.7M28.5 719.07H413.7M28.5 722.01H413.7M28.5 724.95H413.7M28.5 727.89H413.7M28.5 730.82H413.7M28.5 733.76H413.7M28.5 736.7H413.7M28.5 739.64H413.7M28.5 742.58H413.7M28.5 745.52H413.7M28.5 748.46H413.7M28.5 751.39H413.7M28.5 754.33H413.7" stroke="#c4c4c4" stroke-width="0.75" fill="none"/><clipPath id="wL4"><path d="M27.5 684.55 L31 684.55 L34.5 681.75 L143 682.4 L145.2 682.7 L160.4 690.3 L175.7 696.7 L193.4 703 L208.7 706.8 L223.9 706.8 L241.7 704.3 L259.5 699.2 L277.3 692.9 L290 684 L293.8 680.4 L296 680.4 L414.7 681.75 L414.7 756.3 L27.5 756.3Z"/></clipPath><path d="M27.5 684.55 L31 684.55 L34.5 681.75 L143 682.4 L145.2 682.7 L160.4 690.3 L175.7 696.7 L193.4 703 L208.7 706.8 L223.9 706.8 L241.7 704.3 L259.5 699.2 L277.3 692.9 L290 684 L293.8 680.4 L296 680.4 L414.7 681.75 L414.7 756.3 L27.5 756.3Z" fill="#93a3ba"/><g clip-path="url(#wL4)"><path d="M29.4 620.5V755.3M32.34 620.5V755.3M35.28 620.5V755.3M38.22 620.5V755.3M41.15 620.5V755.3M44.09 620.5V755.3M47.03 620.5V755.3M49.97 620.5V755.3M52.91 620.5V755.3M55.85 620.5V755.3M58.78 620.5V755.3M61.72 620.5V755.3M64.66 620.5V755.3M67.6 620.5V755.3M70.54 620.5V755.3M73.48 620.5V755.3M76.42 620.5V755.3M79.35 620.5V755.3M82.29 620.5V755.3M85.23 620.5V755.3M88.17 620.5V755.3M91.11 620.5V755.3M94.05 620.5V755.3M96.99 620.5V755.3M99.92 620.5V755.3M102.86 620.5V755.3M105.8 620.5V755.3M108.74 620.5V755.3M111.68 620.5V755.3M114.62 620.5V755.3M117.56 620.5V755.3M120.49 620.5V755.3M123.43 620.5V755.3M126.37 620.5V755.3M129.31 620.5V755.3M132.25 620.5V755.3M135.19 620.5V755.3M138.12 620.5V755.3M141.06 620.5V755.3M144 620.5V755.3M146.94 620.5V755.3M149.88 620.5V755.3M152.82 620.5V755.3M155.76 620.5V755.3M158.69 620.5V755.3M161.63 620.5V755.3M164.57 620.5V755.3M167.51 620.5V755.3M170.45 620.5V755.3M173.39 620.5V755.3M176.33 620.5V755.3M179.26 620.5V755.3M182.2 620.5V755.3M185.14 620.5V755.3M188.08 620.5V755.3M191.02 620.5V755.3M193.96 620.5V755.3M196.89 620.5V755.3M199.83 620.5V755.3M202.77 620.5V755.3M205.71 620.5V755.3M208.65 620.5V755.3M211.59 620.5V755.3M214.53 620.5V755.3M217.46 620.5V755.3M220.4 620.5V755.3M223.34 620.5V755.3M226.28 620.5V755.3M229.22 620.5V755.3M232.16 620.5V755.3M235.1 620.5V755.3M238.03 620.5V755.3M240.97 620.5V755.3M243.91 620.5V755.3M246.85 620.5V755.3M249.79 620.5V755.3M252.73 620.5V755.3M255.66 620.5V755.3M258.6 620.5V755.3M261.54 620.5V755.3M264.48 620.5V755.3M267.42 620.5V755.3M270.36 620.5V755.3M273.3 620.5V755.3M276.23 620.5V755.3M279.17 620.5V755.3M282.11 620.5V755.3M285.05 620.5V755.3M287.99 620.5V755.3M290.93 620.5V755.3M293.87 620.5V755.3M296.8 620.5V755.3M299.74 620.5V755.3M302.68 620.5V755.3M305.62 620.5V755.3M308.56 620.5V755.3M311.5 620.5V755.3M314.43 620.5V755.3M317.37 620.5V755.3M320.31 620.5V755.3M323.25 620.5V755.3M326.19 620.5V755.3M329.13 620.5V755.3M332.07 620.5V755.3M335 620.5V755.3M337.94 620.5V755.3M340.88 620.5V755.3M343.82 620.5V755.3M346.76 620.5V755.3M349.7 620.5V755.3M352.63 620.5V755.3M355.57 620.5V755.3M358.51 620.5V755.3M361.45 620.5V755.3M364.39 620.5V755.3M367.33 620.5V755.3M370.27 620.5V755.3M373.2 620.5V755.3M376.14 620.5V755.3M379.08 620.5V755.3M382.02 620.5V755.3M384.96 620.5V755.3M387.9 620.5V755.3M390.84 620.5V755.3M393.77 620.5V755.3M396.71 620.5V755.3M399.65 620.5V755.3M402.59 620.5V755.3M405.53 620.5V755.3M408.47 620.5V755.3M411.4 620.5V755.3M28.5 622.1H413.7M28.5 625.04H413.7M28.5 627.98H413.7M28.5 630.92H413.7M28.5 633.85H413.7M28.5 636.79H413.7M28.5 639.73H413.7M28.5 642.67H413.7M28.5 645.61H413.7M28.5 648.55H413.7M28.5 651.48H413.7M28.5 654.42H413.7M28.5 657.36H413.7M28.5 660.3H413.7M28.5 663.24H413.7M28.5 666.18H413.7M28.5 669.12H413.7M28.5 672.05H413.7M28.5 674.99H413.7M28.5 677.93H413.7M28.5 680.87H413.7M28.5 683.81H413.7M28.5 686.75H413.7M28.5 689.69H413.7M28.5 692.62H413.7M28.5 695.56H413.7M28.5 698.5H413.7M28.5 701.44H413.7M28.5 704.38H413.7M28.5 707.32H413.7M28.5 710.25H413.7M28.5 713.19H413.7M28.5 716.13H413.7M28.5 719.07H413.7M28.5 722.01H413.7M28.5 724.95H413.7M28.5 727.89H413.7M28.5 730.82H413.7M28.5 733.76H413.7M28.5 736.7H413.7M28.5 739.64H413.7M28.5 742.58H413.7M28.5 745.52H413.7M28.5 748.46H413.7M28.5 751.39H413.7M28.5 754.33H413.7" stroke="#aab0be" stroke-width="0.75" fill="none"/><path d="M26.5 689.2 L30.5 689.2 L34.5 689.2 L38.5 689.2 L42.5 689.2 L46.5 689.2 L50.5 689.2 L54.5 689.2 L58.5 689.2 L62.5 689.2 L66.5 689.2 L70.5 689.2 L74.5 689.2 L78.5 689.2 L82.5 689.2 L86.5 689.2 L90.5 689.2 L94.5 689.21 L98.5 689.21 L102.5 689.22 L106.5 689.23 L110.5 689.24 L114.5 689.26 L118.5 689.29 L122.5 689.32 L126.5 689.38 L130.5 689.45 L134.5 689.54 L138.5 689.67 L142.5 689.83 L146.5 690.03 L150.5 690.28 L154.5 690.59 L158.5 690.96 L162.5 691.39 L166.5 691.89 L170.5 692.46 L174.5 693.09 L178.5 693.77 L182.5 694.49 L186.5 695.23 L190.5 695.98 L194.5 696.7 L198.5 697.39 L202.5 698 L206.5 698.52 L210.5 698.93 L214.5 699.2 L218.5 699.33 L222.5 699.31 L226.5 699.14 L230.5 698.84 L234.5 698.4 L238.5 697.85 L242.5 697.22 L246.5 696.53 L250.5 695.79 L254.5 695.04 L258.5 694.3 L262.5 693.59 L266.5 692.93 L270.5 692.31 L274.5 691.76 L278.5 691.28 L282.5 690.86 L286.5 690.51 L290.5 690.22 L294.5 689.98 L298.5 689.78 L302.5 689.63 L306.5 689.52 L310.5 689.43 L314.5 689.36 L318.5 689.31 L322.5 689.28 L326.5 689.25 L330.5 689.24 L334.5 689.22 L338.5 689.22 L342.5 689.21 L346.5 689.21 L350.5 689.2 L354.5 689.2 L358.5 689.2 L362.5 689.2 L366.5 689.2 L370.5 689.2 L374.5 689.2 L378.5 689.2 L382.5 689.2 L386.5 689.2 L390.5 689.2 L394.5 689.2 L398.5 689.2 L402.5 689.2 L406.5 689.2 L410.5 689.2 L414.5 689.2M26.5 693.95 L30.5 693.95 L34.5 693.95 L38.5 693.95 L42.5 693.95 L46.5 693.95 L50.5 693.95 L54.5 693.95 L58.5 693.95 L62.5 693.95 L66.5 693.95 L70.5 693.95 L74.5 693.95 L78.5 693.95 L82.5 693.95 L86.5 693.96 L90.5 693.96 L94.5 693.96 L98.5 693.97 L102.5 693.98 L106.5 693.99 L110.5 694.01 L114.5 694.04 L118.5 694.08 L122.5 694.12 L126.5 694.19 L130.5 694.27 L134.5 694.38 L138.5 694.51 L142.5 694.68 L146.5 694.89 L150.5 695.14 L154.5 695.43 L158.5 695.78 L162.5 696.17 L166.5 696.62 L170.5 697.11 L174.5 697.65 L178.5 698.21 L182.5 698.81 L186.5 699.41 L190.5 700 L194.5 700.58 L198.5 701.11 L202.5 701.58 L206.5 701.98 L210.5 702.29 L214.5 702.5 L218.5 702.6 L222.5 702.58 L226.5 702.46 L230.5 702.22 L234.5 701.89 L238.5 701.47 L242.5 700.98 L246.5 700.44 L250.5 699.86 L254.5 699.26 L258.5 698.66 L262.5 698.07 L266.5 697.51 L270.5 696.98 L274.5 696.5 L278.5 696.07 L282.5 695.69 L286.5 695.36 L290.5 695.07 L294.5 694.83 L298.5 694.64 L302.5 694.48 L306.5 694.35 L310.5 694.25 L314.5 694.17 L318.5 694.11 L322.5 694.07 L326.5 694.03 L330.5 694.01 L334.5 693.99 L338.5 693.98 L342.5 693.97 L346.5 693.96 L350.5 693.96 L354.5 693.96 L358.5 693.95 L362.5 693.95 L366.5 693.95 L370.5 693.95 L374.5 693.95 L378.5 693.95 L382.5 693.95 L386.5 693.95 L390.5 693.95 L394.5 693.95 L398.5 693.95 L402.5 693.95 L406.5 693.95 L410.5 693.95 L414.5 693.95M26.5 698.7 L30.5 698.7 L34.5 698.7 L38.5 698.7 L42.5 698.7 L46.5 698.7 L50.5 698.7 L54.5 698.7 L58.5 698.7 L62.5 698.7 L66.5 698.7 L70.5 698.7 L74.5 698.7 L78.5 698.7 L82.5 698.71 L86.5 698.71 L90.5 698.72 L94.5 698.72 L98.5 698.73 L102.5 698.75 L106.5 698.77 L110.5 698.79 L114.5 698.82 L118.5 698.87 L122.5 698.92 L126.5 699 L130.5 699.09 L134.5 699.2 L138.5 699.34 L142.5 699.51 L146.5 699.72 L150.5 699.95 L154.5 700.23 L158.5 700.54 L162.5 700.89 L166.5 701.28 L170.5 701.7 L174.5 702.15 L178.5 702.62 L182.5 703.11 L186.5 703.59 L190.5 704.07 L194.5 704.52 L198.5 704.93 L202.5 705.3 L206.5 705.61 L210.5 705.85 L214.5 706.01 L218.5 706.08 L222.5 706.07 L226.5 705.97 L230.5 705.8 L234.5 705.54 L238.5 705.22 L242.5 704.83 L246.5 704.41 L250.5 703.95 L254.5 703.47 L258.5 702.99 L262.5 702.5 L266.5 702.04 L270.5 701.59 L274.5 701.18 L278.5 700.8 L282.5 700.46 L286.5 700.16 L290.5 699.89 L294.5 699.66 L298.5 699.47 L302.5 699.31 L306.5 699.17 L310.5 699.06 L314.5 698.98 L318.5 698.91 L322.5 698.86 L326.5 698.81 L330.5 698.78 L334.5 698.76 L338.5 698.74 L342.5 698.73 L346.5 698.72 L350.5 698.71 L354.5 698.71 L358.5 698.71 L362.5 698.7 L366.5 698.7 L370.5 698.7 L374.5 698.7 L378.5 698.7 L382.5 698.7 L386.5 698.7 L390.5 698.7 L394.5 698.7 L398.5 698.7 L402.5 698.7 L406.5 698.7 L410.5 698.7 L414.5 698.7M26.5 703.45 L30.5 703.45 L34.5 703.45 L38.5 703.45 L42.5 703.45 L46.5 703.45 L50.5 703.45 L54.5 703.45 L58.5 703.45 L62.5 703.45 L66.5 703.45 L70.5 703.45 L74.5 703.46 L78.5 703.46 L82.5 703.46 L86.5 703.47 L90.5 703.47 L94.5 703.48 L98.5 703.5 L102.5 703.52 L106.5 703.54 L110.5 703.57 L114.5 703.61 L118.5 703.66 L122.5 703.72 L126.5 703.8 L130.5 703.9 L134.5 704.01 L138.5 704.15 L142.5 704.32 L146.5 704.51 L150.5 704.73 L154.5 704.98 L158.5 705.26 L162.5 705.57 L166.5 705.9 L170.5 706.26 L174.5 706.63 L178.5 707.02 L182.5 707.41 L186.5 707.8 L190.5 708.18 L194.5 708.54 L198.5 708.86 L202.5 709.15 L206.5 709.39 L210.5 709.57 L214.5 709.69 L218.5 709.75 L222.5 709.74 L226.5 709.67 L230.5 709.53 L234.5 709.33 L238.5 709.08 L242.5 708.79 L246.5 708.45 L250.5 708.09 L254.5 707.71 L258.5 707.32 L262.5 706.92 L266.5 706.54 L270.5 706.17 L274.5 705.81 L278.5 705.49 L282.5 705.19 L286.5 704.91 L290.5 704.67 L294.5 704.46 L298.5 704.27 L302.5 704.12 L306.5 703.98 L310.5 703.87 L314.5 703.78 L318.5 703.71 L322.5 703.65 L326.5 703.6 L330.5 703.56 L334.5 703.53 L338.5 703.51 L342.5 703.49 L346.5 703.48 L350.5 703.47 L354.5 703.47 L358.5 703.46 L362.5 703.46 L366.5 703.46 L370.5 703.45 L374.5 703.45 L378.5 703.45 L382.5 703.45 L386.5 703.45 L390.5 703.45 L394.5 703.45 L398.5 703.45 L402.5 703.45 L406.5 703.45 L410.5 703.45 L414.5 703.45M26.5 708.2 L30.5 708.2 L34.5 708.2 L38.5 708.2 L42.5 708.2 L46.5 708.2 L50.5 708.2 L54.5 708.2 L58.5 708.2 L62.5 708.2 L66.5 708.2 L70.5 708.21 L74.5 708.21 L78.5 708.21 L82.5 708.22 L86.5 708.23 L90.5 708.24 L94.5 708.25 L98.5 708.27 L102.5 708.29 L106.5 708.31 L110.5 708.35 L114.5 708.39 L118.5 708.45 L122.5 708.51 L126.5 708.6 L130.5 708.69 L134.5 708.81 L138.5 708.94 L142.5 709.1 L146.5 709.27 L150.5 709.47 L154.5 709.7 L158.5 709.94 L162.5 710.21 L166.5 710.49 L170.5 710.79 L174.5 711.1 L178.5 711.42 L182.5 711.74 L186.5 712.05 L190.5 712.35 L194.5 712.63 L198.5 712.89 L202.5 713.11 L206.5 713.3 L210.5 713.44 L214.5 713.53 L218.5 713.58 L222.5 713.57 L226.5 713.52 L230.5 713.41 L234.5 713.26 L238.5 713.06 L242.5 712.83 L246.5 712.56 L250.5 712.28 L254.5 711.97 L258.5 711.66 L262.5 711.34 L266.5 711.02 L270.5 710.71 L274.5 710.42 L278.5 710.14 L282.5 709.88 L286.5 709.64 L290.5 709.42 L294.5 709.23 L298.5 709.05 L302.5 708.91 L306.5 708.78 L310.5 708.67 L314.5 708.57 L318.5 708.5 L322.5 708.43 L326.5 708.38 L330.5 708.34 L334.5 708.31 L338.5 708.28 L342.5 708.26 L346.5 708.25 L350.5 708.23 L354.5 708.22 L358.5 708.22 L362.5 708.21 L366.5 708.21 L370.5 708.21 L374.5 708.2 L378.5 708.2 L382.5 708.2 L386.5 708.2 L390.5 708.2 L394.5 708.2 L398.5 708.2 L402.5 708.2 L406.5 708.2 L410.5 708.2 L414.5 708.2M26.5 712.95 L30.5 712.95 L34.5 712.95 L38.5 712.95 L42.5 712.95 L46.5 712.95 L50.5 712.95 L54.5 712.95 L58.5 712.95 L62.5 712.96 L66.5 712.96 L70.5 712.96 L74.5 712.96 L78.5 712.97 L82.5 712.98 L86.5 712.99 L90.5 713 L94.5 713.01 L98.5 713.03 L102.5 713.06 L106.5 713.09 L110.5 713.13 L114.5 713.17 L118.5 713.23 L122.5 713.3 L126.5 713.38 L130.5 713.47 L134.5 713.58 L138.5 713.71 L142.5 713.85 L146.5 714.01 L150.5 714.19 L154.5 714.39 L158.5 714.6 L162.5 714.82 L166.5 715.06 L170.5 715.31 L174.5 715.57 L178.5 715.83 L182.5 716.09 L186.5 716.34 L190.5 716.58 L194.5 716.8 L198.5 717 L202.5 717.18 L206.5 717.32 L210.5 717.43 L214.5 717.51 L218.5 717.54 L222.5 717.54 L226.5 717.49 L230.5 717.41 L234.5 717.29 L238.5 717.14 L242.5 716.96 L246.5 716.75 L250.5 716.52 L254.5 716.28 L258.5 716.02 L262.5 715.77 L266.5 715.51 L270.5 715.25 L274.5 715 L278.5 714.77 L282.5 714.54 L286.5 714.33 L290.5 714.14 L294.5 713.97 L298.5 713.81 L302.5 713.68 L306.5 713.55 L310.5 713.45 L314.5 713.36 L318.5 713.28 L322.5 713.22 L326.5 713.16 L330.5 713.12 L334.5 713.08 L338.5 713.05 L342.5 713.03 L346.5 713.01 L350.5 713 L354.5 712.98 L358.5 712.98 L362.5 712.97 L366.5 712.96 L370.5 712.96 L374.5 712.96 L378.5 712.96 L382.5 712.95 L386.5 712.95 L390.5 712.95 L394.5 712.95 L398.5 712.95 L402.5 712.95 L406.5 712.95 L410.5 712.95 L414.5 712.95M26.5 717.7 L30.5 717.7 L34.5 717.7 L38.5 717.7 L42.5 717.7 L46.5 717.7 L50.5 717.7 L54.5 717.7 L58.5 717.71 L62.5 717.71 L66.5 717.71 L70.5 717.72 L74.5 717.72 L78.5 717.73 L82.5 717.74 L86.5 717.75 L90.5 717.76 L94.5 717.78 L98.5 717.8 L102.5 717.83 L106.5 717.86 L110.5 717.9 L114.5 717.95 L118.5 718.01 L122.5 718.07 L126.5 718.15 L130.5 718.24 L134.5 718.34 L138.5 718.46 L142.5 718.59 L146.5 718.73 L150.5 718.89 L154.5 719.06 L158.5 719.24 L162.5 719.43 L166.5 719.63 L170.5 719.84 L174.5 720.05 L178.5 720.26 L182.5 720.47 L186.5 720.67 L190.5 720.86 L194.5 721.04 L198.5 721.2 L202.5 721.34 L206.5 721.45 L210.5 721.54 L214.5 721.59 L218.5 721.62 L222.5 721.62 L226.5 721.58 L230.5 721.52 L234.5 721.42 L238.5 721.3 L242.5 721.16 L246.5 721 L250.5 720.82 L254.5 720.62 L258.5 720.42 L262.5 720.21 L266.5 720 L270.5 719.79 L274.5 719.58 L278.5 719.38 L282.5 719.19 L286.5 719.01 L290.5 718.85 L294.5 718.69 L298.5 718.55 L302.5 718.43 L306.5 718.32 L310.5 718.22 L314.5 718.13 L318.5 718.06 L322.5 717.99 L326.5 717.94 L330.5 717.89 L334.5 717.85 L338.5 717.82 L342.5 717.8 L346.5 717.77 L350.5 717.76 L354.5 717.74 L358.5 717.73 L362.5 717.73 L366.5 717.72 L370.5 717.71 L374.5 717.71 L378.5 717.71 L382.5 717.71 L386.5 717.7 L390.5 717.7 L394.5 717.7 L398.5 717.7 L402.5 717.7 L406.5 717.7 L410.5 717.7 L414.5 717.7M26.5 722.45 L30.5 722.45 L34.5 722.45 L38.5 722.45 L42.5 722.45 L46.5 722.45 L50.5 722.45 L54.5 722.46 L58.5 722.46 L62.5 722.46 L66.5 722.47 L70.5 722.47 L74.5 722.48 L78.5 722.49 L82.5 722.5 L86.5 722.51 L90.5 722.52 L94.5 722.54 L98.5 722.57 L102.5 722.6 L106.5 722.63 L110.5 722.67 L114.5 722.72 L118.5 722.77 L122.5 722.84 L126.5 722.91 L130.5 722.99 L134.5 723.09 L138.5 723.19 L142.5 723.31 L146.5 723.43 L150.5 723.57 L154.5 723.72 L158.5 723.87 L162.5 724.03 L166.5 724.2 L170.5 724.37 L174.5 724.54 L178.5 724.72 L182.5 724.88 L186.5 725.05 L190.5 725.2 L194.5 725.34 L198.5 725.46 L202.5 725.57 L206.5 725.66 L210.5 725.73 L214.5 725.77 L218.5 725.8 L222.5 725.79 L226.5 725.77 L230.5 725.72 L234.5 725.64 L238.5 725.55 L242.5 725.43 L246.5 725.31 L250.5 725.16 L254.5 725.01 L258.5 724.84 L262.5 724.67 L266.5 724.5 L270.5 724.33 L274.5 724.16 L278.5 723.99 L282.5 723.83 L286.5 723.68 L290.5 723.54 L294.5 723.4 L298.5 723.28 L302.5 723.17 L306.5 723.06 L310.5 722.97 L314.5 722.89 L318.5 722.82 L322.5 722.76 L326.5 722.71 L330.5 722.66 L334.5 722.62 L338.5 722.59 L342.5 722.56 L346.5 722.54 L350.5 722.52 L354.5 722.51 L358.5 722.49 L362.5 722.48 L366.5 722.48 L370.5 722.47 L374.5 722.46 L378.5 722.46 L382.5 722.46 L386.5 722.46 L390.5 722.45 L394.5 722.45 L398.5 722.45 L402.5 722.45 L406.5 722.45 L410.5 722.45 L414.5 722.45M26.5 727.2 L30.5 727.2 L34.5 727.2 L38.5 727.2 L42.5 727.2 L46.5 727.21 L50.5 727.21 L54.5 727.21 L58.5 727.21 L62.5 727.22 L66.5 727.22 L70.5 727.23 L74.5 727.23 L78.5 727.24 L82.5 727.26 L86.5 727.27 L90.5 727.29 L94.5 727.31 L98.5 727.33 L102.5 727.36 L106.5 727.39 L110.5 727.43 L114.5 727.48 L118.5 727.53 L122.5 727.59 L126.5 727.66 L130.5 727.74 L134.5 727.82 L138.5 727.92 L142.5 728.02 L146.5 728.13 L150.5 728.24 L154.5 728.37 L158.5 728.5 L162.5 728.63 L166.5 728.77 L170.5 728.91 L174.5 729.06 L178.5 729.2 L182.5 729.33 L186.5 729.46 L190.5 729.58 L194.5 729.7 L198.5 729.8 L202.5 729.88 L206.5 729.95 L210.5 730 L214.5 730.04 L218.5 730.06 L222.5 730.05 L226.5 730.03 L230.5 729.99 L234.5 729.94 L238.5 729.86 L242.5 729.77 L246.5 729.67 L250.5 729.55 L254.5 729.43 L258.5 729.3 L262.5 729.16 L266.5 729.02 L270.5 728.88 L274.5 728.74 L278.5 728.6 L282.5 728.47 L286.5 728.34 L290.5 728.21 L294.5 728.1 L298.5 727.99 L302.5 727.89 L306.5 727.8 L310.5 727.72 L314.5 727.64 L318.5 727.58 L322.5 727.52 L326.5 727.47 L330.5 727.42 L334.5 727.39 L338.5 727.35 L342.5 727.33 L346.5 727.3 L350.5 727.28 L354.5 727.27 L358.5 727.25 L362.5 727.24 L366.5 727.23 L370.5 727.23 L374.5 727.22 L378.5 727.22 L382.5 727.21 L386.5 727.21 L390.5 727.21 L394.5 727.21 L398.5 727.2 L402.5 727.2 L406.5 727.2 L410.5 727.2 L414.5 727.2M26.5 731.95 L30.5 731.95 L34.5 731.95 L38.5 731.95 L42.5 731.96 L46.5 731.96 L50.5 731.96 L54.5 731.96 L58.5 731.97 L62.5 731.97 L66.5 731.98 L70.5 731.98 L74.5 731.99 L78.5 732 L82.5 732.01 L86.5 732.03 L90.5 732.05 L94.5 732.07 L98.5 732.09 L102.5 732.12 L106.5 732.15 L110.5 732.19 L114.5 732.24 L118.5 732.29 L122.5 732.34 L126.5 732.4 L130.5 732.47 L134.5 732.55 L138.5 732.63 L142.5 732.72 L146.5 732.81 L150.5 732.91 L154.5 733.02 L158.5 733.13 L162.5 733.24 L166.5 733.36 L170.5 733.47 L174.5 733.59 L178.5 733.7 L182.5 733.81 L186.5 733.92 L190.5 734.01 L194.5 734.1 L198.5 734.18 L202.5 734.25 L206.5 734.31 L210.5 734.35 L214.5 734.37 L218.5 734.39 L222.5 734.39 L226.5 734.37 L230.5 734.34 L234.5 734.29 L238.5 734.23 L242.5 734.16 L246.5 734.08 L250.5 733.99 L254.5 733.89 L258.5 733.78 L262.5 733.67 L266.5 733.56 L270.5 733.44 L274.5 733.33 L278.5 733.21 L282.5 733.1 L286.5 732.99 L290.5 732.89 L294.5 732.79 L298.5 732.7 L302.5 732.61 L306.5 732.53 L310.5 732.46 L314.5 732.39 L318.5 732.33 L322.5 732.27 L326.5 732.23 L330.5 732.18 L334.5 732.15 L338.5 732.11 L342.5 732.09 L346.5 732.06 L350.5 732.04 L354.5 732.03 L358.5 732.01 L362.5 732 L366.5 731.99 L370.5 731.98 L374.5 731.97 L378.5 731.97 L382.5 731.97 L386.5 731.96 L390.5 731.96 L394.5 731.96 L398.5 731.96 L402.5 731.95 L406.5 731.95 L410.5 731.95 L414.5 731.95M26.5 736.7 L30.5 736.7 L34.5 736.7 L38.5 736.71 L42.5 736.71 L46.5 736.71 L50.5 736.71 L54.5 736.72 L58.5 736.72 L62.5 736.73 L66.5 736.73 L70.5 736.74 L74.5 736.75 L78.5 736.76 L82.5 736.77 L86.5 736.79 L90.5 736.81 L94.5 736.83 L98.5 736.85 L102.5 736.88 L106.5 736.91 L110.5 736.95 L114.5 736.99 L118.5 737.03 L122.5 737.08 L126.5 737.14 L130.5 737.2 L134.5 737.27 L138.5 737.34 L142.5 737.42 L146.5 737.5 L150.5 737.58 L154.5 737.67 L158.5 737.76 L162.5 737.86 L166.5 737.95 L170.5 738.05 L174.5 738.14 L178.5 738.23 L182.5 738.32 L186.5 738.41 L190.5 738.48 L194.5 738.55 L198.5 738.62 L202.5 738.67 L206.5 738.72 L210.5 738.75 L214.5 738.77 L218.5 738.78 L222.5 738.78 L226.5 738.77 L230.5 738.74 L234.5 738.71 L238.5 738.66 L242.5 738.6 L246.5 738.54 L250.5 738.46 L254.5 738.38 L258.5 738.3 L262.5 738.21 L266.5 738.12 L270.5 738.02 L274.5 737.93 L278.5 737.83 L282.5 737.74 L286.5 737.65 L290.5 737.56 L294.5 737.48 L298.5 737.4 L302.5 737.32 L306.5 737.25 L310.5 737.18 L314.5 737.13 L318.5 737.07 L322.5 737.02 L326.5 736.98 L330.5 736.94 L334.5 736.9 L338.5 736.87 L342.5 736.84 L346.5 736.82 L350.5 736.8 L354.5 736.78 L358.5 736.77 L362.5 736.76 L366.5 736.75 L370.5 736.74 L374.5 736.73 L378.5 736.72 L382.5 736.72 L386.5 736.72 L390.5 736.71 L394.5 736.71 L398.5 736.71 L402.5 736.71 L406.5 736.7 L410.5 736.7 L414.5 736.7M26.5 741.45 L30.5 741.45 L34.5 741.46 L38.5 741.46 L42.5 741.46 L46.5 741.46 L50.5 741.47 L54.5 741.47 L58.5 741.47 L62.5 741.48 L66.5 741.49 L70.5 741.49 L74.5 741.5 L78.5 741.52 L82.5 741.53 L86.5 741.54 L90.5 741.56 L94.5 741.58 L98.5 741.61 L102.5 741.63 L106.5 741.66 L110.5 741.7 L114.5 741.73 L118.5 741.77 L122.5 741.82 L126.5 741.87 L130.5 741.92 L134.5 741.98 L138.5 742.04 L142.5 742.11 L146.5 742.18 L150.5 742.25 L154.5 742.33 L158.5 742.4 L162.5 742.48 L166.5 742.56 L170.5 742.64 L174.5 742.71 L178.5 742.79 L182.5 742.86 L186.5 742.93 L190.5 742.99 L194.5 743.05 L198.5 743.1 L202.5 743.14 L206.5 743.17 L210.5 743.2 L214.5 743.22 L218.5 743.23 L222.5 743.23 L226.5 743.21 L230.5 743.19 L234.5 743.17 L238.5 743.13 L242.5 743.08 L246.5 743.03 L250.5 742.97 L254.5 742.91 L258.5 742.84 L262.5 742.77 L266.5 742.69 L270.5 742.62 L274.5 742.54 L278.5 742.46 L282.5 742.38 L286.5 742.31 L290.5 742.23 L294.5 742.16 L298.5 742.09 L302.5 742.03 L306.5 741.97 L310.5 741.91 L314.5 741.86 L318.5 741.81 L322.5 741.76 L326.5 741.72 L330.5 741.69 L334.5 741.65 L338.5 741.62 L342.5 741.6 L346.5 741.58 L350.5 741.56 L354.5 741.54 L358.5 741.52 L362.5 741.51 L366.5 741.5 L370.5 741.49 L374.5 741.48 L378.5 741.48 L382.5 741.47 L386.5 741.47 L390.5 741.46 L394.5 741.46 L398.5 741.46 L402.5 741.46 L406.5 741.46 L410.5 741.45 L414.5 741.45M26.5 746.2 L30.5 746.21 L34.5 746.21 L38.5 746.21 L42.5 746.21 L46.5 746.21 L50.5 746.22 L54.5 746.22 L58.5 746.23 L62.5 746.23 L66.5 746.24 L70.5 746.25 L74.5 746.26 L78.5 746.27 L82.5 746.28 L86.5 746.3 L90.5 746.32 L94.5 746.33 L98.5 746.36 L102.5 746.38 L106.5 746.41 L110.5 746.44 L114.5 746.47 L118.5 746.51 L122.5 746.55 L126.5 746.6 L130.5 746.64 L134.5 746.69 L138.5 746.75 L142.5 746.8 L146.5 746.86 L150.5 746.92 L154.5 746.98 L158.5 747.05 L162.5 747.11 L166.5 747.18 L170.5 747.24 L174.5 747.3 L178.5 747.36 L182.5 747.42 L186.5 747.48 L190.5 747.53 L194.5 747.57 L198.5 747.61 L202.5 747.65 L206.5 747.67 L210.5 747.7 L214.5 747.71 L218.5 747.72 L222.5 747.72 L226.5 747.71 L230.5 747.69 L234.5 747.67 L238.5 747.64 L242.5 747.6 L246.5 747.56 L250.5 747.51 L254.5 747.46 L258.5 747.41 L262.5 747.35 L266.5 747.29 L270.5 747.23 L274.5 747.16 L278.5 747.1 L282.5 747.03 L286.5 746.97 L290.5 746.91 L294.5 746.85 L298.5 746.79 L302.5 746.73 L306.5 746.68 L310.5 746.63 L314.5 746.58 L318.5 746.54 L322.5 746.5 L326.5 746.47 L330.5 746.43 L334.5 746.4 L338.5 746.38 L342.5 746.35 L346.5 746.33 L350.5 746.31 L354.5 746.29 L358.5 746.28 L362.5 746.27 L366.5 746.26 L370.5 746.25 L374.5 746.24 L378.5 746.23 L382.5 746.23 L386.5 746.22 L390.5 746.22 L394.5 746.21 L398.5 746.21 L402.5 746.21 L406.5 746.21 L410.5 746.21 L414.5 746.2M26.5 750.96 L30.5 750.96 L34.5 750.96 L38.5 750.96 L42.5 750.96 L46.5 750.97 L50.5 750.97 L54.5 750.98 L58.5 750.98 L62.5 750.99 L66.5 750.99 L70.5 751 L74.5 751.01 L78.5 751.02 L82.5 751.04 L86.5 751.05 L90.5 751.07 L94.5 751.09 L98.5 751.11 L102.5 751.13 L106.5 751.15 L110.5 751.18 L114.5 751.21 L118.5 751.25 L122.5 751.28 L126.5 751.32 L130.5 751.36 L134.5 751.4 L138.5 751.45 L142.5 751.5 L146.5 751.55 L150.5 751.6 L154.5 751.65 L158.5 751.7 L162.5 751.76 L166.5 751.81 L170.5 751.86 L174.5 751.91 L178.5 751.96 L182.5 752.01 L186.5 752.05 L190.5 752.09 L194.5 752.13 L198.5 752.16 L202.5 752.19 L206.5 752.21 L210.5 752.23 L214.5 752.24 L218.5 752.24 L222.5 752.24 L226.5 752.24 L230.5 752.22 L234.5 752.21 L238.5 752.18 L242.5 752.15 L246.5 752.12 L250.5 752.08 L254.5 752.04 L258.5 752 L262.5 751.95 L266.5 751.9 L270.5 751.85 L274.5 751.8 L278.5 751.74 L282.5 751.69 L286.5 751.64 L290.5 751.58 L294.5 751.53 L298.5 751.49 L302.5 751.44 L306.5 751.39 L310.5 751.35 L314.5 751.31 L318.5 751.27 L322.5 751.24 L326.5 751.2 L330.5 751.17 L334.5 751.15 L338.5 751.12 L342.5 751.1 L346.5 751.08 L350.5 751.06 L354.5 751.05 L358.5 751.03 L362.5 751.02 L366.5 751.01 L370.5 751 L374.5 750.99 L378.5 750.99 L382.5 750.98 L386.5 750.97 L390.5 750.97 L394.5 750.97 L398.5 750.96 L402.5 750.96 L406.5 750.96 L410.5 750.96 L414.5 750.96M26.5 755.71 L30.5 755.71 L34.5 755.71 L38.5 755.71 L42.5 755.72 L46.5 755.72 L50.5 755.72 L54.5 755.73 L58.5 755.73 L62.5 755.74 L66.5 755.75 L70.5 755.76 L74.5 755.76 L78.5 755.78 L82.5 755.79 L86.5 755.8 L90.5 755.82 L94.5 755.83 L98.5 755.85 L102.5 755.87 L106.5 755.9 L110.5 755.92 L114.5 755.95 L118.5 755.98 L122.5 756.01 L126.5 756.04 L130.5 756.08 L134.5 756.11 L138.5 756.15 L142.5 756.19 L146.5 756.24 L150.5 756.28 L154.5 756.32 L158.5 756.37 L162.5 756.41 L166.5 756.45 L170.5 756.5 L174.5 756.54 L178.5 756.58 L182.5 756.62 L186.5 756.65 L190.5 756.68 L194.5 756.71 L198.5 756.74 L202.5 756.76 L206.5 756.78 L210.5 756.79 L214.5 756.8 L218.5 756.8 L222.5 756.8 L226.5 756.8 L230.5 756.79 L234.5 756.77 L238.5 756.76 L242.5 756.73 L246.5 756.71 L250.5 756.68 L254.5 756.64 L258.5 756.61 L262.5 756.57 L266.5 756.53 L270.5 756.49 L274.5 756.44 L278.5 756.4 L282.5 756.35 L286.5 756.31 L290.5 756.27 L294.5 756.23 L298.5 756.18 L302.5 756.14 L306.5 756.11 L310.5 756.07 L314.5 756.03 L318.5 756 L322.5 755.97 L326.5 755.94 L330.5 755.92 L334.5 755.89 L338.5 755.87 L342.5 755.85 L346.5 755.83 L350.5 755.81 L354.5 755.8 L358.5 755.78 L362.5 755.77 L366.5 755.76 L370.5 755.75 L374.5 755.75 L378.5 755.74 L382.5 755.73 L386.5 755.73 L390.5 755.72 L394.5 755.72 L398.5 755.72 L402.5 755.71 L406.5 755.71 L410.5 755.71 L414.5 755.71M26.5 760.46 L30.5 760.46 L34.5 760.46 L38.5 760.47 L42.5 760.47 L46.5 760.47 L50.5 760.48 L54.5 760.48 L58.5 760.49 L62.5 760.49 L66.5 760.5 L70.5 760.51 L74.5 760.52 L78.5 760.53 L82.5 760.54 L86.5 760.55 L90.5 760.56 L94.5 760.58 L98.5 760.6 L102.5 760.62 L106.5 760.64 L110.5 760.66 L114.5 760.68 L118.5 760.71 L122.5 760.74 L126.5 760.76 L130.5 760.79 L134.5 760.83 L138.5 760.86 L142.5 760.89 L146.5 760.93 L150.5 760.96 L154.5 761 L158.5 761.04 L162.5 761.07 L166.5 761.11 L170.5 761.14 L174.5 761.18 L178.5 761.21 L182.5 761.24 L186.5 761.27 L190.5 761.3 L194.5 761.32 L198.5 761.34 L202.5 761.36 L206.5 761.37 L210.5 761.38 L214.5 761.39 L218.5 761.39 L222.5 761.39 L226.5 761.39 L230.5 761.38 L234.5 761.37 L238.5 761.35 L242.5 761.34 L246.5 761.31 L250.5 761.29 L254.5 761.26 L258.5 761.23 L262.5 761.2 L266.5 761.17 L270.5 761.13 L274.5 761.1 L278.5 761.06 L282.5 761.03 L286.5 760.99 L290.5 760.96 L294.5 760.92 L298.5 760.88 L302.5 760.85 L306.5 760.82 L310.5 760.79 L314.5 760.76 L318.5 760.73 L322.5 760.7 L326.5 760.68 L330.5 760.65 L334.5 760.63 L338.5 760.61 L342.5 760.59 L346.5 760.58 L350.5 760.56 L354.5 760.55 L358.5 760.53 L362.5 760.52 L366.5 760.51 L370.5 760.5 L374.5 760.5 L378.5 760.49 L382.5 760.48 L386.5 760.48 L390.5 760.47 L394.5 760.47 L398.5 760.47 L402.5 760.46 L406.5 760.46 L410.5 760.46 L414.5 760.46" stroke="#6470d8" stroke-width="0.9" opacity="0.82" fill="none"/><path d="M28.5 752.9H413.7" stroke="#4c6ca8" stroke-width="1.5" opacity="0.85"/></g><path d="M234.3 619 H238 L232 638.4 L226.2 652.6 L222 666.8 L219.6 674.5 L214.5 674.5 L217.2 666.8 L221.5 652.6 L227.8 638.4 Z" fill="#8c8c8e" filter="url(#sb)" opacity="0.42"/><clipPath id="bL4"><path d="M236.5 619 H297.2 L295.6 650 L292.5 662 L289.6 677.8 L291 681 C285 686 280 689 272 691 C262 695 245 699 226 702 C210 702 196 699 178 693 C168 690 160 686 155 683.5 L171.5 680.2 L216 680.2 L216 676 L218.6 674 L220.9 666.8 L225.2 652.6 L231 638.4 Z"/></clipPath><path d="M236.5 619 H297.2 L295.6 650 L292.5 662 L289.6 677.8 L291 681 C285 686 280 689 272 691 C262 695 245 699 226 702 C210 702 196 699 178 693 C168 690 160 686 155 683.5 L171.5 680.2 L216 680.2 L216 676 L218.6 674 L220.9 666.8 L225.2 652.6 L231 638.4 Z" fill="#939395" filter="url(#sb)"/><g clip-path="url(#bL4)" opacity="0.9"><path d="M29.4 620.5V755.3M32.34 620.5V755.3M35.28 620.5V755.3M38.22 620.5V755.3M41.15 620.5V755.3M44.09 620.5V755.3M47.03 620.5V755.3M49.97 620.5V755.3M52.91 620.5V755.3M55.85 620.5V755.3M58.78 620.5V755.3M61.72 620.5V755.3M64.66 620.5V755.3M67.6 620.5V755.3M70.54 620.5V755.3M73.48 620.5V755.3M76.42 620.5V755.3M79.35 620.5V755.3M82.29 620.5V755.3M85.23 620.5V755.3M88.17 620.5V755.3M91.11 620.5V755.3M94.05 620.5V755.3M96.99 620.5V755.3M99.92 620.5V755.3M102.86 620.5V755.3M105.8 620.5V755.3M108.74 620.5V755.3M111.68 620.5V755.3M114.62 620.5V755.3M117.56 620.5V755.3M120.49 620.5V755.3M123.43 620.5V755.3M126.37 620.5V755.3M129.31 620.5V755.3M132.25 620.5V755.3M135.19 620.5V755.3M138.12 620.5V755.3M141.06 620.5V755.3M144 620.5V755.3M146.94 620.5V755.3M149.88 620.5V755.3M152.82 620.5V755.3M155.76 620.5V755.3M158.69 620.5V755.3M161.63 620.5V755.3M164.57 620.5V755.3M167.51 620.5V755.3M170.45 620.5V755.3M173.39 620.5V755.3M176.33 620.5V755.3M179.26 620.5V755.3M182.2 620.5V755.3M185.14 620.5V755.3M188.08 620.5V755.3M191.02 620.5V755.3M193.96 620.5V755.3M196.89 620.5V755.3M199.83 620.5V755.3M202.77 620.5V755.3M205.71 620.5V755.3M208.65 620.5V755.3M211.59 620.5V755.3M214.53 620.5V755.3M217.46 620.5V755.3M220.4 620.5V755.3M223.34 620.5V755.3M226.28 620.5V755.3M229.22 620.5V755.3M232.16 620.5V755.3M235.1 620.5V755.3M238.03 620.5V755.3M240.97 620.5V755.3M243.91 620.5V755.3M246.85 620.5V755.3M249.79 620.5V755.3M252.73 620.5V755.3M255.66 620.5V755.3M258.6 620.5V755.3M261.54 620.5V755.3M264.48 620.5V755.3M267.42 620.5V755.3M270.36 620.5V755.3M273.3 620.5V755.3M276.23 620.5V755.3M279.17 620.5V755.3M282.11 620.5V755.3M285.05 620.5V755.3M287.99 620.5V755.3M290.93 620.5V755.3M293.87 620.5V755.3M296.8 620.5V755.3M299.74 620.5V755.3M302.68 620.5V755.3M305.62 620.5V755.3M308.56 620.5V755.3M311.5 620.5V755.3M314.43 620.5V755.3M317.37 620.5V755.3M320.31 620.5V755.3M323.25 620.5V755.3M326.19 620.5V755.3M329.13 620.5V755.3M332.07 620.5V755.3M335 620.5V755.3M337.94 620.5V755.3M340.88 620.5V755.3M343.82 620.5V755.3M346.76 620.5V755.3M349.7 620.5V755.3M352.63 620.5V755.3M355.57 620.5V755.3M358.51 620.5V755.3M361.45 620.5V755.3M364.39 620.5V755.3M367.33 620.5V755.3M370.27 620.5V755.3M373.2 620.5V755.3M376.14 620.5V755.3M379.08 620.5V755.3M382.02 620.5V755.3M384.96 620.5V755.3M387.9 620.5V755.3M390.84 620.5V755.3M393.77 620.5V755.3M396.71 620.5V755.3M399.65 620.5V755.3M402.59 620.5V755.3M405.53 620.5V755.3M408.47 620.5V755.3M411.4 620.5V755.3M28.5 622.1H413.7M28.5 625.04H413.7M28.5 627.98H413.7M28.5 630.92H413.7M28.5 633.85H413.7M28.5 636.79H413.7M28.5 639.73H413.7M28.5 642.67H413.7M28.5 645.61H413.7M28.5 648.55H413.7M28.5 651.48H413.7M28.5 654.42H413.7M28.5 657.36H413.7M28.5 660.3H413.7M28.5 663.24H413.7M28.5 666.18H413.7M28.5 669.12H413.7M28.5 672.05H413.7M28.5 674.99H413.7M28.5 677.93H413.7M28.5 680.87H413.7M28.5 683.81H413.7M28.5 686.75H413.7M28.5 689.69H413.7M28.5 692.62H413.7M28.5 695.56H413.7M28.5 698.5H413.7M28.5 701.44H413.7M28.5 704.38H413.7M28.5 707.32H413.7M28.5 710.25H413.7M28.5 713.19H413.7M28.5 716.13H413.7M28.5 719.07H413.7M28.5 722.01H413.7M28.5 724.95H413.7M28.5 727.89H413.7M28.5 730.82H413.7M28.5 733.76H413.7M28.5 736.7H413.7M28.5 739.64H413.7M28.5 742.58H413.7M28.5 745.52H413.7M28.5 748.46H413.7M28.5 751.39H413.7M28.5 754.33H413.7" stroke="#5e5e60" stroke-width="0.8" fill="none"/></g><path d="M200 677.2 H290" stroke="#505050" stroke-width="3" opacity="0.45"/><path d="M173 684.7 Q222 686 269.7 684.5" stroke="#c6d0dc" stroke-width="0.9" fill="none"/><path d="M143 682.3 C144 682.28 145.67 681.28 149 682.2 C152.33 683.12 158.13 686.02 163 687.8 C167.87 689.58 172.7 691.12 178.2 692.9 C183.7 694.68 190.5 697.02 196 698.5 C201.5 699.98 206.12 701.25 211.2 701.8 C216.28 702.35 220.98 702.23 226.5 701.8 C232.02 701.37 238.37 700.35 244.3 699.2 C250.23 698.05 256.6 696.58 262.1 694.9 C267.6 693.22 272.87 691.35 277.3 689.1 C281.73 686.85 285.58 682.87 288.7 681.4 C291.82 679.93 294.78 680.48 296 680.3 L296 679.8 L143 679.8Z" fill="#b4c4dc" opacity="0.12"/><path d="M143 682.4 C143.37 682.45 142.3 681.38 145.2 682.7 C148.1 684.02 155.32 687.97 160.4 690.3 C165.48 692.63 170.2 694.58 175.7 696.7 C181.2 698.82 187.9 701.32 193.4 703 C198.9 704.68 203.62 706.17 208.7 706.8 C213.78 707.43 218.4 707.22 223.9 706.8 C229.4 706.38 235.77 705.57 241.7 704.3 C247.63 703.03 253.57 701.1 259.5 699.2 C265.43 697.3 272.22 695.43 277.3 692.9 C282.38 690.37 287.25 686.08 290 684 C292.75 681.92 292.8 681 293.8 680.4 C294.8 679.8 295.63 680.4 296 680.4 L296 680.3 C294.78 680.48 291.82 679.93 288.7 681.4 C285.58 682.87 281.73 686.85 277.3 689.1 C272.87 691.35 267.6 693.22 262.1 694.9 C256.6 696.58 250.23 698.05 244.3 699.2 C238.37 700.35 232.02 701.37 226.5 701.8 C220.98 702.23 216.28 702.35 211.2 701.8 C206.12 701.25 201.5 699.98 196 698.5 C190.5 697.02 183.7 694.68 178.2 692.9 C172.7 691.12 167.87 689.58 163 687.8 C158.13 686.02 152.33 683.12 149 682.2 C145.67 681.28 144 682.28 143 682.3Z" fill="#8cb4d8" stroke="#8cb4d8" stroke-width="0.5"/><clipPath id="crb3"><path d="M143 682.4 C143.37 682.45 142.3 681.38 145.2 682.7 C148.1 684.02 155.32 687.97 160.4 690.3 C165.48 692.63 170.2 694.58 175.7 696.7 C181.2 698.82 187.9 701.32 193.4 703 C198.9 704.68 203.62 706.17 208.7 706.8 C213.78 707.43 218.4 707.22 223.9 706.8 C229.4 706.38 235.77 705.57 241.7 704.3 C247.63 703.03 253.57 701.1 259.5 699.2 C265.43 697.3 272.22 695.43 277.3 692.9 C282.38 690.37 287.25 686.08 290 684 C292.75 681.92 292.8 681 293.8 680.4 C294.8 679.8 295.63 680.4 296 680.4 L296 680.3 C294.78 680.48 291.82 679.93 288.7 681.4 C285.58 682.87 281.73 686.85 277.3 689.1 C272.87 691.35 267.6 693.22 262.1 694.9 C256.6 696.58 250.23 698.05 244.3 699.2 C238.37 700.35 232.02 701.37 226.5 701.8 C220.98 702.23 216.28 702.35 211.2 701.8 C206.12 701.25 201.5 699.98 196 698.5 C190.5 697.02 183.7 694.68 178.2 692.9 C172.7 691.12 167.87 689.58 163 687.8 C158.13 686.02 152.33 683.12 149 682.2 C145.67 681.28 144 682.28 143 682.3Z"/></clipPath><g clip-path="url(#crb3)" opacity="0.35"><path d="M29.4 620.5V755.3M32.34 620.5V755.3M35.28 620.5V755.3M38.22 620.5V755.3M41.15 620.5V755.3M44.09 620.5V755.3M47.03 620.5V755.3M49.97 620.5V755.3M52.91 620.5V755.3M55.85 620.5V755.3M58.78 620.5V755.3M61.72 620.5V755.3M64.66 620.5V755.3M67.6 620.5V755.3M70.54 620.5V755.3M73.48 620.5V755.3M76.42 620.5V755.3M79.35 620.5V755.3M82.29 620.5V755.3M85.23 620.5V755.3M88.17 620.5V755.3M91.11 620.5V755.3M94.05 620.5V755.3M96.99 620.5V755.3M99.92 620.5V755.3M102.86 620.5V755.3M105.8 620.5V755.3M108.74 620.5V755.3M111.68 620.5V755.3M114.62 620.5V755.3M117.56 620.5V755.3M120.49 620.5V755.3M123.43 620.5V755.3M126.37 620.5V755.3M129.31 620.5V755.3M132.25 620.5V755.3M135.19 620.5V755.3M138.12 620.5V755.3M141.06 620.5V755.3M144 620.5V755.3M146.94 620.5V755.3M149.88 620.5V755.3M152.82 620.5V755.3M155.76 620.5V755.3M158.69 620.5V755.3M161.63 620.5V755.3M164.57 620.5V755.3M167.51 620.5V755.3M170.45 620.5V755.3M173.39 620.5V755.3M176.33 620.5V755.3M179.26 620.5V755.3M182.2 620.5V755.3M185.14 620.5V755.3M188.08 620.5V755.3M191.02 620.5V755.3M193.96 620.5V755.3M196.89 620.5V755.3M199.83 620.5V755.3M202.77 620.5V755.3M205.71 620.5V755.3M208.65 620.5V755.3M211.59 620.5V755.3M214.53 620.5V755.3M217.46 620.5V755.3M220.4 620.5V755.3M223.34 620.5V755.3M226.28 620.5V755.3M229.22 620.5V755.3M232.16 620.5V755.3M235.1 620.5V755.3M238.03 620.5V755.3M240.97 620.5V755.3M243.91 620.5V755.3M246.85 620.5V755.3M249.79 620.5V755.3M252.73 620.5V755.3M255.66 620.5V755.3M258.6 620.5V755.3M261.54 620.5V755.3M264.48 620.5V755.3M267.42 620.5V755.3M270.36 620.5V755.3M273.3 620.5V755.3M276.23 620.5V755.3M279.17 620.5V755.3M282.11 620.5V755.3M285.05 620.5V755.3M287.99 620.5V755.3M290.93 620.5V755.3M293.87 620.5V755.3M296.8 620.5V755.3M299.74 620.5V755.3M302.68 620.5V755.3M305.62 620.5V755.3M308.56 620.5V755.3M311.5 620.5V755.3M314.43 620.5V755.3M317.37 620.5V755.3M320.31 620.5V755.3M323.25 620.5V755.3M326.19 620.5V755.3M329.13 620.5V755.3M332.07 620.5V755.3M335 620.5V755.3M337.94 620.5V755.3M340.88 620.5V755.3M343.82 620.5V755.3M346.76 620.5V755.3M349.7 620.5V755.3M352.63 620.5V755.3M355.57 620.5V755.3M358.51 620.5V755.3M361.45 620.5V755.3M364.39 620.5V755.3M367.33 620.5V755.3M370.27 620.5V755.3M373.2 620.5V755.3M376.14 620.5V755.3M379.08 620.5V755.3M382.02 620.5V755.3M384.96 620.5V755.3M387.9 620.5V755.3M390.84 620.5V755.3M393.77 620.5V755.3M396.71 620.5V755.3M399.65 620.5V755.3M402.59 620.5V755.3M405.53 620.5V755.3M408.47 620.5V755.3M411.4 620.5V755.3M28.5 622.1H413.7M28.5 625.04H413.7M28.5 627.98H413.7M28.5 630.92H413.7M28.5 633.85H413.7M28.5 636.79H413.7M28.5 639.73H413.7M28.5 642.67H413.7M28.5 645.61H413.7M28.5 648.55H413.7M28.5 651.48H413.7M28.5 654.42H413.7M28.5 657.36H413.7M28.5 660.3H413.7M28.5 663.24H413.7M28.5 666.18H413.7M28.5 669.12H413.7M28.5 672.05H413.7M28.5 674.99H413.7M28.5 677.93H413.7M28.5 680.87H413.7M28.5 683.81H413.7M28.5 686.75H413.7M28.5 689.69H413.7M28.5 692.62H413.7M28.5 695.56H413.7M28.5 698.5H413.7M28.5 701.44H413.7M28.5 704.38H413.7M28.5 707.32H413.7M28.5 710.25H413.7M28.5 713.19H413.7M28.5 716.13H413.7M28.5 719.07H413.7M28.5 722.01H413.7M28.5 724.95H413.7M28.5 727.89H413.7M28.5 730.82H413.7M28.5 733.76H413.7M28.5 736.7H413.7M28.5 739.64H413.7M28.5 742.58H413.7M28.5 745.52H413.7M28.5 748.46H413.7M28.5 751.39H413.7M28.5 754.33H413.7" stroke="#7a8aa0" stroke-width="0.75" fill="none"/></g><path d="M143 682.3 C144 682.28 145.67 681.28 149 682.2 C152.33 683.12 158.13 686.02 163 687.8 C167.87 689.58 172.7 691.12 178.2 692.9 C183.7 694.68 190.5 697.02 196 698.5 C201.5 699.98 206.12 701.25 211.2 701.8 C216.28 702.35 220.98 702.23 226.5 701.8 C232.02 701.37 238.37 700.35 244.3 699.2 C250.23 698.05 256.6 696.58 262.1 694.9 C267.6 693.22 272.87 691.35 277.3 689.1 C281.73 686.85 285.58 682.87 288.7 681.4 C291.82 679.93 294.78 680.48 296 680.3" fill="none" stroke="#6c88b0" stroke-width="0.6" opacity="0.7"/><path d="M143 682.4 C143.37 682.45 142.3 681.38 145.2 682.7 C148.1 684.02 155.32 687.97 160.4 690.3 C165.48 692.63 170.2 694.58 175.7 696.7 C181.2 698.82 187.9 701.32 193.4 703 C198.9 704.68 203.62 706.17 208.7 706.8 C213.78 707.43 218.4 707.22 223.9 706.8 C229.4 706.38 235.77 705.57 241.7 704.3 C247.63 703.03 253.57 701.1 259.5 699.2 C265.43 697.3 272.22 695.43 277.3 692.9 C282.38 690.37 287.25 686.08 290 684 C292.75 681.92 292.8 681 293.8 680.4 C294.8 679.8 295.63 680.4 296 680.4" fill="none" stroke="#3a5890" stroke-width="0.9"/><path d="M28.5 679.6H172" stroke="#7070e0" stroke-width="0.6" opacity="0.6"/><path d="M27.5 684.55 L31 684.55 L34.5 681.75 L145 681.75" fill="none" stroke="#b8def6" stroke-width="1" transform="translate(0,-1.85)"/><path d="M27.5 684.55 L31 684.55 L34.5 681.75 L145 681.75" fill="none" stroke="#4a8cc6" stroke-width="2.9" stroke-linejoin="round"/><path d="M27.5 684.55 L31 684.55 L34.5 681.75 L145 681.75" fill="none" stroke="#28508c" stroke-width="0.8" transform="translate(0,1.15)"/><path d="M27.5 684.55 L31 684.55 L34.5 681.75 L145 681.75" fill="none" stroke="#33449a" stroke-width="1.3" opacity="0.9" transform="translate(0,3.35)"/><path d="M295 680.4 L414.7 681.75" fill="none" stroke="#b8def6" stroke-width="1" transform="translate(0,-1.85)"/><path d="M295 680.4 L414.7 681.75" fill="none" stroke="#4a8cc6" stroke-width="2.9" stroke-linejoin="round"/><path d="M295 680.4 L414.7 681.75" fill="none" stroke="#28508c" stroke-width="0.8" transform="translate(0,1.15)"/><path d="M295 680.4 L414.7 681.75" fill="none" stroke="#33449a" stroke-width="1.3" opacity="0.9" transform="translate(0,3.35)"/><path d="M243.6 626.5 Q238 655 232 672.6M260 626.5 Q254 655 249.3 669.3 Q246 677 244.4 682.4M277.3 626.5 Q270 655 265.8 669.3 Q261 678 257.6 684M292.9 628 Q290 650 285.5 666 Q283 674 282.2 680.8" stroke="#e07840" stroke-width="0.6" opacity="0.5" fill="none"/><polygon points="232.00,642.10 227.45,644.18 227.45,640.02" fill="#f0281e"/><polygon points="286.30,661.50 284.22,656.95 288.38,656.95" fill="#f05020"/><polygon points="211.20,680.20 215.75,678.12 215.75,682.28" fill="#f0c020"/><polygon points="190.80,688.10 186.25,690.18 186.25,686.02" fill="#f07020"/><polygon points="223.50,689.50 218.95,691.58 218.95,687.42" fill="#f07020"/><polygon points="246.80,690.40 242.25,692.48 242.25,688.32" fill="#f07020"/><polygon points="255.00,692.10 257.08,696.65 252.92,696.65" fill="#f0281e"/><polygon points="175.90,693.20 180.10,691.28 180.10,695.12" fill="#1a22f0"/><polygon points="190.10,694.70 194.30,692.78 194.30,696.62" fill="#1a22f0"/><polygon points="233.30,693.20 237.50,691.28 237.50,695.12" fill="#1a22f0"/><polygon points="261.10,696.60 265.30,694.68 265.30,698.52" fill="#1a22f0"/><polygon points="271.10,681.90 275.30,679.98 275.30,683.82" fill="#1a22f0"/><polygon points="277.60,679.00 281.80,677.08 281.80,680.92" fill="#1a22f0"/><polygon points="219.10,703.20 223.30,701.28 223.30,705.12" fill="#1a22f0"/><polygon points="268.80,702.90 273.00,700.98 273.00,704.82" fill="#1a22f0"/><polygon points="158.85,700.30 163.05,698.38 163.05,702.22" fill="#1a22f0"/><polygon points="244.10,715.10 248.30,713.18 248.30,717.02" fill="#1a22f0"/><polygon points="267.60,715.10 271.80,713.18 271.80,717.02" fill="#1a22f0"/><polygon points="86.00,690.10 90.20,688.18 90.20,692.02" fill="#1a22f0"/><polygon points="101.80,699.70 106.00,697.78 106.00,701.62" fill="#1a22f0"/><polygon points="69.80,703.30 74.00,701.38 74.00,705.22" fill="#1a22f0"/><polygon points="69.80,712.80 74.00,710.88 74.00,714.72" fill="#1a22f0"/><polygon points="86.00,723.00 90.20,721.08 90.20,724.92" fill="#1a22f0"/><polygon points="86.00,732.60 90.20,730.68 90.20,734.52" fill="#1a22f0"/><polygon points="86.00,742.10 90.20,740.18 90.20,744.02" fill="#1a22f0"/><polygon points="69.80,751.40 74.00,749.48 74.00,753.32" fill="#1a22f0"/><polygon points="158.60,700.30 162.80,698.38 162.80,702.22" fill="#1a22f0"/><polygon points="175.60,693.40 179.80,691.48 179.80,695.32" fill="#1a22f0"/><polygon points="190.00,694.90 194.20,692.98 194.20,696.82" fill="#1a22f0"/><polygon points="276.90,679.30 281.10,677.38 281.10,681.22" fill="#1a22f0"/><polygon points="270.90,682.00 275.10,680.08 275.10,683.92" fill="#1a22f0"/><polygon points="260.40,697.00 264.60,695.08 264.60,698.92" fill="#1a22f0"/><polygon points="232.90,694.00 237.10,692.08 237.10,695.92" fill="#1a22f0"/><polygon points="219.20,703.30 223.40,701.38 223.40,705.22" fill="#1a22f0"/><polygon points="268.80,703.00 273.00,701.08 273.00,704.92" fill="#1a22f0"/><polygon points="243.40,715.20 247.60,713.28 247.60,717.12" fill="#1a22f0"/><polygon points="267.30,715.20 271.50,713.28 271.50,717.12" fill="#1a22f0"/><polygon points="264.30,724.20 268.50,722.28 268.50,726.12" fill="#1a22f0"/><polygon points="270.90,732.00 275.10,730.08 275.10,733.92" fill="#1a22f0"/><polygon points="272.40,740.90 276.60,738.98 276.60,742.82" fill="#1a22f0"/><polygon points="274.80,750.20 279.00,748.28 279.00,752.12" fill="#1a22f0"/><polygon points="405.40,688.00 409.60,686.08 409.60,689.92" fill="#1a22f0"/><polygon points="405.40,697.30 409.60,695.38 409.60,699.22" fill="#1a22f0"/><polygon points="405.40,702.40 409.60,700.48 409.60,704.32" fill="#1a22f0"/><polygon points="405.40,712.20 409.60,710.28 409.60,714.12" fill="#1a22f0"/><polygon points="389.00,721.80 393.20,719.88 393.20,723.72" fill="#1a22f0"/><polygon points="389.00,731.40 393.20,729.48 393.20,733.32" fill="#1a22f0"/><polygon points="405.40,739.70 409.60,737.78 409.60,741.62" fill="#1a22f0"/><polygon points="398.60,749.30 402.80,747.38 402.80,751.22" fill="#1a22f0"/></g><rect x="28.5" y="620.5" width="385.2" height="134.8" fill="none" stroke="#262626" stroke-width="0.8"/><path d="M28.5 620.5H413.7" stroke="#7a7a7a" stroke-width="1.5"/><path d="M25.2 623.44H28.5" stroke="#262626" stroke-width="0.8"/><text x="22.8" y="627.14" font-size="10.15" text-anchor="end" fill="#262626" stroke="#262626" stroke-width="0.2" textLength="11.13" lengthAdjust="spacingAndGlyphs">10</text><path d="M25.2 652.82H28.5" stroke="#262626" stroke-width="0.8"/><text x="22.8" y="656.52" font-size="10.15" text-anchor="end" fill="#262626" stroke="#262626" stroke-width="0.2" textLength="5.57" lengthAdjust="spacingAndGlyphs">5</text><path d="M25.2 682.21H28.5" stroke="#262626" stroke-width="0.8"/><text x="22.8" y="685.91" font-size="10.15" text-anchor="end" fill="#262626" stroke="#262626" stroke-width="0.2" textLength="5.57" lengthAdjust="spacingAndGlyphs">0</text><path d="M25.2 711.59H28.5" stroke="#262626" stroke-width="0.8"/><text x="22.8" y="715.29" font-size="10.15" text-anchor="end" fill="#262626" stroke="#262626" stroke-width="0.2" textLength="12.9" lengthAdjust="spacingAndGlyphs">−5</text><path d="M25.2 740.98H28.5" stroke="#262626" stroke-width="0.8"/><text x="22.8" y="744.68" font-size="10.15" text-anchor="end" fill="#262626" stroke="#262626" stroke-width="0.2" textLength="18.46" lengthAdjust="spacingAndGlyphs">−10</text><path d="M31.44 755.3V758.6" stroke="#262626" stroke-width="0.8"/><text x="31.44" y="769.1" font-size="10.15" text-anchor="middle" fill="#262626" stroke="#262626" stroke-width="0.2" textLength="18.46" lengthAdjust="spacingAndGlyphs">−40</text><path d="M90.21 755.3V758.6" stroke="#262626" stroke-width="0.8"/><text x="90.21" y="769.1" font-size="10.15" text-anchor="middle" fill="#262626" stroke="#262626" stroke-width="0.2" textLength="18.46" lengthAdjust="spacingAndGlyphs">−30</text><path d="M148.98 755.3V758.6" stroke="#262626" stroke-width="0.8"/><text x="148.98" y="769.1" font-size="10.15" text-anchor="middle" fill="#262626" stroke="#262626" stroke-width="0.2" textLength="18.46" lengthAdjust="spacingAndGlyphs">−20</text><path d="M207.75 755.3V758.6" stroke="#262626" stroke-width="0.8"/><text x="207.75" y="769.1" font-size="10.15" text-anchor="middle" fill="#262626" stroke="#262626" stroke-width="0.2" textLength="18.46" lengthAdjust="spacingAndGlyphs">−10</text><path d="M266.52 755.3V758.6" stroke="#262626" stroke-width="0.8"/><text x="266.52" y="769.1" font-size="10.15" text-anchor="middle" fill="#262626" stroke="#262626" stroke-width="0.2" textLength="5.57" lengthAdjust="spacingAndGlyphs">0</text><path d="M325.29 755.3V758.6" stroke="#262626" stroke-width="0.8"/><text x="325.29" y="769.1" font-size="10.15" text-anchor="middle" fill="#262626" stroke="#262626" stroke-width="0.2" textLength="11.13" lengthAdjust="spacingAndGlyphs">10</text><path d="M384.06 755.3V758.6" stroke="#262626" stroke-width="0.8"/><text x="384.06" y="769.1" font-size="10.15" text-anchor="middle" fill="#262626" stroke="#262626" stroke-width="0.2" textLength="11.13" lengthAdjust="spacingAndGlyphs">20</text><clipPath id="cR4"><rect x="452.5" y="620.5" width="193.8" height="134.8"/></clipPath><g clip-path="url(#cR4)"><rect x="452.5" y="620.5" width="193.8" height="134.8" fill="#fff"/><path d="M453.4 620.5V755.3M456.34 620.5V755.3M459.28 620.5V755.3M462.22 620.5V755.3M465.15 620.5V755.3M468.09 620.5V755.3M471.03 620.5V755.3M473.97 620.5V755.3M476.91 620.5V755.3M479.85 620.5V755.3M482.78 620.5V755.3M485.72 620.5V755.3M488.66 620.5V755.3M491.6 620.5V755.3M494.54 620.5V755.3M497.48 620.5V755.3M500.42 620.5V755.3M503.35 620.5V755.3M506.29 620.5V755.3M509.23 620.5V755.3M512.17 620.5V755.3M515.11 620.5V755.3M518.05 620.5V755.3M520.99 620.5V755.3M523.92 620.5V755.3M526.86 620.5V755.3M529.8 620.5V755.3M532.74 620.5V755.3M535.68 620.5V755.3M538.62 620.5V755.3M541.55 620.5V755.3M544.49 620.5V755.3M547.43 620.5V755.3M550.37 620.5V755.3M553.31 620.5V755.3M556.25 620.5V755.3M559.19 620.5V755.3M562.12 620.5V755.3M565.06 620.5V755.3M568 620.5V755.3M570.94 620.5V755.3M573.88 620.5V755.3M576.82 620.5V755.3M579.76 620.5V755.3M582.69 620.5V755.3M585.63 620.5V755.3M588.57 620.5V755.3M591.51 620.5V755.3M594.45 620.5V755.3M597.39 620.5V755.3M600.32 620.5V755.3M603.26 620.5V755.3M606.2 620.5V755.3M609.14 620.5V755.3M612.08 620.5V755.3M615.02 620.5V755.3M617.96 620.5V755.3M620.89 620.5V755.3M623.83 620.5V755.3M626.77 620.5V755.3M629.71 620.5V755.3M632.65 620.5V755.3M635.59 620.5V755.3M638.53 620.5V755.3M641.46 620.5V755.3M644.4 620.5V755.3M452.5 622.1H646.3M452.5 625.04H646.3M452.5 627.98H646.3M452.5 630.92H646.3M452.5 633.85H646.3M452.5 636.79H646.3M452.5 639.73H646.3M452.5 642.67H646.3M452.5 645.61H646.3M452.5 648.55H646.3M452.5 651.48H646.3M452.5 654.42H646.3M452.5 657.36H646.3M452.5 660.3H646.3M452.5 663.24H646.3M452.5 666.18H646.3M452.5 669.12H646.3M452.5 672.05H646.3M452.5 674.99H646.3M452.5 677.93H646.3M452.5 680.87H646.3M452.5 683.81H646.3M452.5 686.75H646.3M452.5 689.69H646.3M452.5 692.62H646.3M452.5 695.56H646.3M452.5 698.5H646.3M452.5 701.44H646.3M452.5 704.38H646.3M452.5 707.32H646.3M452.5 710.25H646.3M452.5 713.19H646.3M452.5 716.13H646.3M452.5 719.07H646.3M452.5 722.01H646.3M452.5 724.95H646.3M452.5 727.89H646.3M452.5 730.82H646.3M452.5 733.76H646.3M452.5 736.7H646.3M452.5 739.64H646.3M452.5 742.58H646.3M452.5 745.52H646.3M452.5 748.46H646.3M452.5 751.39H646.3M452.5 754.33H646.3" stroke="#c4c4c4" stroke-width="0.75" fill="none"/><clipPath id="wR4"><path d="M451.5 684.55 L455 684.55 L458.5 681.75 L499 681 L501 681.5 L510 686.5 L519.7 692.1 L530 694.8 L544.3 696.3 L560 696 L572.3 694.6 L582 691 L587.1 688 L592 684 L597 681.4 L599 681 L640.3 681.75 L643.8 684.55 L647.3 684.55 L647.3 756.3 L451.5 756.3Z"/></clipPath><path d="M451.5 684.55 L455 684.55 L458.5 681.75 L499 681 L501 681.5 L510 686.5 L519.7 692.1 L530 694.8 L544.3 696.3 L560 696 L572.3 694.6 L582 691 L587.1 688 L592 684 L597 681.4 L599 681 L640.3 681.75 L643.8 684.55 L647.3 684.55 L647.3 756.3 L451.5 756.3Z" fill="#93a3ba"/><g clip-path="url(#wR4)"><path d="M453.4 620.5V755.3M456.34 620.5V755.3M459.28 620.5V755.3M462.22 620.5V755.3M465.15 620.5V755.3M468.09 620.5V755.3M471.03 620.5V755.3M473.97 620.5V755.3M476.91 620.5V755.3M479.85 620.5V755.3M482.78 620.5V755.3M485.72 620.5V755.3M488.66 620.5V755.3M491.6 620.5V755.3M494.54 620.5V755.3M497.48 620.5V755.3M500.42 620.5V755.3M503.35 620.5V755.3M506.29 620.5V755.3M509.23 620.5V755.3M512.17 620.5V755.3M515.11 620.5V755.3M518.05 620.5V755.3M520.99 620.5V755.3M523.92 620.5V755.3M526.86 620.5V755.3M529.8 620.5V755.3M532.74 620.5V755.3M535.68 620.5V755.3M538.62 620.5V755.3M541.55 620.5V755.3M544.49 620.5V755.3M547.43 620.5V755.3M550.37 620.5V755.3M553.31 620.5V755.3M556.25 620.5V755.3M559.19 620.5V755.3M562.12 620.5V755.3M565.06 620.5V755.3M568 620.5V755.3M570.94 620.5V755.3M573.88 620.5V755.3M576.82 620.5V755.3M579.76 620.5V755.3M582.69 620.5V755.3M585.63 620.5V755.3M588.57 620.5V755.3M591.51 620.5V755.3M594.45 620.5V755.3M597.39 620.5V755.3M600.32 620.5V755.3M603.26 620.5V755.3M606.2 620.5V755.3M609.14 620.5V755.3M612.08 620.5V755.3M615.02 620.5V755.3M617.96 620.5V755.3M620.89 620.5V755.3M623.83 620.5V755.3M626.77 620.5V755.3M629.71 620.5V755.3M632.65 620.5V755.3M635.59 620.5V755.3M638.53 620.5V755.3M641.46 620.5V755.3M644.4 620.5V755.3M452.5 622.1H646.3M452.5 625.04H646.3M452.5 627.98H646.3M452.5 630.92H646.3M452.5 633.85H646.3M452.5 636.79H646.3M452.5 639.73H646.3M452.5 642.67H646.3M452.5 645.61H646.3M452.5 648.55H646.3M452.5 651.48H646.3M452.5 654.42H646.3M452.5 657.36H646.3M452.5 660.3H646.3M452.5 663.24H646.3M452.5 666.18H646.3M452.5 669.12H646.3M452.5 672.05H646.3M452.5 674.99H646.3M452.5 677.93H646.3M452.5 680.87H646.3M452.5 683.81H646.3M452.5 686.75H646.3M452.5 689.69H646.3M452.5 692.62H646.3M452.5 695.56H646.3M452.5 698.5H646.3M452.5 701.44H646.3M452.5 704.38H646.3M452.5 707.32H646.3M452.5 710.25H646.3M452.5 713.19H646.3M452.5 716.13H646.3M452.5 719.07H646.3M452.5 722.01H646.3M452.5 724.95H646.3M452.5 727.89H646.3M452.5 730.82H646.3M452.5 733.76H646.3M452.5 736.7H646.3M452.5 739.64H646.3M452.5 742.58H646.3M452.5 745.52H646.3M452.5 748.46H646.3M452.5 751.39H646.3M452.5 754.33H646.3" stroke="#aab0be" stroke-width="0.75" fill="none"/><path d="M499 681.5 L494.5 681.38 L490 681.28 L485.5 681.18 L481.01 681.07 L476.51 680.95 L472.01 680.81 L467.51 680.63 L463.02 680.4 L458.53 680.07 L454.06 679.55 L454.06 679.55M502.45 682.8 L498.13 684.07 L493.72 684.96 L489.3 685.78 L484.87 686.6 L480.46 687.48 L476.07 688.48 L471.73 689.66 L467.46 691.09 L463.34 692.88 L459.47 695.16 L456.01 698.04 L453.13 701.49 L450.82 705.35 L448.98 709.45 L448.98 709.45M505.9 684.72 L503.91 688.66 L500.6 691.7 L497.02 694.42 L493.37 697.06 L489.74 699.73 L486.2 702.5 L482.79 705.44 L479.56 708.56 L476.53 711.89 L473.74 715.43 L471.2 719.14 L468.9 723.01 L466.83 727 L464.95 731.09 L463.23 735.25 L461.65 739.46 L460.18 743.71 L458.79 747.99 L457.48 752.3 L456.21 756.61 L455.39 759.5M509.34 686.64 L506.43 690.06 L503.34 693.34 L500.07 696.43 L496.73 699.44 L493.4 702.47 L490.15 705.58 L487.02 708.81 L484.04 712.18 L481.25 715.71 L478.65 719.39 L476.27 723.2 L474.08 727.14 L472.08 731.17 L470.25 735.28 L468.56 739.45 L467 743.67 L465.53 747.92 L464.15 752.2 L462.83 756.51 L461.99 759.39M512.79 688.61 L509.29 691.39 L506.32 694.77 L503.31 698.12 L500.26 701.43 L497.22 704.74 L494.25 708.12 L491.37 711.58 L488.64 715.15 L486.05 718.84 L483.64 722.64 L481.4 726.54 L479.33 730.54 L477.42 734.61 L475.66 738.75 L474.02 742.94 L472.49 747.17 L471.05 751.44 L469.69 755.73 L468.82 758.6M516.24 690.6 L514.71 694.8 L512.38 698.65 L509.94 702.43 L507.48 706.2 L505.05 709.98 L502.67 713.8 L500.36 717.67 L498.16 721.59 L496.07 725.57 L494.09 729.62 L492.24 733.72 L490.5 737.87 L488.87 742.06 L487.34 746.29 L485.91 750.56 L484.55 754.85 L483.27 759.16 L483.27 759.16M519.69 692.59 L517.68 696.62 L515.54 700.58 L513.36 704.52 L511.18 708.45 L509.03 712.4 L506.92 716.38 L504.88 720.39 L502.93 724.45 L501.07 728.54 L499.31 732.68 L497.64 736.87 L496.08 741.08 L494.6 745.34 L493.22 749.62 L491.9 753.92 L490.66 758.25 L490.26 759.69M523.14 693.5 L520.54 697.15 L518.51 701.17 L516.52 705.2 L514.54 709.24 L512.58 713.29 L510.67 717.37 L508.81 721.47 L507.03 725.6 L505.32 729.76 L503.71 733.96 L502.17 738.19 L500.73 742.45 L499.36 746.74 L498.07 751.05 L496.84 755.38 L495.68 759.73 L495.68 759.73M526.59 694.41 L525.28 698.71 L523.69 702.92 L522.08 707.12 L520.48 711.32 L518.89 715.54 L517.35 719.76 L515.84 724 L514.39 728.26 L513 732.54 L511.68 736.84 L510.41 741.16 L509.22 745.5 L508.08 749.85 L507 754.22 L505.98 758.6 L505.98 758.6M530.03 695.3 L529.33 699.74 L528.11 704.07 L526.82 708.38 L525.52 712.69 L524.24 717 L522.98 721.32 L521.76 725.65 L520.58 729.99 L519.44 734.35 L518.36 738.72 L517.32 743.09 L516.33 747.49 L515.4 751.89 L514.5 756.3 L513.93 759.24M533.48 695.67 L531.95 699.88 L530.81 704.24 L529.69 708.59 L528.56 712.95 L527.45 717.31 L526.35 721.68 L525.29 726.05 L524.26 730.43 L523.27 734.82 L522.32 739.22 L521.41 743.62 L520.54 748.04 L519.72 752.46 L518.93 756.89 L518.68 758.37M536.93 696.03 L535.65 700.34 L534.74 704.74 L533.86 709.15 L532.98 713.57 L532.11 717.98 L531.25 722.4 L530.42 726.82 L529.62 731.25 L528.84 735.68 L528.1 740.12 L527.38 744.56 L526.7 749.01 L526.05 753.47 L525.43 757.92 L525.23 759.41M540.38 696.39 L540.68 700.85 L540.23 705.33 L539.7 709.8 L539.17 714.26 L538.64 718.73 L538.12 723.2 L537.61 727.67 L537.12 732.15 L536.65 736.62 L536.19 741.1 L535.76 745.58 L535.34 750.06 L534.94 754.54 L534.56 759.02 L534.56 759.02M543.83 696.75 L543.31 701.22 L542.94 705.7 L542.57 710.19 L542.19 714.67 L541.83 719.16 L541.47 723.64 L541.12 728.13 L540.78 732.62 L540.46 737.11 L540.14 741.59 L539.85 746.08 L539.56 750.58 L539.29 755.07 L539.03 759.56 L539.03 759.56M547.28 696.74 L546.32 701.12 L546.06 705.61 L545.87 710.1 L545.68 714.6 L545.5 719.1 L545.32 723.59 L545.15 728.09 L544.99 732.59 L544.83 737.08 L544.68 741.58 L544.53 746.08 L544.4 750.58 L544.27 755.08 L544.14 759.57 L544.14 759.57M550.72 696.68 L551.71 701.04 L551.94 705.53 L552.11 710.03 L552.28 714.53 L552.46 719.02 L552.63 723.52 L552.8 728.02 L552.96 732.52 L553.13 737.01 L553.29 741.51 L553.44 746.01 L553.59 750.5 L553.73 755 L553.87 759.5 L553.87 759.5M554.17 696.61 L554.65 701.08 L554.99 705.57 L555.33 710.06 L555.68 714.54 L556.03 719.03 L556.39 723.52 L556.73 728 L557.07 732.49 L557.4 736.98 L557.71 741.47 L558.02 745.96 L558.31 750.45 L558.59 754.94 L558.87 759.43 L558.87 759.43M557.62 696.55 L557.21 700.99 L557.62 705.47 L558.11 709.95 L558.62 714.42 L559.14 718.89 L559.64 723.36 L560.14 727.83 L560.63 732.31 L561.1 736.78 L561.56 741.26 L561.99 745.74 L562.41 750.22 L562.81 754.7 L563.2 759.18 L563.2 759.18M561.07 696.38 L562.34 700.69 L563.24 705.1 L564.1 709.52 L564.96 713.93 L565.82 718.35 L566.67 722.77 L567.5 727.19 L568.31 731.62 L569.09 736.05 L569.84 740.49 L570.56 744.93 L571.25 749.37 L571.91 753.83 L572.54 758.28 L572.74 759.77M564.52 695.99 L566.03 700.21 L567.13 704.57 L568.23 708.93 L569.35 713.29 L570.46 717.66 L571.55 722.02 L572.62 726.39 L573.65 730.77 L574.65 735.16 L575.61 739.56 L576.52 743.96 L577.4 748.38 L578.23 752.8 L579.03 757.23 L579.29 758.71M567.97 695.59 L568.51 700.04 L569.69 704.39 L570.95 708.7 L572.24 713.02 L573.51 717.33 L574.76 721.66 L575.98 725.99 L577.16 730.33 L578.29 734.68 L579.38 739.05 L580.42 743.43 L581.41 747.82 L582.36 752.22 L583.26 756.63 L583.83 759.57M571.41 695.2 L572.73 699.5 L574.31 703.71 L575.91 707.92 L577.51 712.12 L579.09 716.34 L580.64 720.56 L582.14 724.81 L583.59 729.07 L584.98 733.35 L586.3 737.65 L587.57 741.96 L588.77 746.3 L589.91 750.65 L590.99 755.02 L592.03 759.4 L592.03 759.4M574.86 694.15 L577.49 697.77 L579.54 701.78 L581.54 705.81 L583.54 709.84 L585.5 713.89 L587.43 717.96 L589.29 722.05 L591.09 726.18 L592.8 730.34 L594.43 734.53 L595.98 738.76 L597.44 743.02 L598.82 747.3 L600.13 751.61 L601.36 755.93 L602.15 758.83M578.31 692.87 L580.24 696.93 L582.37 700.89 L584.57 704.82 L586.78 708.75 L588.95 712.68 L591.08 716.65 L593.14 720.65 L595.11 724.7 L596.99 728.78 L598.78 732.91 L600.46 737.09 L602.05 741.3 L603.54 745.54 L604.96 749.81 L606.29 754.11 L607.55 758.43 L607.55 758.43M581.76 691.59 L583.31 695.77 L585.68 699.6 L588.14 703.37 L590.6 707.14 L593.04 710.92 L595.42 714.74 L597.71 718.61 L599.91 722.54 L602 726.52 L603.97 730.57 L605.82 734.67 L607.56 738.82 L609.19 743.01 L610.72 747.24 L612.16 751.51 L613.52 755.8 L614.39 758.67M585.21 689.61 L588.78 692.31 L591.83 695.61 L594.88 698.93 L597.94 702.22 L600.98 705.54 L603.95 708.92 L606.82 712.38 L609.55 715.96 L612.13 719.65 L614.54 723.45 L616.78 727.35 L618.86 731.34 L620.78 735.41 L622.55 739.55 L624.2 743.73 L625.74 747.96 L627.19 752.22 L628.56 756.51 L629.44 759.38M588.66 687.23 L591.71 690.53 L594.88 693.72 L598.2 696.76 L601.58 699.74 L604.93 702.74 L608.21 705.82 L611.37 709.03 L614.37 712.38 L617.19 715.88 L619.82 719.54 L622.24 723.33 L624.45 727.25 L626.49 731.26 L628.35 735.36 L630.06 739.52 L631.66 743.73 L633.15 747.97 L634.55 752.25 L635.89 756.54 L636.75 759.42M592.1 684.45 L593.86 688.47 L597.17 691.51 L600.77 694.2 L604.45 696.8 L608.11 699.42 L611.7 702.13 L615.16 705 L618.46 708.06 L621.56 711.32 L624.43 714.79 L627.05 718.45 L629.43 722.27 L631.58 726.22 L633.52 730.28 L635.3 734.41 L636.93 738.61 L638.44 742.85 L639.86 747.12 L641.21 751.41 L642.5 755.72 L643.33 758.6M595.55 682.65 L599.91 683.78 L604.34 684.56 L608.78 685.26 L613.23 685.97 L617.66 686.73 L622.08 687.59 L626.47 688.59 L630.8 689.81 L635.02 691.35 L639.06 693.34 L642.74 695.92 L645.87 699.14 L648.36 702.88 L649.71 705.56M599 681.5 L603.5 681.38 L608 681.28 L612.5 681.18 L617 681.08 L621.49 680.96 L625.99 680.82 L630.49 680.65 L634.98 680.43 L639.47 680.13 L643.95 679.66 L643.95 679.66" stroke="#6470d8" stroke-width="0.9" opacity="0.82" fill="none"/><path d="M452.5 752.9H646.3" stroke="#4c6ca8" stroke-width="1.5" opacity="0.85"/></g><path d="M516.6 619 H583.5 V675 H516.6 Z" fill="#8c8c8e" filter="url(#sb)" opacity="0.42"/><clipPath id="bR4"><path d="M518.8 619 H581.3 V670 Q581.3 677 590 678 L594 681.4 L584 685 L570 688.5 L544.3 689.7 L520 686.5 L503 681.4 L507 678 Q518.8 677 518.8 670 Z"/></clipPath><path d="M518.8 619 H581.3 V670 Q581.3 677 590 678 L594 681.4 L584 685 L570 688.5 L544.3 689.7 L520 686.5 L503 681.4 L507 678 Q518.8 677 518.8 670 Z" fill="#939395" filter="url(#sb)"/><g clip-path="url(#bR4)" opacity="0.9"><path d="M453.4 620.5V755.3M456.34 620.5V755.3M459.28 620.5V755.3M462.22 620.5V755.3M465.15 620.5V755.3M468.09 620.5V755.3M471.03 620.5V755.3M473.97 620.5V755.3M476.91 620.5V755.3M479.85 620.5V755.3M482.78 620.5V755.3M485.72 620.5V755.3M488.66 620.5V755.3M491.6 620.5V755.3M494.54 620.5V755.3M497.48 620.5V755.3M500.42 620.5V755.3M503.35 620.5V755.3M506.29 620.5V755.3M509.23 620.5V755.3M512.17 620.5V755.3M515.11 620.5V755.3M518.05 620.5V755.3M520.99 620.5V755.3M523.92 620.5V755.3M526.86 620.5V755.3M529.8 620.5V755.3M532.74 620.5V755.3M535.68 620.5V755.3M538.62 620.5V755.3M541.55 620.5V755.3M544.49 620.5V755.3M547.43 620.5V755.3M550.37 620.5V755.3M553.31 620.5V755.3M556.25 620.5V755.3M559.19 620.5V755.3M562.12 620.5V755.3M565.06 620.5V755.3M568 620.5V755.3M570.94 620.5V755.3M573.88 620.5V755.3M576.82 620.5V755.3M579.76 620.5V755.3M582.69 620.5V755.3M585.63 620.5V755.3M588.57 620.5V755.3M591.51 620.5V755.3M594.45 620.5V755.3M597.39 620.5V755.3M600.32 620.5V755.3M603.26 620.5V755.3M606.2 620.5V755.3M609.14 620.5V755.3M612.08 620.5V755.3M615.02 620.5V755.3M617.96 620.5V755.3M620.89 620.5V755.3M623.83 620.5V755.3M626.77 620.5V755.3M629.71 620.5V755.3M632.65 620.5V755.3M635.59 620.5V755.3M638.53 620.5V755.3M641.46 620.5V755.3M644.4 620.5V755.3M452.5 622.1H646.3M452.5 625.04H646.3M452.5 627.98H646.3M452.5 630.92H646.3M452.5 633.85H646.3M452.5 636.79H646.3M452.5 639.73H646.3M452.5 642.67H646.3M452.5 645.61H646.3M452.5 648.55H646.3M452.5 651.48H646.3M452.5 654.42H646.3M452.5 657.36H646.3M452.5 660.3H646.3M452.5 663.24H646.3M452.5 666.18H646.3M452.5 669.12H646.3M452.5 672.05H646.3M452.5 674.99H646.3M452.5 677.93H646.3M452.5 680.87H646.3M452.5 683.81H646.3M452.5 686.75H646.3M452.5 689.69H646.3M452.5 692.62H646.3M452.5 695.56H646.3M452.5 698.5H646.3M452.5 701.44H646.3M452.5 704.38H646.3M452.5 707.32H646.3M452.5 710.25H646.3M452.5 713.19H646.3M452.5 716.13H646.3M452.5 719.07H646.3M452.5 722.01H646.3M452.5 724.95H646.3M452.5 727.89H646.3M452.5 730.82H646.3M452.5 733.76H646.3M452.5 736.7H646.3M452.5 739.64H646.3M452.5 742.58H646.3M452.5 745.52H646.3M452.5 748.46H646.3M452.5 751.39H646.3M452.5 754.33H646.3" stroke="#5e5e60" stroke-width="0.8" fill="none"/></g><path d="M508 679 H590" stroke="#505050" stroke-width="3" opacity="0.45"/><path d="M511.4 683.1 Q544 686.3 580.5 683.1" stroke="#c6d0dc" stroke-width="0.9" fill="none"/><path d="M499 680.9 C499.67 680.98 499.5 680.47 503 681.4 C506.5 682.33 513.12 685.12 520 686.5 C526.88 687.88 535.97 689.37 544.3 689.7 C552.63 690.03 563.38 689.28 570 688.5 C576.62 687.72 580.05 686.18 584 685 C587.95 683.82 591.2 682.08 593.7 681.4 C596.2 680.72 598.12 680.98 599 680.9 L599 680.4 L499 680.4Z" fill="#b4c4dc" opacity="0.12"/><path d="M499 681 C499.33 681.08 499.17 680.58 501 681.5 C502.83 682.42 506.88 684.73 510 686.5 C513.12 688.27 516.37 690.72 519.7 692.1 C523.03 693.48 525.9 694.1 530 694.8 C534.1 695.5 539.3 696.1 544.3 696.3 C549.3 696.5 555.33 696.28 560 696 C564.67 695.72 568.63 695.43 572.3 694.6 C575.97 693.77 579.53 692.1 582 691 C584.47 689.9 585.43 689.17 587.1 688 C588.77 686.83 590.35 685.1 592 684 C593.65 682.9 595.83 681.9 597 681.4 C598.17 680.9 598.67 681.07 599 681 L599 680.9 C598.12 680.98 596.2 680.72 593.7 681.4 C591.2 682.08 587.95 683.82 584 685 C580.05 686.18 576.62 687.72 570 688.5 C563.38 689.28 552.63 690.03 544.3 689.7 C535.97 689.37 526.88 687.88 520 686.5 C513.12 685.12 506.5 682.33 503 681.4 C499.5 680.47 499.67 680.98 499 680.9Z" fill="#8cb4d8" stroke="#8cb4d8" stroke-width="0.5"/><clipPath id="crb4"><path d="M499 681 C499.33 681.08 499.17 680.58 501 681.5 C502.83 682.42 506.88 684.73 510 686.5 C513.12 688.27 516.37 690.72 519.7 692.1 C523.03 693.48 525.9 694.1 530 694.8 C534.1 695.5 539.3 696.1 544.3 696.3 C549.3 696.5 555.33 696.28 560 696 C564.67 695.72 568.63 695.43 572.3 694.6 C575.97 693.77 579.53 692.1 582 691 C584.47 689.9 585.43 689.17 587.1 688 C588.77 686.83 590.35 685.1 592 684 C593.65 682.9 595.83 681.9 597 681.4 C598.17 680.9 598.67 681.07 599 681 L599 680.9 C598.12 680.98 596.2 680.72 593.7 681.4 C591.2 682.08 587.95 683.82 584 685 C580.05 686.18 576.62 687.72 570 688.5 C563.38 689.28 552.63 690.03 544.3 689.7 C535.97 689.37 526.88 687.88 520 686.5 C513.12 685.12 506.5 682.33 503 681.4 C499.5 680.47 499.67 680.98 499 680.9Z"/></clipPath><g clip-path="url(#crb4)" opacity="0.35"><path d="M453.4 620.5V755.3M456.34 620.5V755.3M459.28 620.5V755.3M462.22 620.5V755.3M465.15 620.5V755.3M468.09 620.5V755.3M471.03 620.5V755.3M473.97 620.5V755.3M476.91 620.5V755.3M479.85 620.5V755.3M482.78 620.5V755.3M485.72 620.5V755.3M488.66 620.5V755.3M491.6 620.5V755.3M494.54 620.5V755.3M497.48 620.5V755.3M500.42 620.5V755.3M503.35 620.5V755.3M506.29 620.5V755.3M509.23 620.5V755.3M512.17 620.5V755.3M515.11 620.5V755.3M518.05 620.5V755.3M520.99 620.5V755.3M523.92 620.5V755.3M526.86 620.5V755.3M529.8 620.5V755.3M532.74 620.5V755.3M535.68 620.5V755.3M538.62 620.5V755.3M541.55 620.5V755.3M544.49 620.5V755.3M547.43 620.5V755.3M550.37 620.5V755.3M553.31 620.5V755.3M556.25 620.5V755.3M559.19 620.5V755.3M562.12 620.5V755.3M565.06 620.5V755.3M568 620.5V755.3M570.94 620.5V755.3M573.88 620.5V755.3M576.82 620.5V755.3M579.76 620.5V755.3M582.69 620.5V755.3M585.63 620.5V755.3M588.57 620.5V755.3M591.51 620.5V755.3M594.45 620.5V755.3M597.39 620.5V755.3M600.32 620.5V755.3M603.26 620.5V755.3M606.2 620.5V755.3M609.14 620.5V755.3M612.08 620.5V755.3M615.02 620.5V755.3M617.96 620.5V755.3M620.89 620.5V755.3M623.83 620.5V755.3M626.77 620.5V755.3M629.71 620.5V755.3M632.65 620.5V755.3M635.59 620.5V755.3M638.53 620.5V755.3M641.46 620.5V755.3M644.4 620.5V755.3M452.5 622.1H646.3M452.5 625.04H646.3M452.5 627.98H646.3M452.5 630.92H646.3M452.5 633.85H646.3M452.5 636.79H646.3M452.5 639.73H646.3M452.5 642.67H646.3M452.5 645.61H646.3M452.5 648.55H646.3M452.5 651.48H646.3M452.5 654.42H646.3M452.5 657.36H646.3M452.5 660.3H646.3M452.5 663.24H646.3M452.5 666.18H646.3M452.5 669.12H646.3M452.5 672.05H646.3M452.5 674.99H646.3M452.5 677.93H646.3M452.5 680.87H646.3M452.5 683.81H646.3M452.5 686.75H646.3M452.5 689.69H646.3M452.5 692.62H646.3M452.5 695.56H646.3M452.5 698.5H646.3M452.5 701.44H646.3M452.5 704.38H646.3M452.5 707.32H646.3M452.5 710.25H646.3M452.5 713.19H646.3M452.5 716.13H646.3M452.5 719.07H646.3M452.5 722.01H646.3M452.5 724.95H646.3M452.5 727.89H646.3M452.5 730.82H646.3M452.5 733.76H646.3M452.5 736.7H646.3M452.5 739.64H646.3M452.5 742.58H646.3M452.5 745.52H646.3M452.5 748.46H646.3M452.5 751.39H646.3M452.5 754.33H646.3" stroke="#7a8aa0" stroke-width="0.75" fill="none"/></g><path d="M499 680.9 C499.67 680.98 499.5 680.47 503 681.4 C506.5 682.33 513.12 685.12 520 686.5 C526.88 687.88 535.97 689.37 544.3 689.7 C552.63 690.03 563.38 689.28 570 688.5 C576.62 687.72 580.05 686.18 584 685 C587.95 683.82 591.2 682.08 593.7 681.4 C596.2 680.72 598.12 680.98 599 680.9" fill="none" stroke="#6c88b0" stroke-width="0.6" opacity="0.7"/><path d="M499 681 C499.33 681.08 499.17 680.58 501 681.5 C502.83 682.42 506.88 684.73 510 686.5 C513.12 688.27 516.37 690.72 519.7 692.1 C523.03 693.48 525.9 694.1 530 694.8 C534.1 695.5 539.3 696.1 544.3 696.3 C549.3 696.5 555.33 696.28 560 696 C564.67 695.72 568.63 695.43 572.3 694.6 C575.97 693.77 579.53 692.1 582 691 C584.47 689.9 585.43 689.17 587.1 688 C588.77 686.83 590.35 685.1 592 684 C593.65 682.9 595.83 681.9 597 681.4 C598.17 680.9 598.67 681.07 599 681" fill="none" stroke="#3a5890" stroke-width="0.9"/><path d="M451.5 684.55 L455 684.55 L458.5 681.75 L501 681.75" fill="none" stroke="#b8def6" stroke-width="1" transform="translate(0,-1.85)"/><path d="M451.5 684.55 L455 684.55 L458.5 681.75 L501 681.75" fill="none" stroke="#4a8cc6" stroke-width="2.9" stroke-linejoin="round"/><path d="M451.5 684.55 L455 684.55 L458.5 681.75 L501 681.75" fill="none" stroke="#28508c" stroke-width="0.8" transform="translate(0,1.15)"/><path d="M598 681 L640.3 681.75 L643.8 684.55 L647.3 684.55" fill="none" stroke="#b8def6" stroke-width="1" transform="translate(0,-1.85)"/><path d="M598 681 L640.3 681.75 L643.8 684.55 L647.3 684.55" fill="none" stroke="#4a8cc6" stroke-width="2.9" stroke-linejoin="round"/><path d="M598 681 L640.3 681.75 L643.8 684.55 L647.3 684.55" fill="none" stroke="#28508c" stroke-width="0.8" transform="translate(0,1.15)"/><path d="M520.2 624V690M527.1 624V690M534 624V690M540.6 624V690M547.6 624V690M554.5 624V690M561.1 624V690M567.9 624V690M574.8 624V690" stroke="#e8c030" stroke-width="0.6" opacity="0.45" fill="none"/><polygon points="527.10,666.00 525.10,661.62 529.10,661.62" fill="#f2e21a"/><polygon points="534.00,666.00 532.00,661.62 536.00,661.62" fill="#f2e21a"/><polygon points="540.60,666.00 538.60,661.62 542.60,661.62" fill="#f2e21a"/><polygon points="554.50,666.00 552.50,661.62 556.50,661.62" fill="#f2e21a"/><polygon points="561.10,666.00 559.10,661.62 563.10,661.62" fill="#f2e21a"/><polygon points="547.60,661.60 545.60,657.23 549.60,657.23" fill="#f2e21a"/><polygon points="567.90,661.60 565.90,657.23 569.90,657.23" fill="#f2e21a"/><polygon points="574.80,671.00 572.80,666.62 576.80,666.62" fill="#f2e21a"/><path d="M515.7 634V662M581.9 640V678" stroke="#f03030" stroke-width="0.6" opacity="0.5" fill="none"/><polygon points="520.20,661.90 518.20,657.52 522.20,657.52" fill="#f79a1a"/><polygon points="515.90,646.80 513.90,642.42 517.90,642.42" fill="#f0281e"/><polygon points="581.80,657.00 579.80,652.62 583.80,652.62" fill="#f0281e"/><polygon points="501.60,679.40 505.80,677.48 505.80,681.32" fill="#1a22f0"/><polygon points="593.40,679.40 589.20,681.32 589.20,677.48" fill="#1a22f0"/><polygon points="494.44,684.53 498.22,681.89 498.92,685.66" fill="#1a22f0"/><polygon points="475.79,693.83 478.91,690.43 480.40,693.97" fill="#1a22f0"/><polygon points="476.05,701.80 478.35,697.79 480.58,700.91" fill="#1a22f0"/><polygon points="469.01,707.81 470.60,703.47 473.33,706.17" fill="#1a22f0"/><polygon points="489.76,705.25 491.49,700.97 494.13,703.76" fill="#1a22f0"/><polygon points="502.58,707.13 503.52,702.61 506.61,704.89" fill="#1a22f0"/><polygon points="480.59,718.04 481.50,713.52 484.61,715.77" fill="#1a22f0"/><polygon points="506.68,716.72 506.94,712.11 510.34,713.90" fill="#1a22f0"/><polygon points="509.94,721.80 509.86,717.18 513.38,718.71" fill="#1a22f0"/><polygon points="491.59,727.73 491.83,723.12 495.23,724.89" fill="#1a22f0"/><polygon points="469.69,732.78 469.71,728.16 473.20,729.77" fill="#1a22f0"/><polygon points="510.15,735.08 509.64,730.49 513.29,731.69" fill="#1a22f0"/><polygon points="489.60,739.12 489.40,734.51 492.96,735.96" fill="#1a22f0"/><polygon points="527.79,739.27 526.61,734.80 530.40,735.45" fill="#1a22f0"/><polygon points="526.58,716.92 525.81,712.36 529.52,713.36" fill="#1a22f0"/><polygon points="537.27,716.28 535.95,711.85 539.75,712.38" fill="#1a22f0"/><polygon points="546.95,725.80 545.12,721.56 548.96,721.64" fill="#1a22f0"/><polygon points="552.80,721.00 550.71,716.88 554.54,716.72" fill="#1a22f0"/><polygon points="541.54,735.19 539.90,730.88 543.73,731.13" fill="#1a22f0"/><polygon points="559.85,730.49 557.50,726.51 561.32,726.11" fill="#1a22f0"/><polygon points="564.81,705.95 562.04,702.25 565.79,701.43" fill="#1a22f0"/><polygon points="566.16,735.17 563.63,731.31 567.43,730.73" fill="#1a22f0"/><polygon points="573.57,739.25 570.86,735.51 574.63,734.76" fill="#1a22f0"/><polygon points="579.88,739.23 577.00,735.62 580.73,734.69" fill="#1a22f0"/><polygon points="576.99,716.17 573.80,712.83 577.42,711.57" fill="#1a22f0"/><polygon points="581.86,713.00 578.42,709.92 581.93,708.38" fill="#1a22f0"/><polygon points="598.43,718.56 594.63,715.94 597.92,713.97" fill="#1a22f0"/><polygon points="602.84,709.54 598.67,707.55 601.62,705.09" fill="#1a22f0"/><polygon points="598.10,735.02 594.74,731.85 598.30,730.41" fill="#1a22f0"/><polygon points="616.34,705.14 611.89,703.92 614.35,700.97" fill="#1a22f0"/><polygon points="622.87,716.50 618.78,714.35 621.82,712.00" fill="#1a22f0"/><polygon points="620.30,731.13 616.67,728.28 620.08,726.52" fill="#1a22f0"/><polygon points="617.93,740.31 614.53,737.18 618.07,735.70" fill="#1a22f0"/><polygon points="607.96,689.60 603.37,690.01 604.64,686.39" fill="#1a22f0"/><polygon points="626.28,685.40 621.88,686.78 622.35,682.97" fill="#1a22f0"/><polygon points="627.77,691.79 623.17,692.22 624.44,688.59" fill="#1a22f0"/><polygon points="632.63,703.56 628.18,702.29 630.68,699.37" fill="#1a22f0"/><polygon points="632.44,708.45 628.17,706.70 630.97,704.07" fill="#1a22f0"/><polygon points="632.92,726.13 629.26,723.30 632.66,721.51" fill="#1a22f0"/><polygon points="503.04,683.28 507.65,682.91 506.33,686.52" fill="#f0281e"/></g><rect x="452.5" y="620.5" width="193.8" height="134.8" fill="none" stroke="#262626" stroke-width="0.8"/><path d="M452.5 620.5H646.3" stroke="#7a7a7a" stroke-width="1.5"/><path d="M449.2 623.44H452.5" stroke="#262626" stroke-width="0.8"/><text x="446.8" y="627.14" font-size="10.15" text-anchor="end" fill="#262626" stroke="#262626" stroke-width="0.2" textLength="11.13" lengthAdjust="spacingAndGlyphs">10</text><path d="M449.2 652.82H452.5" stroke="#262626" stroke-width="0.8"/><text x="446.8" y="656.52" font-size="10.15" text-anchor="end" fill="#262626" stroke="#262626" stroke-width="0.2" textLength="5.57" lengthAdjust="spacingAndGlyphs">5</text><path d="M449.2 682.21H452.5" stroke="#262626" stroke-width="0.8"/><text x="446.8" y="685.91" font-size="10.15" text-anchor="end" fill="#262626" stroke="#262626" stroke-width="0.2" textLength="5.57" lengthAdjust="spacingAndGlyphs">0</text><path d="M449.2 711.59H452.5" stroke="#262626" stroke-width="0.8"/><text x="446.8" y="715.29" font-size="10.15" text-anchor="end" fill="#262626" stroke="#262626" stroke-width="0.2" textLength="12.9" lengthAdjust="spacingAndGlyphs">−5</text><path d="M449.2 740.98H452.5" stroke="#262626" stroke-width="0.8"/><text x="446.8" y="744.68" font-size="10.15" text-anchor="end" fill="#262626" stroke="#262626" stroke-width="0.2" textLength="18.46" lengthAdjust="spacingAndGlyphs">−10</text><path d="M461.25 755.3V758.6" stroke="#262626" stroke-width="0.8"/><text x="461.25" y="769.1" font-size="10.15" text-anchor="middle" fill="#262626" stroke="#262626" stroke-width="0.2" textLength="18.46" lengthAdjust="spacingAndGlyphs">−15</text><path d="M490.63 755.3V758.6" stroke="#262626" stroke-width="0.8"/><text x="490.63" y="769.1" font-size="10.15" text-anchor="middle" fill="#262626" stroke="#262626" stroke-width="0.2" textLength="18.46" lengthAdjust="spacingAndGlyphs">−10</text><path d="M520.01 755.3V758.6" stroke="#262626" stroke-width="0.8"/><text x="520.01" y="769.1" font-size="10.15" text-anchor="middle" fill="#262626" stroke="#262626" stroke-width="0.2" textLength="12.9" lengthAdjust="spacingAndGlyphs">−5</text><path d="M549.4 755.3V758.6" stroke="#262626" stroke-width="0.8"/><text x="549.4" y="769.1" font-size="10.15" text-anchor="middle" fill="#262626" stroke="#262626" stroke-width="0.2" textLength="5.57" lengthAdjust="spacingAndGlyphs">0</text><path d="M578.78 755.3V758.6" stroke="#262626" stroke-width="0.8"/><text x="578.78" y="769.1" font-size="10.15" text-anchor="middle" fill="#262626" stroke="#262626" stroke-width="0.2" textLength="5.57" lengthAdjust="spacingAndGlyphs">5</text><path d="M608.17 755.3V758.6" stroke="#262626" stroke-width="0.8"/><text x="608.17" y="769.1" font-size="10.15" text-anchor="middle" fill="#262626" stroke="#262626" stroke-width="0.2" textLength="11.13" lengthAdjust="spacingAndGlyphs">10</text><path d="M637.55 755.3V758.6" stroke="#262626" stroke-width="0.8"/><text x="637.55" y="769.1" font-size="10.15" text-anchor="middle" fill="#262626" stroke="#262626" stroke-width="0.2" textLength="11.13" lengthAdjust="spacingAndGlyphs">15</text><text x="549.9" y="615.8" font-size="11.55" text-anchor="middle" fill="#262626" stroke="#262626" stroke-width="0.2" textLength="73.75" lengthAdjust="spacingAndGlyphs">T = 5 d&#160; 8.0 h</text></g></svg></body></html>
